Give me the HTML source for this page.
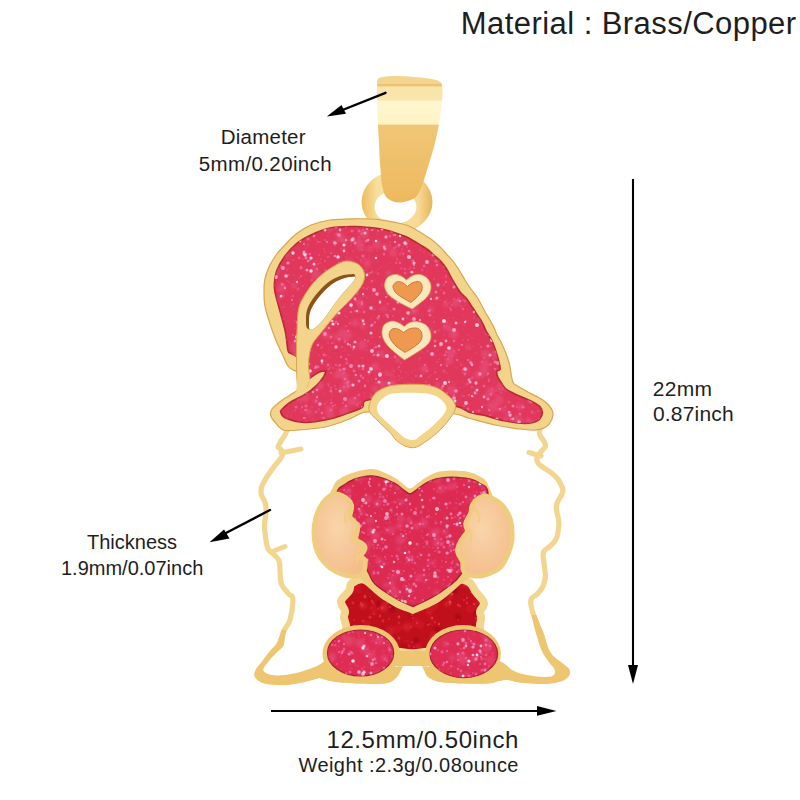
<!DOCTYPE html>
<html><head><meta charset="utf-8"><style>
html,body{margin:0;padding:0;background:#fff;}
body{width:800px;height:800px;position:relative;overflow:hidden;}
.t{position:absolute;font-family:"Liberation Sans",sans-serif;color:#1e1e1e;white-space:nowrap;line-height:1;}
.c{text-align:center;}
</style></head><body>
<svg width="800" height="800" viewBox="0 0 800 800" style="position:absolute;left:0;top:0">
<defs>
<linearGradient id="bailg" x1="0" y1="0" x2="0" y2="1">
 <stop offset="0" stop-color="#f4d48e"/><stop offset="0.06" stop-color="#f4d48e"/>
 <stop offset="0.07" stop-color="#e6bb6a"/><stop offset="0.09" stop-color="#f9e4a8"/>
 <stop offset="0.19" stop-color="#f9e6ad"/><stop offset="0.2" stop-color="#fff6cf"/>
 <stop offset="0.38" stop-color="#fff3c6"/><stop offset="0.39" stop-color="#f0c676"/>
 <stop offset="1" stop-color="#edb95e"/>
</linearGradient>
<linearGradient id="ringg" x1="0" y1="0" x2="1" y2="0">
 <stop offset="0" stop-color="#ecbc60"/><stop offset="0.22" stop-color="#f8df9c"/><stop offset="0.8" stop-color="#f6da96"/><stop offset="1" stop-color="#e8b458"/>
</linearGradient>
<radialGradient id="peachg" cx="0.45" cy="0.4" r="0.7">
 <stop offset="0" stop-color="#f9d5aa"/><stop offset="1" stop-color="#f4bc8a"/>
</radialGradient>
<filter id="blur05" x="-50%" y="-50%" width="200%" height="200%"><feGaussianBlur stdDeviation="0.45"/></filter>
<filter id="blur2" x="-50%" y="-50%" width="200%" height="200%"><feGaussianBlur stdDeviation="1.5"/></filter>
<clipPath id="silclip"><path d="M264.0,290.0 C264.0,286.4 264.1,284.5 264.4,282.0 C264.7,279.5 265.1,277.8 266.0,275.0 C266.9,272.2 268.3,268.3 270.0,265.0 C271.7,261.7 273.7,258.2 276.0,255.0 C278.3,251.8 280.7,249.5 284.0,246.0 C287.3,242.5 291.5,237.5 296.0,234.0 C300.5,230.5 305.3,227.3 311.0,225.0 C316.7,222.7 322.7,221.0 330.0,220.0 C337.3,219.0 347.1,218.9 355.0,218.8 C362.9,218.7 369.6,218.5 377.5,219.4 C385.4,220.3 396.8,222.7 402.5,224.0 C408.2,225.3 409.0,226.1 412.0,227.5 C415.0,228.9 418.0,230.9 420.6,232.5 C423.2,234.1 425.3,235.4 427.5,236.9 C429.7,238.4 431.7,239.6 433.8,241.3 C435.9,243.0 437.9,244.8 440.0,246.9 C442.1,249.0 444.2,251.5 446.3,253.8 C448.4,256.1 450.6,258.3 452.5,260.6 C454.4,262.9 455.4,264.3 457.5,267.5 C459.6,270.7 462.8,276.4 465.0,280.0 C467.2,283.6 469.0,286.2 471.0,289.0 C473.0,291.8 475.2,294.3 477.0,297.0 C478.8,299.7 480.1,302.4 481.5,305.0 C482.9,307.6 484.1,310.0 485.5,312.5 C486.9,315.0 488.6,317.5 490.0,320.0 C491.4,322.5 492.8,325.0 494.0,327.5 C495.2,330.0 495.8,332.6 497.0,335.0 C498.2,337.4 499.6,339.1 501.0,342.0 C502.4,344.9 504.2,348.9 505.6,352.5 C507.0,356.1 508.4,360.1 509.4,363.8 C510.3,367.6 510.7,371.9 511.3,375.0 C511.9,378.1 512.1,380.7 513.1,382.5 C514.1,384.3 515.0,384.4 517.5,386.0 C520.0,387.6 523.6,389.5 527.8,391.9 C532.0,394.2 539.0,397.4 542.9,400.1 C546.8,402.9 549.5,405.9 551.2,408.4 C552.9,410.9 553.2,412.6 553.0,415.0 C552.8,417.4 551.3,420.9 550.0,423.0 C548.7,425.1 546.4,426.1 545.0,427.5 C543.6,428.9 542.2,429.9 541.9,431.3 C541.6,432.7 542.4,434.2 543.1,435.6 C543.8,437.1 545.5,438.5 546.3,440.0 C547.1,441.5 547.9,443.0 548.1,444.4 C548.3,445.8 548.2,446.8 547.5,448.1 C546.8,449.5 544.9,451.1 543.8,452.5 C542.6,453.9 541.3,455.1 540.6,456.3 C539.9,457.6 539.1,458.8 539.4,460.0 C539.7,461.2 540.3,462.1 542.5,463.8 C544.7,465.6 549.6,468.2 552.5,470.5 C555.4,472.8 558.1,475.1 560.0,477.5 C561.9,479.9 563.1,482.9 564.0,485.0 C564.9,487.1 565.5,488.2 565.5,490.0 C565.5,491.8 564.8,494.2 564.0,496.0 C563.2,497.8 561.8,499.3 561.0,501.0 C560.2,502.7 559.2,504.2 559.0,506.0 C558.8,507.8 559.1,509.2 559.5,512.0 C559.9,514.8 561.6,518.5 561.5,523.0 C561.4,527.5 560.6,534.8 559.0,539.0 C557.4,543.2 554.2,545.7 552.0,548.0 C549.8,550.3 546.9,550.7 546.0,553.0 C545.1,555.3 546.2,558.2 546.5,562.0 C546.8,565.8 548.1,572.0 548.0,576.0 C547.9,580.0 546.7,583.7 546.0,586.0 C545.3,588.3 545.0,588.3 543.8,590.0 C542.6,591.7 540.5,594.6 538.8,596.3 C537.1,598.0 534.6,598.5 533.8,600.0 C533.0,601.5 533.4,603.1 533.8,605.6 C534.2,608.1 535.3,611.9 536.3,615.0 C537.3,618.1 538.8,621.3 540.0,624.4 C541.2,627.5 542.3,629.6 543.8,633.8 C545.3,638.0 546.9,645.4 548.8,649.4 C550.7,653.4 552.6,655.1 555.0,657.5 C557.4,659.9 560.8,661.9 563.1,663.8 C565.4,665.7 567.6,667.3 568.8,668.8 C569.9,670.3 570.2,671.5 570.0,673.0 C569.8,674.5 569.0,676.1 567.5,677.5 C566.0,678.9 564.4,680.2 561.3,681.3 C558.2,682.3 553.0,683.4 548.8,683.8 C544.6,684.2 541.1,684.0 536.3,683.8 C531.5,683.6 524.8,683.1 520.0,682.5 C515.2,681.9 511.0,680.2 507.5,680.0 C504.0,679.8 502.2,680.4 499.0,681.0 C495.8,681.6 494.0,683.1 488.0,683.5 C482.0,683.9 471.0,683.8 463.0,683.5 C455.0,683.2 445.8,683.1 440.0,682.0 C434.2,680.9 430.7,679.0 428.0,677.0 C425.3,675.0 425.3,671.9 424.0,670.0 C422.7,668.1 423.2,666.2 420.0,665.5 C416.8,664.8 408.2,664.8 405.0,665.5 C401.8,666.2 402.5,667.9 401.0,670.0 C399.5,672.1 398.7,675.8 396.0,678.0 C393.3,680.2 391.0,682.6 385.0,683.5 C379.0,684.4 368.2,683.8 360.0,683.5 C351.8,683.2 342.2,682.8 336.0,682.0 C329.8,681.2 325.6,679.6 322.5,679.0 C319.4,678.4 321.2,677.7 317.5,678.4 C313.8,679.1 304.5,682.0 300.0,683.0 C295.5,684.0 294.3,684.1 290.6,684.4 C286.9,684.7 282.2,685.1 278.0,685.0 C273.8,684.9 269.0,684.6 265.6,683.8 C262.2,683.0 259.4,681.5 257.5,680.0 C255.6,678.5 254.6,676.9 254.4,675.0 C254.2,673.1 255.0,671.1 256.3,668.8 C257.7,666.5 260.2,664.0 262.5,661.0 C264.8,658.0 267.6,654.0 270.0,651.0 C272.4,648.0 275.1,646.5 277.0,643.0 C278.9,639.5 279.8,634.0 281.5,630.0 C283.2,626.0 286.0,624.0 287.5,619.0 C289.0,614.0 290.2,603.7 290.3,600.0 C290.4,596.3 289.2,598.5 288.0,597.0 C286.8,595.5 284.3,593.0 282.8,591.0 C281.3,589.0 279.9,587.8 279.0,585.0 C278.1,582.2 277.9,577.8 277.5,574.0 C277.1,570.2 277.6,565.3 276.8,562.5 C276.1,559.7 274.8,559.2 273.0,557.3 C271.2,555.4 267.8,553.2 266.3,551.0 C264.8,548.8 264.6,546.2 264.0,544.0 C263.4,541.8 263.3,539.8 263.0,537.5 C262.7,535.2 262.2,532.6 262.0,530.0 C261.8,527.4 261.8,524.3 262.0,522.0 C262.2,519.7 262.8,518.0 263.0,516.0 C263.2,514.0 263.5,511.8 263.5,510.0 C263.5,508.2 263.3,506.5 263.0,505.0 C262.7,503.5 262.2,502.5 261.5,501.0 C260.8,499.5 259.5,497.8 259.0,496.0 C258.5,494.2 258.3,492.0 258.5,490.0 C258.7,488.0 258.9,486.5 260.0,484.0 C261.1,481.5 263.0,478.2 265.0,475.0 C267.0,471.8 269.5,468.5 272.0,465.0 C274.5,461.5 279.4,456.9 280.0,454.0 C280.6,451.1 275.9,449.7 275.6,447.5 C275.3,445.3 276.6,443.8 278.0,441.0 C279.4,438.2 283.6,433.3 283.8,431.0 C283.9,428.7 280.2,428.2 279.0,427.0 C277.8,425.8 277.8,425.8 276.5,424.0 C275.2,422.2 271.8,419.0 271.0,416.5 C270.2,414.0 270.1,411.8 272.0,409.0 C273.9,406.2 279.5,402.3 282.5,400.0 C285.5,397.7 287.5,396.8 290.0,395.0 C292.5,393.2 296.2,392.0 297.5,389.5 C298.8,387.0 298.1,382.9 298.0,380.0 C297.9,377.1 297.8,373.7 297.0,372.0 C296.2,370.3 294.5,371.0 293.0,370.0 C291.5,369.0 289.8,368.6 288.0,366.0 C286.2,363.4 284.6,359.0 282.5,354.6 C280.4,350.2 277.9,345.2 275.6,339.5 C273.3,333.8 270.6,326.2 268.8,320.2 C266.9,314.3 265.4,308.8 264.6,303.8 C263.8,298.7 264.0,293.6 264.0,290.0 Z"/></clipPath>
<clipPath id="pinkclip"><path d="M290.8,353.3 C289.3,352.2 288.9,354.2 288.0,350.5 C287.1,346.8 286.7,337.9 285.3,331.3 C283.9,324.7 281.5,317.2 279.8,310.6 C278.1,304.1 275.9,296.6 275.0,292.0 C274.1,287.4 274.2,286.7 274.5,283.0 C274.8,279.3 275.2,274.5 277.0,270.0 C278.8,265.5 281.8,260.3 285.0,256.0 C288.2,251.7 291.7,247.5 296.0,244.0 C300.3,240.5 305.3,237.7 311.0,235.0 C316.7,232.3 322.7,229.4 330.0,228.0 C337.3,226.6 346.7,226.4 355.0,226.5 C363.3,226.6 373.8,227.9 380.0,228.8 C386.2,229.7 388.3,230.7 392.5,231.9 C396.7,233.2 401.4,234.7 405.0,236.3 C408.6,237.9 411.7,239.8 414.4,241.3 C417.1,242.8 419.1,244.1 421.3,245.5 C423.5,246.9 425.4,247.9 427.5,249.5 C429.6,251.1 431.7,253.2 433.8,255.0 C435.9,256.9 438.0,258.4 440.0,260.6 C442.0,262.8 443.9,264.8 446.0,268.0 C448.1,271.2 450.2,276.0 452.5,280.0 C454.8,284.0 457.8,289.0 460.0,292.0 C462.2,295.0 463.9,295.4 466.0,298.0 C468.1,300.6 470.5,304.5 472.5,307.5 C474.5,310.5 476.3,313.4 478.0,316.0 C479.7,318.6 481.1,320.3 482.5,323.0 C483.9,325.7 484.9,329.0 486.5,332.0 C488.1,335.0 490.4,337.6 492.0,341.0 C493.6,344.4 495.1,348.7 496.3,352.5 C497.5,356.3 498.8,361.0 499.4,363.8 C500.0,366.6 500.4,368.1 500.0,369.4 C499.6,370.6 497.3,370.1 496.9,371.3 C496.5,372.5 496.7,374.2 497.5,376.3 C498.3,378.4 500.5,381.7 501.9,383.8 C503.3,385.9 504.3,387.6 506.0,389.0 C507.7,390.4 510.0,391.4 512.0,392.5 C514.0,393.6 514.8,394.0 518.1,395.5 C521.4,397.0 528.2,399.6 531.9,401.5 C535.6,403.4 538.5,404.9 540.2,407.0 C541.9,409.1 542.7,411.6 542.2,413.9 C541.7,416.2 540.3,419.2 537.4,420.8 C534.5,422.4 530.5,423.5 525.0,423.5 C519.5,423.5 511.3,422.2 504.4,420.8 C497.5,419.4 489.5,416.7 483.8,415.3 C478.1,413.9 474.8,414.1 470.0,412.5 C465.2,410.9 465.0,408.1 455.0,406.0 C445.0,403.9 424.5,401.0 410.0,400.0 C395.5,399.0 376.0,398.8 368.0,400.0 C360.0,401.2 365.5,405.2 362.0,407.5 C358.5,409.8 352.8,411.5 347.0,413.5 C341.2,415.5 334.5,418.0 327.5,419.5 C320.5,421.0 312.0,422.8 305.0,422.5 C298.0,422.2 289.6,419.9 285.5,418.0 C281.4,416.1 280.5,411.0 280.5,411.0 C280.5,411.0 285.9,405.2 290.0,402.5 C294.1,399.8 300.5,397.4 305.0,394.5 C309.5,391.6 313.9,387.9 317.0,385.0 C320.1,382.1 322.0,379.3 323.5,377.0 C325.0,374.7 326.0,371.0 326.0,371.0 C326.0,371.0 321.6,371.2 319.5,372.0 C317.4,372.8 315.2,374.4 313.5,375.5 C311.8,376.6 309.5,378.5 309.5,378.5 C309.5,378.5 308.1,377.1 307.0,375.0 C305.9,372.9 304.7,369.0 303.0,366.0 C301.3,363.0 299.0,359.1 297.0,357.0 C295.0,354.9 292.3,354.4 290.8,353.3 Z"/></clipPath>
<clipPath id="heartclip"><path d="M337.0,493.0 C337.7,487.2 341.2,487.2 344.0,485.0 C346.8,482.8 350.3,480.9 353.8,479.5 C357.3,478.1 361.2,477.0 365.0,476.5 C368.8,476.0 371.4,475.3 376.3,476.4 C381.2,477.5 389.9,481.0 394.3,483.2 C398.8,485.4 400.4,487.7 403.0,489.5 C405.6,491.3 407.7,494.0 410.0,494.0 C412.3,494.0 414.4,491.3 417.0,489.5 C419.6,487.7 422.7,484.9 425.9,483.2 C429.1,481.4 432.6,479.9 436.0,479.0 C439.4,478.1 442.3,477.8 446.0,477.5 C449.7,477.2 454.2,477.3 458.0,477.5 C461.8,477.7 465.1,477.7 468.6,478.6 C472.1,479.5 475.8,480.4 479.0,483.0 C482.2,485.6 487.8,484.5 488.0,494.0 C488.2,503.5 484.5,526.7 480.0,540.0 C475.5,553.3 466.2,566.3 461.0,574.0 C455.8,581.7 454.0,582.0 449.0,586.0 C444.0,590.0 437.0,594.6 431.0,598.0 C425.0,601.4 413.0,606.5 413.0,606.5 C413.0,606.5 401.3,601.8 395.0,598.0 C388.7,594.2 379.7,588.7 375.0,584.0 C370.3,579.3 372.8,580.7 367.0,570.0 C361.2,559.3 345.0,532.8 340.0,520.0 C335.0,507.2 336.3,498.8 337.0,493.0 Z"/></clipPath>
<clipPath id="redclip"><path d="M352.0,583.0 C349.3,584.8 350.8,588.0 349.0,591.0 C347.2,594.0 341.7,597.7 341.0,601.0 C340.3,604.3 344.5,608.3 345.0,611.0 C345.5,613.7 343.8,614.7 344.0,617.0 C344.2,619.3 344.7,620.8 346.0,625.0 C347.3,629.2 343.0,637.5 352.0,642.0 C361.0,646.5 387.8,650.3 400.0,652.0 C412.2,653.7 412.5,653.7 425.0,652.0 C437.5,650.3 465.8,646.5 475.0,642.0 C484.2,637.5 479.0,629.2 480.0,625.0 C481.0,620.8 481.0,619.3 481.0,617.0 C481.0,614.7 479.5,613.3 480.0,611.0 C480.5,608.7 484.7,606.2 484.0,603.0 C483.3,599.8 478.3,595.3 476.0,592.0 C473.7,588.7 472.7,585.0 470.0,583.0 C467.3,581.0 465.0,578.5 460.0,580.0 C455.0,581.5 447.8,587.3 440.0,592.0 C432.2,596.7 422.2,607.3 413.0,608.0 C403.8,608.7 393.0,600.7 385.0,596.0 C377.0,591.3 370.5,582.2 365.0,580.0 C359.5,577.8 354.7,581.2 352.0,583.0 Z"/></clipPath>
</defs>
<ellipse cx="397" cy="202" rx="35.5" ry="31" fill="url(#ringg)"/>
<ellipse cx="395.5" cy="207" rx="21" ry="16.5" fill="#fff"/>
<path d="M377.8,79.0 C379.3,77.1 382.7,77.0 386.0,76.5 C389.3,76.0 391.8,75.8 397.5,76.0 C403.2,76.2 413.1,76.7 420.0,77.5 C426.9,78.3 435.1,79.0 438.8,81.0 C442.6,83.0 442.1,85.4 442.5,89.4 C442.9,93.4 442.0,99.7 441.5,105.0 C441.0,110.3 440.7,114.3 439.5,121.0 C438.3,127.7 436.6,136.8 434.5,145.0 C432.4,153.2 429.2,162.8 427.0,170.0 C424.8,177.2 423.1,183.3 421.0,188.0 C418.9,192.7 418.2,195.6 414.5,198.0 C410.8,200.4 403.6,202.5 399.0,202.5 C394.4,202.5 389.8,200.6 387.0,198.0 C384.2,195.4 383.6,191.7 382.5,187.0 C381.4,182.3 381.1,177.8 380.5,170.0 C379.9,162.2 379.3,151.2 378.8,140.0 C378.2,128.8 377.3,111.2 377.0,102.5 C376.7,93.8 377.1,91.9 377.2,88.0 C377.3,84.1 376.3,80.9 377.8,79.0 Z" fill="url(#bailg)"/>
<g clip-path="url(#silclip)"><path d="M264.0,290.0 C264.0,286.4 264.1,284.5 264.4,282.0 C264.7,279.5 265.1,277.8 266.0,275.0 C266.9,272.2 268.3,268.3 270.0,265.0 C271.7,261.7 273.7,258.2 276.0,255.0 C278.3,251.8 280.7,249.5 284.0,246.0 C287.3,242.5 291.5,237.5 296.0,234.0 C300.5,230.5 305.3,227.3 311.0,225.0 C316.7,222.7 322.7,221.0 330.0,220.0 C337.3,219.0 347.1,218.9 355.0,218.8 C362.9,218.7 369.6,218.5 377.5,219.4 C385.4,220.3 396.8,222.7 402.5,224.0 C408.2,225.3 409.0,226.1 412.0,227.5 C415.0,228.9 418.0,230.9 420.6,232.5 C423.2,234.1 425.3,235.4 427.5,236.9 C429.7,238.4 431.7,239.6 433.8,241.3 C435.9,243.0 437.9,244.8 440.0,246.9 C442.1,249.0 444.2,251.5 446.3,253.8 C448.4,256.1 450.6,258.3 452.5,260.6 C454.4,262.9 455.4,264.3 457.5,267.5 C459.6,270.7 462.8,276.4 465.0,280.0 C467.2,283.6 469.0,286.2 471.0,289.0 C473.0,291.8 475.2,294.3 477.0,297.0 C478.8,299.7 480.1,302.4 481.5,305.0 C482.9,307.6 484.1,310.0 485.5,312.5 C486.9,315.0 488.6,317.5 490.0,320.0 C491.4,322.5 492.8,325.0 494.0,327.5 C495.2,330.0 495.8,332.6 497.0,335.0 C498.2,337.4 499.6,339.1 501.0,342.0 C502.4,344.9 504.2,348.9 505.6,352.5 C507.0,356.1 508.4,360.1 509.4,363.8 C510.3,367.6 510.7,371.9 511.3,375.0 C511.9,378.1 512.1,380.7 513.1,382.5 C514.1,384.3 515.0,384.4 517.5,386.0 C520.0,387.6 523.6,389.5 527.8,391.9 C532.0,394.2 539.0,397.4 542.9,400.1 C546.8,402.9 549.5,405.9 551.2,408.4 C552.9,410.9 553.2,412.6 553.0,415.0 C552.8,417.4 551.3,420.9 550.0,423.0 C548.7,425.1 546.4,426.1 545.0,427.5 C543.6,428.9 542.2,429.9 541.9,431.3 C541.6,432.7 542.4,434.2 543.1,435.6 C543.8,437.1 545.5,438.5 546.3,440.0 C547.1,441.5 547.9,443.0 548.1,444.4 C548.3,445.8 548.2,446.8 547.5,448.1 C546.8,449.5 544.9,451.1 543.8,452.5 C542.6,453.9 541.3,455.1 540.6,456.3 C539.9,457.6 539.1,458.8 539.4,460.0 C539.7,461.2 540.3,462.1 542.5,463.8 C544.7,465.6 549.6,468.2 552.5,470.5 C555.4,472.8 558.1,475.1 560.0,477.5 C561.9,479.9 563.1,482.9 564.0,485.0 C564.9,487.1 565.5,488.2 565.5,490.0 C565.5,491.8 564.8,494.2 564.0,496.0 C563.2,497.8 561.8,499.3 561.0,501.0 C560.2,502.7 559.2,504.2 559.0,506.0 C558.8,507.8 559.1,509.2 559.5,512.0 C559.9,514.8 561.6,518.5 561.5,523.0 C561.4,527.5 560.6,534.8 559.0,539.0 C557.4,543.2 554.2,545.7 552.0,548.0 C549.8,550.3 546.9,550.7 546.0,553.0 C545.1,555.3 546.2,558.2 546.5,562.0 C546.8,565.8 548.1,572.0 548.0,576.0 C547.9,580.0 546.7,583.7 546.0,586.0 C545.3,588.3 545.0,588.3 543.8,590.0 C542.6,591.7 540.5,594.6 538.8,596.3 C537.1,598.0 534.6,598.5 533.8,600.0 C533.0,601.5 533.4,603.1 533.8,605.6 C534.2,608.1 535.3,611.9 536.3,615.0 C537.3,618.1 538.8,621.3 540.0,624.4 C541.2,627.5 542.3,629.6 543.8,633.8 C545.3,638.0 546.9,645.4 548.8,649.4 C550.7,653.4 552.6,655.1 555.0,657.5 C557.4,659.9 560.8,661.9 563.1,663.8 C565.4,665.7 567.6,667.3 568.8,668.8 C569.9,670.3 570.2,671.5 570.0,673.0 C569.8,674.5 569.0,676.1 567.5,677.5 C566.0,678.9 564.4,680.2 561.3,681.3 C558.2,682.3 553.0,683.4 548.8,683.8 C544.6,684.2 541.1,684.0 536.3,683.8 C531.5,683.6 524.8,683.1 520.0,682.5 C515.2,681.9 511.0,680.2 507.5,680.0 C504.0,679.8 502.2,680.4 499.0,681.0 C495.8,681.6 494.0,683.1 488.0,683.5 C482.0,683.9 471.0,683.8 463.0,683.5 C455.0,683.2 445.8,683.1 440.0,682.0 C434.2,680.9 430.7,679.0 428.0,677.0 C425.3,675.0 425.3,671.9 424.0,670.0 C422.7,668.1 423.2,666.2 420.0,665.5 C416.8,664.8 408.2,664.8 405.0,665.5 C401.8,666.2 402.5,667.9 401.0,670.0 C399.5,672.1 398.7,675.8 396.0,678.0 C393.3,680.2 391.0,682.6 385.0,683.5 C379.0,684.4 368.2,683.8 360.0,683.5 C351.8,683.2 342.2,682.8 336.0,682.0 C329.8,681.2 325.6,679.6 322.5,679.0 C319.4,678.4 321.2,677.7 317.5,678.4 C313.8,679.1 304.5,682.0 300.0,683.0 C295.5,684.0 294.3,684.1 290.6,684.4 C286.9,684.7 282.2,685.1 278.0,685.0 C273.8,684.9 269.0,684.6 265.6,683.8 C262.2,683.0 259.4,681.5 257.5,680.0 C255.6,678.5 254.6,676.9 254.4,675.0 C254.2,673.1 255.0,671.1 256.3,668.8 C257.7,666.5 260.2,664.0 262.5,661.0 C264.8,658.0 267.6,654.0 270.0,651.0 C272.4,648.0 275.1,646.5 277.0,643.0 C278.9,639.5 279.8,634.0 281.5,630.0 C283.2,626.0 286.0,624.0 287.5,619.0 C289.0,614.0 290.2,603.7 290.3,600.0 C290.4,596.3 289.2,598.5 288.0,597.0 C286.8,595.5 284.3,593.0 282.8,591.0 C281.3,589.0 279.9,587.8 279.0,585.0 C278.1,582.2 277.9,577.8 277.5,574.0 C277.1,570.2 277.6,565.3 276.8,562.5 C276.1,559.7 274.8,559.2 273.0,557.3 C271.2,555.4 267.8,553.2 266.3,551.0 C264.8,548.8 264.6,546.2 264.0,544.0 C263.4,541.8 263.3,539.8 263.0,537.5 C262.7,535.2 262.2,532.6 262.0,530.0 C261.8,527.4 261.8,524.3 262.0,522.0 C262.2,519.7 262.8,518.0 263.0,516.0 C263.2,514.0 263.5,511.8 263.5,510.0 C263.5,508.2 263.3,506.5 263.0,505.0 C262.7,503.5 262.2,502.5 261.5,501.0 C260.8,499.5 259.5,497.8 259.0,496.0 C258.5,494.2 258.3,492.0 258.5,490.0 C258.7,488.0 258.9,486.5 260.0,484.0 C261.1,481.5 263.0,478.2 265.0,475.0 C267.0,471.8 269.5,468.5 272.0,465.0 C274.5,461.5 279.4,456.9 280.0,454.0 C280.6,451.1 275.9,449.7 275.6,447.5 C275.3,445.3 276.6,443.8 278.0,441.0 C279.4,438.2 283.6,433.3 283.8,431.0 C283.9,428.7 280.2,428.2 279.0,427.0 C277.8,425.8 277.8,425.8 276.5,424.0 C275.2,422.2 271.8,419.0 271.0,416.5 C270.2,414.0 270.1,411.8 272.0,409.0 C273.9,406.2 279.5,402.3 282.5,400.0 C285.5,397.7 287.5,396.8 290.0,395.0 C292.5,393.2 296.2,392.0 297.5,389.5 C298.8,387.0 298.1,382.9 298.0,380.0 C297.9,377.1 297.8,373.7 297.0,372.0 C296.2,370.3 294.5,371.0 293.0,370.0 C291.5,369.0 289.8,368.6 288.0,366.0 C286.2,363.4 284.6,359.0 282.5,354.6 C280.4,350.2 277.9,345.2 275.6,339.5 C273.3,333.8 270.6,326.2 268.8,320.2 C266.9,314.3 265.4,308.8 264.6,303.8 C263.8,298.7 264.0,293.6 264.0,290.0 Z" fill="#ffffff" stroke="#f2d690" stroke-width="10.5"/><rect x="316" y="667" width="186" height="26" fill="#eec671"/></g>
<line x1="281" y1="453" x2="301" y2="449" stroke="#f2d690" stroke-width="5" stroke-linecap="round"/>
<line x1="273.5" y1="551" x2="285" y2="546.5" stroke="#f2d690" stroke-width="5" stroke-linecap="round"/>
<line x1="541" y1="456" x2="529" y2="452.5" stroke="#f2d690" stroke-width="5" stroke-linecap="round"/>
<path d="M264.0,290.0 C264.0,286.4 264.1,284.5 264.4,282.0 C264.7,279.5 265.1,277.8 266.0,275.0 C266.9,272.2 268.3,268.3 270.0,265.0 C271.7,261.7 273.7,258.2 276.0,255.0 C278.3,251.8 280.7,249.5 284.0,246.0 C287.3,242.5 291.5,237.5 296.0,234.0 C300.5,230.5 305.3,227.3 311.0,225.0 C316.7,222.7 322.7,221.0 330.0,220.0 C337.3,219.0 347.1,218.9 355.0,218.8 C362.9,218.7 369.6,218.5 377.5,219.4 C385.4,220.3 396.8,222.7 402.5,224.0 C408.2,225.3 409.0,226.1 412.0,227.5 C415.0,228.9 418.0,230.9 420.6,232.5 C423.2,234.1 425.3,235.4 427.5,236.9 C429.7,238.4 431.7,239.6 433.8,241.3 C435.9,243.0 437.9,244.8 440.0,246.9 C442.1,249.0 444.2,251.5 446.3,253.8 C448.4,256.1 450.6,258.3 452.5,260.6 C454.4,262.9 455.4,264.3 457.5,267.5 C459.6,270.7 462.8,276.4 465.0,280.0 C467.2,283.6 469.0,286.2 471.0,289.0 C473.0,291.8 475.2,294.3 477.0,297.0 C478.8,299.7 480.1,302.4 481.5,305.0 C482.9,307.6 484.1,310.0 485.5,312.5 C486.9,315.0 488.6,317.5 490.0,320.0 C491.4,322.5 492.8,325.0 494.0,327.5 C495.2,330.0 495.8,332.6 497.0,335.0 C498.2,337.4 499.6,339.1 501.0,342.0 C502.4,344.9 504.2,348.9 505.6,352.5 C507.0,356.1 508.4,360.1 509.4,363.8 C510.3,367.6 510.7,371.9 511.3,375.0 C511.9,378.1 512.1,380.7 513.1,382.5 C514.1,384.3 515.0,384.4 517.5,386.0 C520.0,387.6 523.6,389.5 527.8,391.9 C532.0,394.2 539.0,397.4 542.9,400.1 C546.8,402.9 549.5,405.9 551.2,408.4 C552.9,410.9 553.2,412.6 553.0,415.0 C552.8,417.4 551.3,420.9 550.0,423.0 C548.7,425.1 547.3,426.3 545.0,427.5 C542.7,428.7 539.3,429.7 536.0,430.0 C532.7,430.3 531.4,430.2 525.0,429.5 C518.6,428.8 506.7,427.3 497.5,425.5 C488.3,423.7 477.1,420.4 470.0,418.5 C462.9,416.6 463.3,415.1 455.0,414.0 C446.7,412.9 434.2,412.3 420.0,412.0 C405.8,411.7 379.7,411.8 370.0,412.0 C360.3,412.2 365.8,411.7 362.0,413.0 C358.2,414.3 352.8,417.8 347.0,420.0 C341.2,422.2 334.5,424.9 327.5,426.5 C320.5,428.1 312.0,428.8 305.0,429.5 C298.0,430.2 289.8,430.9 285.5,430.5 C281.2,430.1 280.5,428.1 279.0,427.0 C277.5,425.9 277.8,425.8 276.5,424.0 C275.2,422.2 271.8,419.0 271.0,416.5 C270.2,414.0 270.1,411.8 272.0,409.0 C273.9,406.2 279.5,402.3 282.5,400.0 C285.5,397.7 287.5,396.8 290.0,395.0 C292.5,393.2 296.2,392.0 297.5,389.5 C298.8,387.0 298.1,382.9 298.0,380.0 C297.9,377.1 297.8,373.7 297.0,372.0 C296.2,370.3 294.5,371.0 293.0,370.0 C291.5,369.0 289.8,368.6 288.0,366.0 C286.2,363.4 284.6,359.0 282.5,354.6 C280.4,350.2 277.9,345.2 275.6,339.5 C273.3,333.8 270.6,326.2 268.8,320.2 C266.9,314.3 265.4,308.8 264.6,303.8 C263.8,298.7 264.0,293.6 264.0,290.0 Z" fill="#f2d48b" stroke="#d9a552" stroke-width="1.2"/>
<path d="M290.8,353.3 C289.3,352.2 288.9,354.2 288.0,350.5 C287.1,346.8 286.7,337.9 285.3,331.3 C283.9,324.7 281.5,317.2 279.8,310.6 C278.1,304.1 275.9,296.6 275.0,292.0 C274.1,287.4 274.2,286.7 274.5,283.0 C274.8,279.3 275.2,274.5 277.0,270.0 C278.8,265.5 281.8,260.3 285.0,256.0 C288.2,251.7 291.7,247.5 296.0,244.0 C300.3,240.5 305.3,237.7 311.0,235.0 C316.7,232.3 322.7,229.4 330.0,228.0 C337.3,226.6 346.7,226.4 355.0,226.5 C363.3,226.6 373.8,227.9 380.0,228.8 C386.2,229.7 388.3,230.7 392.5,231.9 C396.7,233.2 401.4,234.7 405.0,236.3 C408.6,237.9 411.7,239.8 414.4,241.3 C417.1,242.8 419.1,244.1 421.3,245.5 C423.5,246.9 425.4,247.9 427.5,249.5 C429.6,251.1 431.7,253.2 433.8,255.0 C435.9,256.9 438.0,258.4 440.0,260.6 C442.0,262.8 443.9,264.8 446.0,268.0 C448.1,271.2 450.2,276.0 452.5,280.0 C454.8,284.0 457.8,289.0 460.0,292.0 C462.2,295.0 463.9,295.4 466.0,298.0 C468.1,300.6 470.5,304.5 472.5,307.5 C474.5,310.5 476.3,313.4 478.0,316.0 C479.7,318.6 481.1,320.3 482.5,323.0 C483.9,325.7 484.9,329.0 486.5,332.0 C488.1,335.0 490.4,337.6 492.0,341.0 C493.6,344.4 495.1,348.7 496.3,352.5 C497.5,356.3 498.8,361.0 499.4,363.8 C500.0,366.6 500.4,368.1 500.0,369.4 C499.6,370.6 497.3,370.1 496.9,371.3 C496.5,372.5 496.7,374.2 497.5,376.3 C498.3,378.4 500.5,381.7 501.9,383.8 C503.3,385.9 504.3,387.6 506.0,389.0 C507.7,390.4 510.0,391.4 512.0,392.5 C514.0,393.6 514.8,394.0 518.1,395.5 C521.4,397.0 528.2,399.6 531.9,401.5 C535.6,403.4 538.5,404.9 540.2,407.0 C541.9,409.1 542.7,411.6 542.2,413.9 C541.7,416.2 540.3,419.2 537.4,420.8 C534.5,422.4 530.5,423.5 525.0,423.5 C519.5,423.5 511.3,422.2 504.4,420.8 C497.5,419.4 489.5,416.7 483.8,415.3 C478.1,413.9 474.8,414.1 470.0,412.5 C465.2,410.9 465.0,408.1 455.0,406.0 C445.0,403.9 424.5,401.0 410.0,400.0 C395.5,399.0 376.0,398.8 368.0,400.0 C360.0,401.2 365.5,405.2 362.0,407.5 C358.5,409.8 352.8,411.5 347.0,413.5 C341.2,415.5 334.5,418.0 327.5,419.5 C320.5,421.0 312.0,422.8 305.0,422.5 C298.0,422.2 289.6,419.9 285.5,418.0 C281.4,416.1 280.5,411.0 280.5,411.0 C280.5,411.0 285.9,405.2 290.0,402.5 C294.1,399.8 300.5,397.4 305.0,394.5 C309.5,391.6 313.9,387.9 317.0,385.0 C320.1,382.1 322.0,379.3 323.5,377.0 C325.0,374.7 326.0,371.0 326.0,371.0 C326.0,371.0 321.6,371.2 319.5,372.0 C317.4,372.8 315.2,374.4 313.5,375.5 C311.8,376.6 309.5,378.5 309.5,378.5 C309.5,378.5 308.1,377.1 307.0,375.0 C305.9,372.9 304.7,369.0 303.0,366.0 C301.3,363.0 299.0,359.1 297.0,357.0 C295.0,354.9 292.3,354.4 290.8,353.3 Z" fill="#e1375a" stroke="#b82a30" stroke-width="1.6"/>
<g clip-path="url(#pinkclip)"><g filter="url(#blur2)"><g fill="#f07ab0" opacity="0.25"><circle cx="305" cy="398" r="4.4"/><circle cx="489" cy="319" r="3.4"/><circle cx="273" cy="396" r="3.6"/><circle cx="344" cy="388" r="4.0"/><circle cx="274" cy="225" r="3.9"/><circle cx="551" cy="372" r="3.8"/><circle cx="428" cy="293" r="4.2"/><circle cx="538" cy="307" r="4.8"/><circle cx="558" cy="401" r="2.8"/><circle cx="552" cy="325" r="4.9"/><circle cx="438" cy="405" r="4.6"/><circle cx="275" cy="271" r="4.5"/><circle cx="373" cy="405" r="4.4"/><circle cx="461" cy="243" r="2.9"/><circle cx="481" cy="319" r="3.3"/><circle cx="315" cy="268" r="2.5"/><circle cx="519" cy="269" r="3.8"/><circle cx="344" cy="335" r="4.9"/><circle cx="518" cy="420" r="4.8"/><circle cx="431" cy="309" r="2.6"/><circle cx="324" cy="326" r="3.7"/><circle cx="265" cy="333" r="4.5"/><circle cx="273" cy="268" r="2.9"/><circle cx="501" cy="387" r="4.5"/><circle cx="543" cy="235" r="4.7"/><circle cx="488" cy="272" r="2.8"/><circle cx="286" cy="254" r="3.8"/><circle cx="456" cy="282" r="4.3"/><circle cx="272" cy="301" r="3.6"/><circle cx="340" cy="373" r="4.9"/><circle cx="271" cy="224" r="2.9"/><circle cx="414" cy="310" r="4.6"/><circle cx="456" cy="303" r="3.9"/><circle cx="391" cy="375" r="2.8"/><circle cx="355" cy="400" r="3.3"/><circle cx="388" cy="273" r="2.5"/><circle cx="329" cy="409" r="3.7"/><circle cx="367" cy="263" r="4.2"/><circle cx="410" cy="417" r="3.5"/><circle cx="446" cy="304" r="3.2"/><circle cx="362" cy="427" r="4.5"/><circle cx="344" cy="240" r="3.4"/><circle cx="512" cy="332" r="4.4"/><circle cx="277" cy="248" r="2.9"/><circle cx="363" cy="326" r="3.1"/><circle cx="351" cy="402" r="4.0"/><circle cx="428" cy="242" r="2.6"/><circle cx="557" cy="251" r="2.8"/><circle cx="496" cy="299" r="3.9"/><circle cx="546" cy="297" r="3.2"/><circle cx="347" cy="385" r="4.6"/><circle cx="269" cy="307" r="4.6"/><circle cx="497" cy="343" r="2.9"/><circle cx="336" cy="376" r="2.8"/><circle cx="425" cy="392" r="3.9"/><circle cx="326" cy="287" r="2.6"/><circle cx="359" cy="302" r="3.5"/><circle cx="551" cy="424" r="2.8"/><circle cx="494" cy="407" r="4.7"/><circle cx="341" cy="334" r="3.3"/><circle cx="507" cy="239" r="4.4"/><circle cx="455" cy="418" r="3.5"/><circle cx="320" cy="386" r="3.9"/><circle cx="295" cy="348" r="4.5"/><circle cx="271" cy="271" r="2.7"/><circle cx="271" cy="222" r="4.4"/><circle cx="519" cy="252" r="3.8"/><circle cx="545" cy="256" r="4.4"/><circle cx="359" cy="242" r="3.8"/><circle cx="326" cy="335" r="4.3"/><circle cx="449" cy="361" r="3.9"/><circle cx="393" cy="253" r="4.3"/><circle cx="284" cy="422" r="4.5"/><circle cx="516" cy="315" r="3.5"/><circle cx="408" cy="387" r="4.8"/><circle cx="370" cy="249" r="2.8"/><circle cx="347" cy="338" r="2.9"/><circle cx="267" cy="331" r="3.8"/><circle cx="454" cy="267" r="3.3"/><circle cx="475" cy="291" r="4.0"/><circle cx="330" cy="414" r="4.4"/><circle cx="491" cy="405" r="3.3"/><circle cx="375" cy="367" r="4.3"/><circle cx="529" cy="422" r="3.9"/><circle cx="391" cy="418" r="4.3"/><circle cx="381" cy="354" r="3.5"/><circle cx="558" cy="330" r="2.7"/><circle cx="344" cy="412" r="4.9"/><circle cx="447" cy="423" r="4.2"/><circle cx="538" cy="424" r="3.5"/><circle cx="533" cy="312" r="4.1"/><circle cx="300" cy="346" r="3.5"/><circle cx="347" cy="300" r="3.9"/><circle cx="436" cy="226" r="4.9"/><circle cx="326" cy="280" r="3.9"/><circle cx="488" cy="395" r="3.6"/><circle cx="410" cy="400" r="4.4"/><circle cx="504" cy="410" r="2.6"/><circle cx="550" cy="380" r="4.9"/><circle cx="375" cy="389" r="3.6"/><circle cx="360" cy="246" r="4.3"/><circle cx="383" cy="384" r="4.2"/><circle cx="536" cy="300" r="3.9"/><circle cx="478" cy="375" r="4.3"/><circle cx="401" cy="395" r="3.5"/><circle cx="398" cy="360" r="3.0"/><circle cx="436" cy="424" r="3.3"/><circle cx="485" cy="354" r="4.1"/><circle cx="451" cy="353" r="4.8"/><circle cx="491" cy="391" r="4.0"/><circle cx="500" cy="306" r="4.2"/><circle cx="511" cy="322" r="3.7"/><circle cx="294" cy="344" r="2.7"/><circle cx="271" cy="327" r="4.9"/><circle cx="468" cy="347" r="3.0"/><circle cx="364" cy="234" r="4.2"/><circle cx="430" cy="230" r="3.2"/><circle cx="483" cy="302" r="3.5"/><circle cx="521" cy="289" r="3.1"/><circle cx="274" cy="409" r="4.1"/><circle cx="540" cy="272" r="3.2"/><circle cx="314" cy="424" r="3.6"/><circle cx="342" cy="331" r="2.8"/><circle cx="395" cy="285" r="3.5"/><circle cx="477" cy="284" r="2.8"/><circle cx="539" cy="421" r="2.6"/><circle cx="329" cy="227" r="4.3"/><circle cx="512" cy="245" r="4.2"/><circle cx="334" cy="314" r="4.4"/><circle cx="349" cy="335" r="3.5"/><circle cx="362" cy="345" r="4.8"/><circle cx="500" cy="400" r="3.3"/><circle cx="350" cy="261" r="2.9"/><circle cx="274" cy="301" r="4.7"/><circle cx="340" cy="237" r="4.1"/><circle cx="275" cy="233" r="4.6"/><circle cx="495" cy="311" r="3.0"/><circle cx="485" cy="364" r="4.6"/><circle cx="451" cy="424" r="4.1"/><circle cx="438" cy="385" r="2.9"/><circle cx="430" cy="330" r="2.7"/><circle cx="424" cy="369" r="3.8"/><circle cx="484" cy="371" r="4.4"/><circle cx="293" cy="232" r="3.0"/><circle cx="281" cy="239" r="4.5"/><circle cx="294" cy="286" r="2.8"/><circle cx="303" cy="303" r="4.3"/><circle cx="420" cy="239" r="4.5"/><circle cx="519" cy="232" r="3.2"/><circle cx="377" cy="245" r="4.2"/><circle cx="337" cy="337" r="3.3"/><circle cx="380" cy="408" r="3.7"/><circle cx="397" cy="427" r="4.3"/><circle cx="510" cy="281" r="2.9"/><circle cx="361" cy="306" r="2.8"/><circle cx="505" cy="357" r="3.3"/><circle cx="345" cy="377" r="3.8"/><circle cx="309" cy="412" r="3.3"/><circle cx="398" cy="279" r="3.6"/><circle cx="551" cy="391" r="4.8"/><circle cx="419" cy="341" r="5.0"/><circle cx="485" cy="296" r="4.9"/><circle cx="402" cy="426" r="3.8"/><circle cx="339" cy="266" r="2.8"/><circle cx="386" cy="373" r="2.6"/><circle cx="466" cy="370" r="3.0"/><circle cx="420" cy="236" r="2.7"/><circle cx="316" cy="401" r="2.6"/><circle cx="409" cy="390" r="3.0"/><circle cx="520" cy="407" r="3.6"/><circle cx="544" cy="388" r="4.3"/><circle cx="267" cy="332" r="3.5"/><circle cx="447" cy="327" r="3.9"/><circle cx="516" cy="316" r="3.0"/><circle cx="454" cy="334" r="4.6"/><circle cx="425" cy="340" r="3.9"/><circle cx="506" cy="420" r="3.5"/><circle cx="304" cy="313" r="2.9"/><circle cx="268" cy="309" r="4.2"/><circle cx="384" cy="417" r="4.7"/><circle cx="538" cy="398" r="3.5"/><circle cx="496" cy="354" r="4.6"/><circle cx="502" cy="322" r="2.9"/><circle cx="316" cy="275" r="4.6"/><circle cx="387" cy="417" r="3.2"/><circle cx="393" cy="383" r="3.7"/><circle cx="384" cy="309" r="2.7"/><circle cx="333" cy="225" r="3.1"/><circle cx="294" cy="356" r="3.0"/><circle cx="446" cy="429" r="3.9"/><circle cx="544" cy="424" r="2.8"/><circle cx="484" cy="429" r="4.2"/><circle cx="499" cy="400" r="4.5"/><circle cx="302" cy="314" r="4.2"/><circle cx="299" cy="399" r="2.8"/><circle cx="472" cy="255" r="3.1"/><circle cx="452" cy="390" r="4.8"/><circle cx="295" cy="379" r="4.3"/><circle cx="551" cy="276" r="3.9"/><circle cx="532" cy="241" r="3.8"/><circle cx="386" cy="247" r="3.0"/><circle cx="445" cy="251" r="3.5"/><circle cx="355" cy="323" r="3.7"/><circle cx="317" cy="379" r="4.3"/><circle cx="282" cy="288" r="4.2"/><circle cx="411" cy="289" r="2.8"/></g></g><g filter="url(#blur05)"><g fill="#f28cc8" opacity="0.50"><circle cx="436" cy="261" r="1.6"/><circle cx="461" cy="265" r="1.0"/><circle cx="496" cy="289" r="1.2"/><circle cx="525" cy="303" r="1.1"/><circle cx="507" cy="427" r="1.1"/><circle cx="551" cy="237" r="0.9"/><circle cx="285" cy="335" r="1.4"/><circle cx="339" cy="263" r="0.9"/><circle cx="518" cy="316" r="1.3"/><circle cx="346" cy="359" r="1.2"/><circle cx="541" cy="281" r="1.3"/><circle cx="426" cy="287" r="1.3"/><circle cx="553" cy="243" r="0.8"/><circle cx="535" cy="259" r="1.4"/><circle cx="484" cy="302" r="1.3"/><circle cx="340" cy="370" r="1.2"/><circle cx="551" cy="259" r="0.9"/><circle cx="333" cy="406" r="0.9"/><circle cx="519" cy="287" r="1.4"/><circle cx="526" cy="366" r="1.1"/><circle cx="268" cy="257" r="0.9"/><circle cx="434" cy="423" r="0.8"/><circle cx="363" cy="256" r="1.6"/><circle cx="275" cy="221" r="1.3"/><circle cx="366" cy="241" r="1.5"/><circle cx="440" cy="260" r="1.1"/><circle cx="324" cy="355" r="1.4"/><circle cx="325" cy="261" r="0.9"/><circle cx="519" cy="381" r="1.2"/><circle cx="445" cy="355" r="1.2"/><circle cx="370" cy="273" r="1.0"/><circle cx="295" cy="379" r="1.2"/><circle cx="402" cy="352" r="0.9"/><circle cx="549" cy="274" r="1.5"/><circle cx="422" cy="299" r="1.6"/><circle cx="314" cy="328" r="1.1"/><circle cx="559" cy="379" r="1.4"/><circle cx="510" cy="426" r="1.5"/><circle cx="315" cy="368" r="1.2"/><circle cx="541" cy="279" r="1.0"/><circle cx="413" cy="261" r="1.4"/><circle cx="555" cy="226" r="1.0"/><circle cx="507" cy="319" r="1.5"/><circle cx="518" cy="427" r="0.8"/><circle cx="444" cy="293" r="1.5"/><circle cx="380" cy="303" r="1.2"/><circle cx="325" cy="240" r="0.8"/><circle cx="306" cy="410" r="1.2"/><circle cx="403" cy="254" r="1.1"/><circle cx="518" cy="325" r="1.4"/><circle cx="371" cy="326" r="1.2"/><circle cx="417" cy="412" r="1.1"/><circle cx="548" cy="252" r="1.5"/><circle cx="537" cy="291" r="1.2"/><circle cx="297" cy="387" r="0.8"/><circle cx="336" cy="322" r="1.5"/><circle cx="378" cy="318" r="1.5"/><circle cx="361" cy="269" r="1.0"/><circle cx="308" cy="239" r="1.4"/><circle cx="505" cy="310" r="0.9"/><circle cx="469" cy="395" r="1.1"/><circle cx="467" cy="291" r="0.9"/><circle cx="378" cy="231" r="1.1"/><circle cx="394" cy="277" r="1.2"/><circle cx="479" cy="307" r="1.3"/><circle cx="454" cy="273" r="1.5"/><circle cx="462" cy="271" r="1.0"/><circle cx="374" cy="355" r="1.4"/><circle cx="325" cy="223" r="1.6"/><circle cx="546" cy="250" r="1.4"/><circle cx="525" cy="299" r="1.1"/><circle cx="396" cy="394" r="1.0"/><circle cx="521" cy="224" r="1.2"/><circle cx="270" cy="391" r="1.2"/><circle cx="458" cy="428" r="1.2"/><circle cx="491" cy="253" r="1.3"/><circle cx="447" cy="393" r="1.1"/><circle cx="317" cy="269" r="1.2"/><circle cx="383" cy="220" r="1.5"/><circle cx="541" cy="402" r="1.1"/><circle cx="559" cy="356" r="1.2"/><circle cx="365" cy="340" r="0.9"/><circle cx="550" cy="336" r="1.5"/><circle cx="376" cy="411" r="1.4"/><circle cx="361" cy="376" r="1.4"/><circle cx="530" cy="305" r="1.1"/><circle cx="359" cy="231" r="1.4"/><circle cx="306" cy="406" r="1.6"/><circle cx="379" cy="401" r="1.1"/><circle cx="543" cy="403" r="1.2"/><circle cx="473" cy="228" r="1.5"/><circle cx="467" cy="268" r="1.1"/><circle cx="331" cy="337" r="1.6"/><circle cx="534" cy="268" r="1.4"/><circle cx="331" cy="391" r="1.6"/><circle cx="443" cy="419" r="1.2"/><circle cx="278" cy="371" r="0.8"/><circle cx="459" cy="350" r="1.1"/><circle cx="544" cy="301" r="1.4"/><circle cx="348" cy="278" r="1.0"/><circle cx="518" cy="292" r="1.6"/><circle cx="274" cy="429" r="1.0"/><circle cx="271" cy="229" r="1.3"/><circle cx="550" cy="377" r="1.0"/><circle cx="318" cy="367" r="1.4"/><circle cx="328" cy="365" r="1.4"/><circle cx="433" cy="221" r="1.1"/><circle cx="502" cy="331" r="1.1"/><circle cx="520" cy="414" r="1.4"/><circle cx="430" cy="315" r="1.5"/><circle cx="429" cy="311" r="1.5"/><circle cx="289" cy="358" r="1.1"/><circle cx="530" cy="280" r="1.0"/><circle cx="351" cy="312" r="1.3"/><circle cx="341" cy="357" r="1.2"/><circle cx="355" cy="290" r="1.1"/><circle cx="514" cy="359" r="1.5"/><circle cx="435" cy="341" r="1.5"/><circle cx="534" cy="247" r="1.4"/><circle cx="294" cy="243" r="1.0"/><circle cx="356" cy="301" r="0.8"/><circle cx="523" cy="407" r="1.5"/><circle cx="443" cy="403" r="0.9"/><circle cx="382" cy="285" r="0.8"/><circle cx="396" cy="263" r="1.0"/><circle cx="539" cy="306" r="1.5"/><circle cx="284" cy="397" r="1.5"/><circle cx="543" cy="325" r="1.0"/><circle cx="452" cy="252" r="1.3"/><circle cx="508" cy="256" r="1.5"/><circle cx="518" cy="253" r="1.0"/><circle cx="301" cy="267" r="1.2"/><circle cx="548" cy="247" r="1.1"/><circle cx="469" cy="284" r="0.8"/><circle cx="388" cy="228" r="1.4"/><circle cx="364" cy="312" r="1.4"/><circle cx="495" cy="369" r="1.2"/><circle cx="439" cy="253" r="1.0"/><circle cx="488" cy="374" r="1.0"/><circle cx="452" cy="305" r="0.8"/><circle cx="331" cy="373" r="1.0"/><circle cx="361" cy="234" r="0.8"/><circle cx="322" cy="413" r="1.4"/><circle cx="466" cy="321" r="0.9"/><circle cx="484" cy="386" r="1.3"/><circle cx="301" cy="276" r="1.0"/><circle cx="397" cy="394" r="1.5"/><circle cx="331" cy="403" r="0.9"/><circle cx="476" cy="263" r="1.0"/><circle cx="345" cy="379" r="1.5"/><circle cx="267" cy="337" r="1.2"/><circle cx="292" cy="389" r="0.9"/><circle cx="354" cy="371" r="1.4"/><circle cx="311" cy="316" r="1.4"/><circle cx="339" cy="366" r="0.9"/><circle cx="301" cy="350" r="0.8"/><circle cx="540" cy="294" r="1.2"/><circle cx="363" cy="369" r="1.4"/><circle cx="510" cy="416" r="1.1"/><circle cx="307" cy="226" r="1.3"/><circle cx="368" cy="341" r="1.1"/><circle cx="525" cy="291" r="1.2"/><circle cx="302" cy="314" r="0.8"/><circle cx="391" cy="222" r="1.4"/><circle cx="527" cy="261" r="1.2"/><circle cx="441" cy="418" r="1.3"/><circle cx="396" cy="275" r="1.0"/><circle cx="548" cy="344" r="1.3"/><circle cx="542" cy="361" r="1.0"/><circle cx="282" cy="284" r="1.5"/><circle cx="489" cy="381" r="0.9"/><circle cx="340" cy="365" r="1.2"/><circle cx="530" cy="392" r="0.9"/><circle cx="489" cy="410" r="1.3"/><circle cx="306" cy="306" r="1.1"/><circle cx="299" cy="382" r="1.3"/><circle cx="390" cy="236" r="1.2"/><circle cx="447" cy="366" r="1.0"/><circle cx="364" cy="408" r="1.3"/><circle cx="355" cy="398" r="1.3"/><circle cx="267" cy="250" r="1.1"/><circle cx="456" cy="413" r="0.9"/><circle cx="422" cy="333" r="1.5"/><circle cx="419" cy="405" r="1.4"/><circle cx="387" cy="315" r="1.6"/><circle cx="271" cy="274" r="0.8"/><circle cx="346" cy="406" r="1.5"/><circle cx="542" cy="357" r="1.1"/><circle cx="298" cy="427" r="1.4"/><circle cx="480" cy="224" r="1.2"/><circle cx="531" cy="402" r="1.6"/><circle cx="311" cy="309" r="1.1"/></g><g fill="#f28cc8" opacity="0.75"><circle cx="291" cy="382" r="1.1"/><circle cx="355" cy="243" r="1.5"/><circle cx="309" cy="364" r="1.4"/><circle cx="433" cy="255" r="1.5"/><circle cx="435" cy="332" r="1.4"/><circle cx="300" cy="368" r="1.4"/><circle cx="306" cy="258" r="1.4"/><circle cx="322" cy="363" r="1.1"/><circle cx="436" cy="292" r="1.5"/><circle cx="344" cy="369" r="1.6"/><circle cx="447" cy="396" r="0.8"/><circle cx="384" cy="248" r="0.8"/><circle cx="380" cy="337" r="0.9"/><circle cx="508" cy="372" r="1.6"/><circle cx="531" cy="316" r="1.5"/><circle cx="333" cy="300" r="1.2"/><circle cx="551" cy="373" r="1.3"/><circle cx="306" cy="254" r="1.3"/><circle cx="268" cy="366" r="1.0"/><circle cx="425" cy="406" r="1.2"/><circle cx="314" cy="236" r="1.4"/><circle cx="308" cy="425" r="1.1"/><circle cx="495" cy="258" r="1.0"/><circle cx="327" cy="242" r="1.1"/><circle cx="395" cy="235" r="1.3"/><circle cx="462" cy="345" r="1.1"/><circle cx="317" cy="397" r="1.2"/><circle cx="287" cy="250" r="1.3"/><circle cx="303" cy="337" r="1.2"/><circle cx="298" cy="323" r="1.4"/><circle cx="362" cy="407" r="1.0"/><circle cx="481" cy="249" r="1.4"/><circle cx="411" cy="272" r="0.8"/><circle cx="555" cy="354" r="1.3"/><circle cx="393" cy="287" r="1.5"/><circle cx="446" cy="419" r="1.2"/><circle cx="451" cy="423" r="1.0"/><circle cx="557" cy="396" r="1.4"/><circle cx="507" cy="378" r="1.2"/><circle cx="500" cy="409" r="1.2"/><circle cx="372" cy="230" r="1.1"/><circle cx="548" cy="400" r="1.6"/><circle cx="316" cy="367" r="1.4"/><circle cx="320" cy="288" r="1.2"/><circle cx="555" cy="376" r="1.4"/><circle cx="291" cy="377" r="0.8"/><circle cx="297" cy="361" r="1.0"/><circle cx="441" cy="365" r="1.2"/><circle cx="522" cy="395" r="1.5"/><circle cx="286" cy="419" r="0.9"/><circle cx="394" cy="235" r="1.0"/><circle cx="440" cy="426" r="1.5"/><circle cx="489" cy="335" r="1.3"/><circle cx="516" cy="315" r="1.5"/><circle cx="367" cy="229" r="1.2"/><circle cx="292" cy="300" r="1.1"/><circle cx="317" cy="296" r="1.0"/><circle cx="488" cy="399" r="1.5"/><circle cx="388" cy="317" r="1.0"/><circle cx="409" cy="251" r="1.3"/><circle cx="481" cy="243" r="1.3"/><circle cx="390" cy="281" r="0.8"/><circle cx="304" cy="244" r="1.1"/><circle cx="304" cy="418" r="1.1"/><circle cx="394" cy="309" r="1.6"/><circle cx="372" cy="325" r="1.5"/><circle cx="285" cy="343" r="1.0"/><circle cx="376" cy="347" r="1.1"/><circle cx="319" cy="318" r="1.4"/><circle cx="359" cy="381" r="1.5"/><circle cx="520" cy="387" r="1.1"/><circle cx="327" cy="427" r="1.0"/><circle cx="460" cy="301" r="1.3"/><circle cx="533" cy="292" r="0.9"/><circle cx="466" cy="427" r="1.3"/><circle cx="386" cy="297" r="1.1"/><circle cx="477" cy="251" r="1.1"/><circle cx="517" cy="334" r="1.0"/><circle cx="526" cy="383" r="1.5"/><circle cx="437" cy="265" r="1.2"/><circle cx="336" cy="227" r="1.4"/><circle cx="266" cy="371" r="1.0"/><circle cx="363" cy="378" r="1.0"/><circle cx="339" cy="339" r="0.9"/><circle cx="412" cy="229" r="0.9"/><circle cx="429" cy="385" r="1.3"/><circle cx="269" cy="323" r="1.1"/><circle cx="306" cy="229" r="1.5"/><circle cx="481" cy="347" r="0.8"/><circle cx="365" cy="386" r="1.2"/><circle cx="450" cy="257" r="0.8"/><circle cx="398" cy="291" r="1.6"/><circle cx="410" cy="330" r="1.0"/><circle cx="417" cy="222" r="0.9"/><circle cx="323" cy="376" r="0.9"/><circle cx="421" cy="388" r="1.5"/><circle cx="543" cy="364" r="0.9"/><circle cx="515" cy="331" r="1.1"/><circle cx="279" cy="316" r="0.9"/><circle cx="318" cy="345" r="1.3"/><circle cx="392" cy="231" r="1.6"/><circle cx="413" cy="308" r="1.0"/><circle cx="534" cy="360" r="1.0"/><circle cx="397" cy="275" r="1.5"/><circle cx="555" cy="396" r="1.1"/><circle cx="437" cy="229" r="1.6"/><circle cx="397" cy="293" r="1.1"/><circle cx="520" cy="296" r="1.1"/><circle cx="486" cy="327" r="0.9"/><circle cx="483" cy="227" r="1.1"/><circle cx="376" cy="379" r="1.1"/><circle cx="525" cy="358" r="0.9"/><circle cx="444" cy="411" r="1.6"/><circle cx="468" cy="360" r="0.9"/><circle cx="495" cy="419" r="1.1"/><circle cx="491" cy="364" r="0.8"/><circle cx="484" cy="425" r="1.2"/><circle cx="362" cy="302" r="0.9"/><circle cx="520" cy="262" r="1.2"/><circle cx="550" cy="307" r="1.5"/><circle cx="525" cy="427" r="1.2"/><circle cx="379" cy="316" r="1.1"/><circle cx="389" cy="290" r="1.3"/><circle cx="406" cy="244" r="1.6"/><circle cx="350" cy="345" r="1.1"/><circle cx="551" cy="391" r="0.8"/><circle cx="323" cy="277" r="1.4"/><circle cx="316" cy="229" r="1.2"/><circle cx="391" cy="409" r="1.3"/><circle cx="311" cy="334" r="1.0"/><circle cx="333" cy="315" r="0.9"/><circle cx="495" cy="362" r="1.5"/><circle cx="399" cy="245" r="1.5"/><circle cx="529" cy="318" r="1.2"/><circle cx="513" cy="406" r="1.5"/><circle cx="322" cy="329" r="1.4"/><circle cx="488" cy="373" r="0.8"/><circle cx="555" cy="380" r="1.5"/><circle cx="503" cy="352" r="1.1"/><circle cx="443" cy="386" r="1.3"/><circle cx="414" cy="265" r="1.1"/><circle cx="308" cy="261" r="1.2"/><circle cx="437" cy="379" r="1.1"/><circle cx="480" cy="230" r="1.2"/><circle cx="282" cy="231" r="1.4"/></g><g fill="#ee6aa8" opacity="0.50"><circle cx="335" cy="386" r="1.1"/><circle cx="485" cy="308" r="1.5"/><circle cx="367" cy="225" r="1.4"/><circle cx="318" cy="331" r="1.5"/><circle cx="468" cy="297" r="1.3"/><circle cx="393" cy="316" r="1.0"/><circle cx="492" cy="420" r="1.2"/><circle cx="500" cy="291" r="1.4"/><circle cx="316" cy="412" r="1.4"/><circle cx="276" cy="260" r="1.2"/><circle cx="407" cy="247" r="0.9"/><circle cx="336" cy="302" r="1.0"/><circle cx="489" cy="379" r="1.0"/><circle cx="420" cy="227" r="1.5"/><circle cx="281" cy="361" r="0.9"/><circle cx="517" cy="229" r="1.6"/><circle cx="490" cy="411" r="0.8"/><circle cx="437" cy="362" r="1.0"/><circle cx="280" cy="259" r="1.2"/><circle cx="318" cy="221" r="1.6"/><circle cx="474" cy="294" r="0.9"/><circle cx="529" cy="401" r="1.5"/><circle cx="454" cy="395" r="1.2"/><circle cx="372" cy="223" r="1.2"/><circle cx="276" cy="354" r="1.2"/><circle cx="388" cy="327" r="1.4"/><circle cx="283" cy="285" r="1.6"/><circle cx="424" cy="252" r="0.8"/><circle cx="545" cy="373" r="0.9"/><circle cx="426" cy="382" r="0.9"/><circle cx="312" cy="280" r="1.5"/><circle cx="541" cy="368" r="1.1"/><circle cx="340" cy="339" r="1.2"/><circle cx="463" cy="258" r="1.0"/><circle cx="535" cy="372" r="1.3"/><circle cx="509" cy="402" r="1.5"/><circle cx="435" cy="372" r="1.0"/><circle cx="396" cy="419" r="1.0"/><circle cx="506" cy="261" r="1.4"/><circle cx="467" cy="416" r="1.6"/><circle cx="276" cy="419" r="1.4"/><circle cx="475" cy="273" r="1.5"/><circle cx="467" cy="384" r="1.6"/><circle cx="504" cy="370" r="1.3"/><circle cx="497" cy="425" r="1.2"/><circle cx="556" cy="306" r="1.2"/><circle cx="556" cy="402" r="1.2"/><circle cx="496" cy="248" r="1.5"/><circle cx="405" cy="273" r="1.5"/><circle cx="475" cy="423" r="1.5"/><circle cx="472" cy="221" r="1.5"/><circle cx="361" cy="262" r="0.8"/><circle cx="394" cy="413" r="0.8"/><circle cx="317" cy="306" r="1.3"/><circle cx="552" cy="414" r="1.4"/><circle cx="487" cy="259" r="1.3"/><circle cx="293" cy="296" r="1.3"/><circle cx="399" cy="367" r="1.2"/><circle cx="501" cy="393" r="0.9"/><circle cx="510" cy="293" r="1.0"/><circle cx="427" cy="371" r="1.4"/><circle cx="491" cy="228" r="1.4"/><circle cx="319" cy="310" r="0.8"/><circle cx="445" cy="302" r="1.1"/><circle cx="486" cy="233" r="1.4"/><circle cx="298" cy="289" r="1.5"/><circle cx="497" cy="352" r="1.2"/><circle cx="270" cy="284" r="1.0"/><circle cx="266" cy="321" r="1.5"/><circle cx="372" cy="272" r="1.4"/><circle cx="477" cy="244" r="1.3"/><circle cx="364" cy="420" r="1.4"/><circle cx="461" cy="365" r="1.1"/><circle cx="339" cy="257" r="1.2"/><circle cx="444" cy="371" r="1.5"/><circle cx="528" cy="258" r="0.9"/><circle cx="397" cy="259" r="1.2"/><circle cx="510" cy="412" r="1.1"/><circle cx="521" cy="245" r="1.1"/><circle cx="448" cy="418" r="1.0"/><circle cx="559" cy="244" r="1.1"/><circle cx="276" cy="426" r="1.0"/><circle cx="387" cy="336" r="1.2"/><circle cx="464" cy="426" r="1.5"/><circle cx="477" cy="417" r="1.2"/><circle cx="299" cy="318" r="1.1"/><circle cx="385" cy="426" r="1.3"/><circle cx="317" cy="309" r="1.1"/><circle cx="419" cy="338" r="1.0"/><circle cx="546" cy="282" r="0.9"/><circle cx="328" cy="257" r="1.3"/><circle cx="427" cy="248" r="1.2"/><circle cx="399" cy="376" r="1.0"/><circle cx="436" cy="299" r="1.4"/><circle cx="544" cy="358" r="1.5"/><circle cx="392" cy="338" r="0.9"/><circle cx="538" cy="246" r="0.8"/><circle cx="295" cy="355" r="1.4"/><circle cx="337" cy="234" r="1.2"/><circle cx="396" cy="247" r="1.3"/><circle cx="510" cy="273" r="1.0"/><circle cx="465" cy="301" r="1.6"/><circle cx="283" cy="296" r="1.4"/><circle cx="345" cy="341" r="1.4"/><circle cx="532" cy="412" r="1.4"/><circle cx="355" cy="375" r="0.9"/><circle cx="363" cy="320" r="1.0"/><circle cx="359" cy="237" r="0.9"/><circle cx="430" cy="310" r="1.3"/><circle cx="354" cy="349" r="1.0"/><circle cx="336" cy="365" r="1.5"/><circle cx="464" cy="261" r="1.2"/><circle cx="275" cy="387" r="1.1"/><circle cx="499" cy="306" r="1.3"/><circle cx="542" cy="301" r="1.4"/><circle cx="342" cy="347" r="1.0"/><circle cx="388" cy="296" r="0.8"/><circle cx="455" cy="402" r="1.4"/><circle cx="347" cy="427" r="1.2"/><circle cx="458" cy="300" r="1.4"/><circle cx="537" cy="291" r="1.4"/><circle cx="281" cy="364" r="1.3"/><circle cx="444" cy="238" r="1.1"/><circle cx="266" cy="325" r="1.6"/><circle cx="351" cy="425" r="0.9"/><circle cx="344" cy="373" r="1.1"/><circle cx="506" cy="406" r="0.8"/><circle cx="293" cy="304" r="0.9"/><circle cx="419" cy="421" r="1.2"/><circle cx="368" cy="403" r="1.2"/><circle cx="271" cy="383" r="1.3"/><circle cx="357" cy="405" r="1.4"/><circle cx="345" cy="342" r="1.2"/><circle cx="484" cy="247" r="1.1"/><circle cx="541" cy="285" r="0.9"/><circle cx="525" cy="251" r="1.4"/><circle cx="367" cy="289" r="1.1"/><circle cx="311" cy="307" r="1.2"/><circle cx="355" cy="311" r="1.3"/><circle cx="286" cy="363" r="1.1"/><circle cx="290" cy="246" r="1.1"/><circle cx="534" cy="381" r="1.4"/><circle cx="455" cy="259" r="1.4"/><circle cx="374" cy="348" r="1.3"/><circle cx="401" cy="363" r="0.9"/><circle cx="416" cy="376" r="1.2"/><circle cx="306" cy="425" r="1.1"/><circle cx="325" cy="404" r="1.0"/><circle cx="505" cy="407" r="0.9"/><circle cx="450" cy="308" r="1.2"/><circle cx="479" cy="411" r="1.5"/><circle cx="428" cy="388" r="0.9"/><circle cx="315" cy="230" r="1.4"/><circle cx="353" cy="349" r="1.1"/><circle cx="472" cy="387" r="1.3"/><circle cx="290" cy="237" r="1.5"/><circle cx="384" cy="337" r="1.5"/><circle cx="414" cy="311" r="1.3"/><circle cx="347" cy="363" r="1.4"/><circle cx="290" cy="226" r="1.3"/><circle cx="472" cy="378" r="1.4"/><circle cx="453" cy="240" r="0.9"/><circle cx="460" cy="266" r="1.1"/><circle cx="484" cy="358" r="1.1"/><circle cx="512" cy="342" r="1.4"/><circle cx="546" cy="287" r="1.5"/><circle cx="490" cy="252" r="1.2"/><circle cx="371" cy="397" r="1.4"/><circle cx="359" cy="395" r="1.5"/><circle cx="446" cy="276" r="1.2"/><circle cx="291" cy="361" r="1.3"/><circle cx="347" cy="383" r="1.6"/><circle cx="541" cy="425" r="1.3"/><circle cx="388" cy="226" r="1.0"/><circle cx="408" cy="355" r="1.4"/><circle cx="328" cy="228" r="1.1"/><circle cx="354" cy="342" r="1.1"/><circle cx="454" cy="299" r="1.0"/><circle cx="316" cy="401" r="1.5"/><circle cx="450" cy="400" r="1.2"/><circle cx="358" cy="292" r="1.1"/><circle cx="357" cy="294" r="1.2"/><circle cx="394" cy="248" r="1.1"/><circle cx="375" cy="322" r="1.3"/><circle cx="505" cy="317" r="1.5"/><circle cx="534" cy="285" r="1.1"/><circle cx="298" cy="334" r="1.5"/><circle cx="380" cy="398" r="1.1"/><circle cx="350" cy="323" r="1.1"/><circle cx="343" cy="403" r="1.3"/><circle cx="427" cy="351" r="0.8"/><circle cx="477" cy="223" r="1.3"/><circle cx="276" cy="251" r="1.4"/><circle cx="351" cy="347" r="1.1"/><circle cx="358" cy="275" r="1.3"/><circle cx="285" cy="356" r="1.1"/><circle cx="269" cy="413" r="1.0"/><circle cx="462" cy="370" r="0.9"/><circle cx="312" cy="338" r="0.9"/><circle cx="511" cy="419" r="1.5"/><circle cx="406" cy="353" r="1.4"/><circle cx="431" cy="389" r="1.3"/><circle cx="464" cy="396" r="1.1"/><circle cx="472" cy="280" r="1.1"/><circle cx="371" cy="394" r="0.9"/><circle cx="346" cy="220" r="0.9"/><circle cx="509" cy="222" r="1.6"/><circle cx="528" cy="330" r="1.3"/><circle cx="464" cy="406" r="1.1"/></g><g fill="#ee6aa8" opacity="0.75"><circle cx="348" cy="425" r="0.9"/><circle cx="281" cy="266" r="0.9"/><circle cx="308" cy="245" r="0.8"/><circle cx="522" cy="347" r="0.9"/><circle cx="500" cy="240" r="1.0"/><circle cx="421" cy="223" r="1.5"/><circle cx="433" cy="403" r="1.3"/><circle cx="283" cy="240" r="1.0"/><circle cx="310" cy="254" r="1.2"/><circle cx="389" cy="400" r="0.8"/><circle cx="305" cy="418" r="1.0"/><circle cx="499" cy="256" r="1.4"/><circle cx="349" cy="417" r="1.6"/><circle cx="281" cy="297" r="1.4"/><circle cx="331" cy="388" r="0.9"/><circle cx="305" cy="328" r="1.0"/><circle cx="308" cy="365" r="0.8"/><circle cx="331" cy="253" r="0.9"/><circle cx="463" cy="309" r="1.2"/><circle cx="457" cy="360" r="1.3"/><circle cx="325" cy="270" r="0.9"/><circle cx="352" cy="231" r="1.4"/><circle cx="442" cy="388" r="1.5"/><circle cx="510" cy="353" r="1.3"/><circle cx="456" cy="427" r="1.1"/><circle cx="405" cy="269" r="1.1"/><circle cx="490" cy="248" r="1.2"/><circle cx="524" cy="287" r="1.4"/><circle cx="281" cy="352" r="1.2"/><circle cx="478" cy="307" r="0.8"/><circle cx="421" cy="339" r="1.1"/><circle cx="490" cy="415" r="0.9"/><circle cx="369" cy="412" r="1.4"/><circle cx="339" cy="306" r="1.4"/><circle cx="549" cy="415" r="1.2"/><circle cx="481" cy="295" r="1.0"/><circle cx="492" cy="341" r="1.3"/><circle cx="310" cy="260" r="1.0"/><circle cx="482" cy="362" r="0.9"/><circle cx="495" cy="315" r="1.3"/><circle cx="363" cy="277" r="1.2"/><circle cx="372" cy="281" r="1.2"/><circle cx="271" cy="271" r="1.6"/><circle cx="461" cy="221" r="1.4"/><circle cx="332" cy="343" r="0.9"/><circle cx="469" cy="272" r="0.9"/><circle cx="422" cy="270" r="1.1"/><circle cx="335" cy="297" r="1.2"/><circle cx="346" cy="227" r="0.9"/><circle cx="305" cy="410" r="1.0"/><circle cx="370" cy="368" r="1.3"/><circle cx="410" cy="294" r="1.5"/><circle cx="465" cy="374" r="1.4"/><circle cx="458" cy="225" r="1.6"/><circle cx="376" cy="400" r="0.9"/><circle cx="329" cy="296" r="1.2"/><circle cx="302" cy="407" r="1.1"/><circle cx="424" cy="266" r="1.5"/><circle cx="529" cy="263" r="1.5"/><circle cx="335" cy="287" r="0.9"/><circle cx="550" cy="252" r="1.4"/><circle cx="267" cy="280" r="1.0"/><circle cx="499" cy="312" r="0.8"/><circle cx="514" cy="425" r="0.8"/><circle cx="373" cy="225" r="1.0"/><circle cx="445" cy="234" r="0.8"/><circle cx="404" cy="340" r="1.2"/><circle cx="362" cy="304" r="1.4"/><circle cx="348" cy="382" r="1.4"/><circle cx="336" cy="389" r="0.9"/><circle cx="454" cy="341" r="1.4"/><circle cx="546" cy="315" r="1.1"/><circle cx="299" cy="258" r="1.4"/><circle cx="324" cy="324" r="1.2"/><circle cx="301" cy="428" r="1.4"/><circle cx="484" cy="417" r="1.5"/><circle cx="457" cy="224" r="1.5"/><circle cx="296" cy="407" r="1.5"/><circle cx="326" cy="307" r="1.2"/><circle cx="451" cy="310" r="1.1"/><circle cx="348" cy="331" r="1.3"/><circle cx="323" cy="293" r="1.5"/><circle cx="423" cy="285" r="1.3"/><circle cx="438" cy="220" r="1.1"/><circle cx="302" cy="349" r="1.6"/><circle cx="384" cy="254" r="1.5"/><circle cx="446" cy="352" r="0.9"/><circle cx="342" cy="306" r="1.3"/><circle cx="544" cy="395" r="1.3"/><circle cx="414" cy="268" r="1.1"/><circle cx="486" cy="334" r="0.8"/><circle cx="330" cy="315" r="1.4"/><circle cx="330" cy="281" r="1.2"/><circle cx="398" cy="301" r="1.0"/><circle cx="499" cy="241" r="1.0"/><circle cx="285" cy="370" r="1.2"/><circle cx="433" cy="424" r="1.6"/><circle cx="337" cy="312" r="1.5"/><circle cx="377" cy="393" r="1.5"/><circle cx="310" cy="377" r="0.9"/><circle cx="500" cy="284" r="1.0"/><circle cx="322" cy="418" r="0.8"/><circle cx="520" cy="277" r="0.9"/><circle cx="281" cy="326" r="1.2"/><circle cx="541" cy="397" r="1.2"/><circle cx="301" cy="268" r="1.6"/><circle cx="496" cy="352" r="1.2"/><circle cx="318" cy="242" r="1.0"/><circle cx="378" cy="402" r="1.1"/><circle cx="365" cy="385" r="0.9"/><circle cx="308" cy="324" r="0.8"/><circle cx="559" cy="336" r="0.9"/><circle cx="448" cy="422" r="1.3"/><circle cx="535" cy="224" r="1.3"/><circle cx="442" cy="259" r="1.1"/><circle cx="324" cy="418" r="1.2"/><circle cx="388" cy="294" r="1.3"/><circle cx="333" cy="321" r="1.0"/><circle cx="507" cy="260" r="1.1"/><circle cx="425" cy="365" r="1.2"/><circle cx="490" cy="264" r="1.0"/><circle cx="491" cy="394" r="1.3"/><circle cx="400" cy="263" r="1.2"/><circle cx="396" cy="406" r="1.3"/><circle cx="275" cy="391" r="1.4"/><circle cx="344" cy="387" r="1.1"/><circle cx="420" cy="425" r="1.3"/><circle cx="349" cy="298" r="1.4"/><circle cx="446" cy="282" r="1.3"/><circle cx="380" cy="392" r="1.3"/><circle cx="556" cy="364" r="0.8"/><circle cx="532" cy="269" r="1.1"/><circle cx="395" cy="357" r="1.4"/><circle cx="468" cy="409" r="1.4"/><circle cx="347" cy="264" r="1.5"/><circle cx="543" cy="308" r="1.3"/><circle cx="498" cy="308" r="0.9"/><circle cx="360" cy="415" r="0.9"/><circle cx="552" cy="334" r="1.1"/><circle cx="331" cy="410" r="1.5"/><circle cx="348" cy="386" r="1.5"/><circle cx="358" cy="421" r="1.2"/></g></g><g fill="#f07ec0" opacity="0.50"><circle cx="383" cy="388" r="0.6"/><circle cx="286" cy="314" r="0.5"/><circle cx="286" cy="255" r="0.5"/><circle cx="434" cy="279" r="0.8"/><circle cx="274" cy="389" r="0.6"/><circle cx="509" cy="288" r="0.5"/><circle cx="533" cy="327" r="0.8"/><circle cx="320" cy="263" r="0.8"/><circle cx="472" cy="225" r="0.8"/><circle cx="429" cy="344" r="0.5"/><circle cx="412" cy="264" r="0.8"/><circle cx="427" cy="362" r="0.5"/><circle cx="359" cy="403" r="0.5"/><circle cx="412" cy="394" r="0.6"/><circle cx="523" cy="227" r="0.7"/><circle cx="518" cy="225" r="0.7"/><circle cx="344" cy="325" r="0.6"/><circle cx="509" cy="390" r="0.6"/><circle cx="452" cy="362" r="0.6"/><circle cx="328" cy="343" r="0.8"/><circle cx="337" cy="313" r="0.6"/><circle cx="500" cy="250" r="0.8"/><circle cx="474" cy="318" r="0.8"/><circle cx="416" cy="348" r="0.5"/><circle cx="453" cy="382" r="0.7"/><circle cx="419" cy="360" r="0.7"/><circle cx="537" cy="326" r="0.8"/><circle cx="364" cy="296" r="0.7"/><circle cx="497" cy="260" r="0.5"/><circle cx="413" cy="429" r="0.6"/><circle cx="362" cy="245" r="0.8"/><circle cx="519" cy="372" r="0.7"/><circle cx="463" cy="373" r="0.8"/><circle cx="333" cy="368" r="0.7"/><circle cx="331" cy="276" r="0.6"/><circle cx="410" cy="266" r="0.6"/><circle cx="476" cy="247" r="0.6"/><circle cx="503" cy="257" r="0.7"/><circle cx="347" cy="292" r="0.6"/><circle cx="283" cy="241" r="0.5"/><circle cx="454" cy="274" r="0.7"/><circle cx="408" cy="241" r="0.7"/><circle cx="522" cy="383" r="0.7"/><circle cx="410" cy="391" r="0.7"/><circle cx="370" cy="298" r="0.5"/><circle cx="439" cy="330" r="0.7"/><circle cx="342" cy="375" r="0.5"/><circle cx="413" cy="277" r="0.6"/><circle cx="427" cy="271" r="0.5"/><circle cx="305" cy="270" r="0.6"/><circle cx="289" cy="390" r="0.8"/><circle cx="407" cy="318" r="0.7"/><circle cx="437" cy="253" r="0.7"/><circle cx="391" cy="358" r="0.6"/><circle cx="283" cy="360" r="0.5"/><circle cx="532" cy="276" r="0.7"/><circle cx="277" cy="404" r="0.5"/><circle cx="371" cy="337" r="0.5"/><circle cx="429" cy="255" r="0.5"/><circle cx="417" cy="399" r="0.8"/><circle cx="491" cy="288" r="0.5"/><circle cx="329" cy="386" r="0.8"/><circle cx="528" cy="237" r="0.5"/><circle cx="509" cy="429" r="0.6"/><circle cx="541" cy="298" r="0.7"/><circle cx="432" cy="365" r="0.5"/><circle cx="272" cy="262" r="0.7"/><circle cx="266" cy="299" r="0.7"/><circle cx="417" cy="300" r="0.5"/><circle cx="342" cy="394" r="0.6"/><circle cx="278" cy="337" r="0.5"/><circle cx="308" cy="338" r="0.7"/><circle cx="272" cy="337" r="0.5"/><circle cx="481" cy="303" r="0.6"/><circle cx="357" cy="420" r="0.8"/><circle cx="440" cy="346" r="0.8"/><circle cx="363" cy="404" r="0.7"/><circle cx="411" cy="253" r="0.8"/><circle cx="444" cy="403" r="0.6"/><circle cx="546" cy="312" r="0.8"/><circle cx="362" cy="358" r="0.7"/><circle cx="435" cy="373" r="0.7"/><circle cx="504" cy="368" r="0.7"/><circle cx="394" cy="309" r="0.6"/><circle cx="284" cy="365" r="0.5"/><circle cx="266" cy="382" r="0.5"/><circle cx="445" cy="271" r="0.6"/><circle cx="364" cy="393" r="0.6"/><circle cx="444" cy="312" r="0.5"/><circle cx="496" cy="391" r="0.7"/><circle cx="389" cy="272" r="0.5"/><circle cx="419" cy="239" r="0.7"/><circle cx="543" cy="360" r="0.6"/><circle cx="406" cy="407" r="0.5"/><circle cx="268" cy="297" r="0.7"/><circle cx="462" cy="294" r="0.6"/><circle cx="459" cy="298" r="0.8"/><circle cx="287" cy="229" r="0.7"/><circle cx="530" cy="423" r="0.5"/><circle cx="470" cy="362" r="0.8"/><circle cx="338" cy="295" r="0.5"/><circle cx="332" cy="229" r="0.5"/><circle cx="308" cy="300" r="0.8"/><circle cx="277" cy="417" r="0.5"/><circle cx="335" cy="246" r="0.7"/><circle cx="403" cy="302" r="0.6"/><circle cx="279" cy="250" r="0.5"/><circle cx="539" cy="418" r="0.7"/><circle cx="310" cy="293" r="0.5"/><circle cx="554" cy="411" r="0.7"/><circle cx="374" cy="414" r="0.7"/><circle cx="554" cy="415" r="0.7"/><circle cx="444" cy="326" r="0.8"/><circle cx="283" cy="324" r="0.6"/><circle cx="408" cy="374" r="0.5"/><circle cx="314" cy="286" r="0.7"/><circle cx="284" cy="307" r="0.7"/><circle cx="358" cy="403" r="0.7"/><circle cx="511" cy="422" r="0.5"/><circle cx="331" cy="400" r="0.8"/><circle cx="399" cy="403" r="0.6"/><circle cx="413" cy="323" r="0.6"/><circle cx="546" cy="234" r="0.8"/><circle cx="555" cy="421" r="0.8"/><circle cx="418" cy="364" r="0.6"/><circle cx="527" cy="331" r="0.6"/><circle cx="301" cy="224" r="0.7"/><circle cx="332" cy="393" r="0.6"/><circle cx="316" cy="401" r="0.7"/><circle cx="409" cy="312" r="0.7"/><circle cx="291" cy="223" r="0.8"/><circle cx="395" cy="301" r="0.6"/><circle cx="298" cy="385" r="0.5"/><circle cx="276" cy="409" r="0.8"/><circle cx="327" cy="223" r="0.6"/><circle cx="471" cy="226" r="0.5"/><circle cx="314" cy="232" r="0.7"/><circle cx="493" cy="359" r="0.7"/><circle cx="318" cy="380" r="0.6"/><circle cx="487" cy="277" r="0.6"/><circle cx="528" cy="295" r="0.6"/><circle cx="468" cy="255" r="0.8"/><circle cx="393" cy="232" r="0.5"/><circle cx="347" cy="317" r="0.7"/><circle cx="418" cy="331" r="0.8"/><circle cx="393" cy="235" r="0.7"/><circle cx="402" cy="269" r="0.8"/><circle cx="317" cy="366" r="0.6"/><circle cx="540" cy="323" r="0.6"/><circle cx="371" cy="318" r="0.5"/><circle cx="463" cy="382" r="0.5"/><circle cx="471" cy="231" r="0.7"/><circle cx="451" cy="236" r="0.5"/><circle cx="298" cy="332" r="0.5"/><circle cx="385" cy="314" r="0.6"/><circle cx="559" cy="423" r="0.6"/><circle cx="475" cy="223" r="0.5"/><circle cx="314" cy="282" r="0.5"/><circle cx="418" cy="426" r="0.7"/><circle cx="374" cy="229" r="0.8"/><circle cx="557" cy="405" r="0.8"/><circle cx="555" cy="381" r="0.7"/><circle cx="267" cy="397" r="0.5"/><circle cx="401" cy="370" r="0.5"/><circle cx="525" cy="335" r="0.8"/><circle cx="413" cy="227" r="0.5"/><circle cx="397" cy="406" r="0.7"/><circle cx="461" cy="290" r="0.6"/><circle cx="451" cy="247" r="0.7"/><circle cx="399" cy="332" r="0.8"/><circle cx="288" cy="412" r="0.6"/><circle cx="498" cy="297" r="0.7"/><circle cx="433" cy="312" r="0.5"/><circle cx="343" cy="426" r="0.6"/><circle cx="267" cy="387" r="0.7"/><circle cx="324" cy="393" r="0.6"/><circle cx="313" cy="418" r="0.5"/><circle cx="450" cy="409" r="0.8"/><circle cx="528" cy="420" r="0.5"/><circle cx="369" cy="227" r="0.6"/><circle cx="502" cy="304" r="0.6"/><circle cx="427" cy="430" r="0.6"/><circle cx="441" cy="290" r="0.7"/><circle cx="268" cy="224" r="0.6"/><circle cx="492" cy="390" r="0.7"/><circle cx="275" cy="316" r="0.5"/><circle cx="280" cy="330" r="0.8"/><circle cx="329" cy="350" r="0.5"/><circle cx="450" cy="330" r="0.7"/><circle cx="511" cy="335" r="0.8"/><circle cx="287" cy="281" r="0.7"/><circle cx="386" cy="266" r="0.6"/><circle cx="304" cy="226" r="0.6"/><circle cx="439" cy="257" r="0.5"/><circle cx="377" cy="251" r="0.5"/><circle cx="409" cy="315" r="0.6"/><circle cx="506" cy="414" r="0.7"/><circle cx="327" cy="356" r="0.5"/><circle cx="271" cy="251" r="0.6"/><circle cx="437" cy="372" r="0.5"/><circle cx="368" cy="231" r="0.7"/><circle cx="266" cy="413" r="0.7"/><circle cx="346" cy="326" r="0.8"/><circle cx="531" cy="344" r="0.5"/><circle cx="527" cy="358" r="0.7"/><circle cx="303" cy="427" r="0.7"/><circle cx="334" cy="313" r="0.5"/><circle cx="391" cy="348" r="0.6"/><circle cx="267" cy="289" r="0.7"/><circle cx="546" cy="230" r="0.8"/><circle cx="497" cy="335" r="0.5"/><circle cx="441" cy="285" r="0.5"/><circle cx="387" cy="393" r="0.8"/><circle cx="409" cy="269" r="0.8"/><circle cx="361" cy="231" r="0.5"/><circle cx="331" cy="225" r="0.5"/><circle cx="525" cy="390" r="0.8"/><circle cx="287" cy="270" r="0.7"/><circle cx="473" cy="346" r="0.5"/><circle cx="500" cy="417" r="0.6"/><circle cx="309" cy="387" r="0.7"/><circle cx="412" cy="342" r="0.5"/><circle cx="366" cy="222" r="0.7"/><circle cx="414" cy="389" r="0.8"/><circle cx="360" cy="312" r="0.8"/><circle cx="405" cy="387" r="0.7"/><circle cx="461" cy="307" r="0.6"/><circle cx="449" cy="268" r="0.7"/><circle cx="402" cy="378" r="0.8"/><circle cx="357" cy="421" r="0.8"/><circle cx="535" cy="277" r="0.6"/><circle cx="511" cy="319" r="0.7"/><circle cx="510" cy="319" r="0.8"/><circle cx="319" cy="384" r="0.5"/><circle cx="540" cy="241" r="0.5"/><circle cx="412" cy="372" r="0.7"/><circle cx="281" cy="268" r="0.8"/><circle cx="362" cy="250" r="0.7"/><circle cx="556" cy="413" r="0.7"/><circle cx="276" cy="390" r="0.6"/><circle cx="347" cy="421" r="0.6"/><circle cx="294" cy="275" r="0.7"/><circle cx="320" cy="331" r="0.8"/><circle cx="546" cy="232" r="0.7"/><circle cx="536" cy="250" r="0.7"/><circle cx="496" cy="316" r="0.5"/><circle cx="490" cy="365" r="0.8"/><circle cx="275" cy="306" r="0.8"/><circle cx="538" cy="259" r="0.6"/><circle cx="543" cy="422" r="0.8"/><circle cx="535" cy="384" r="0.6"/><circle cx="387" cy="384" r="0.5"/><circle cx="502" cy="408" r="0.8"/><circle cx="433" cy="254" r="0.8"/><circle cx="354" cy="403" r="0.7"/><circle cx="271" cy="242" r="0.7"/><circle cx="303" cy="286" r="0.7"/><circle cx="301" cy="409" r="0.7"/><circle cx="500" cy="283" r="0.7"/><circle cx="468" cy="237" r="0.7"/><circle cx="392" cy="299" r="0.6"/><circle cx="441" cy="259" r="0.5"/><circle cx="514" cy="389" r="0.8"/><circle cx="440" cy="331" r="0.5"/><circle cx="300" cy="366" r="0.6"/><circle cx="363" cy="296" r="0.7"/><circle cx="480" cy="367" r="0.6"/><circle cx="289" cy="282" r="0.8"/><circle cx="442" cy="392" r="0.7"/><circle cx="500" cy="282" r="0.6"/><circle cx="375" cy="280" r="0.5"/><circle cx="462" cy="396" r="0.8"/><circle cx="413" cy="233" r="0.7"/><circle cx="470" cy="378" r="0.7"/><circle cx="551" cy="235" r="0.6"/><circle cx="489" cy="381" r="0.5"/><circle cx="433" cy="424" r="0.5"/><circle cx="515" cy="382" r="0.5"/><circle cx="493" cy="235" r="0.5"/><circle cx="426" cy="368" r="0.7"/><circle cx="442" cy="323" r="0.6"/><circle cx="520" cy="335" r="0.7"/><circle cx="497" cy="279" r="0.6"/><circle cx="368" cy="381" r="0.7"/><circle cx="281" cy="317" r="0.7"/><circle cx="326" cy="229" r="0.5"/><circle cx="312" cy="333" r="0.8"/><circle cx="429" cy="287" r="0.7"/><circle cx="340" cy="237" r="0.6"/><circle cx="309" cy="351" r="0.7"/><circle cx="327" cy="402" r="0.6"/><circle cx="304" cy="267" r="0.6"/><circle cx="387" cy="375" r="0.6"/><circle cx="403" cy="246" r="0.6"/><circle cx="398" cy="290" r="0.8"/><circle cx="295" cy="328" r="0.6"/><circle cx="325" cy="295" r="0.5"/><circle cx="357" cy="257" r="0.6"/><circle cx="454" cy="427" r="0.7"/><circle cx="519" cy="422" r="0.5"/><circle cx="360" cy="402" r="0.7"/><circle cx="529" cy="291" r="0.8"/><circle cx="525" cy="369" r="0.7"/><circle cx="355" cy="264" r="0.5"/><circle cx="271" cy="377" r="0.7"/><circle cx="429" cy="377" r="0.7"/><circle cx="305" cy="342" r="0.5"/><circle cx="420" cy="358" r="0.8"/><circle cx="537" cy="375" r="0.7"/><circle cx="306" cy="421" r="0.7"/><circle cx="306" cy="295" r="0.7"/><circle cx="449" cy="421" r="0.6"/><circle cx="542" cy="410" r="0.7"/><circle cx="538" cy="238" r="0.7"/><circle cx="421" cy="324" r="0.8"/><circle cx="370" cy="283" r="0.6"/><circle cx="305" cy="246" r="0.5"/><circle cx="267" cy="319" r="0.5"/><circle cx="360" cy="303" r="0.5"/><circle cx="349" cy="324" r="0.7"/><circle cx="316" cy="244" r="0.5"/><circle cx="551" cy="373" r="0.6"/><circle cx="266" cy="369" r="0.8"/><circle cx="333" cy="406" r="0.5"/><circle cx="489" cy="309" r="0.5"/><circle cx="542" cy="392" r="0.8"/><circle cx="299" cy="421" r="0.6"/><circle cx="328" cy="368" r="0.5"/><circle cx="347" cy="360" r="0.7"/><circle cx="331" cy="364" r="0.6"/><circle cx="446" cy="312" r="0.6"/><circle cx="461" cy="306" r="0.8"/><circle cx="275" cy="355" r="0.6"/><circle cx="381" cy="221" r="0.7"/><circle cx="357" cy="289" r="0.5"/><circle cx="429" cy="293" r="0.8"/><circle cx="368" cy="420" r="0.7"/><circle cx="532" cy="222" r="0.5"/><circle cx="510" cy="242" r="0.5"/><circle cx="546" cy="381" r="0.6"/><circle cx="391" cy="298" r="0.6"/><circle cx="321" cy="259" r="0.8"/><circle cx="295" cy="321" r="0.8"/><circle cx="529" cy="253" r="0.7"/></g><g fill="#ee6aa8" opacity="0.50"><circle cx="545" cy="350" r="0.5"/><circle cx="506" cy="391" r="0.8"/><circle cx="473" cy="243" r="0.8"/><circle cx="405" cy="312" r="0.7"/><circle cx="503" cy="226" r="0.6"/><circle cx="292" cy="384" r="0.6"/><circle cx="524" cy="304" r="0.7"/><circle cx="415" cy="285" r="0.5"/><circle cx="280" cy="370" r="0.7"/><circle cx="536" cy="308" r="0.7"/><circle cx="469" cy="312" r="0.6"/><circle cx="456" cy="291" r="0.5"/><circle cx="411" cy="407" r="0.5"/><circle cx="544" cy="336" r="0.7"/><circle cx="293" cy="402" r="0.6"/><circle cx="373" cy="337" r="0.7"/><circle cx="368" cy="372" r="0.8"/><circle cx="559" cy="353" r="0.6"/><circle cx="392" cy="349" r="0.5"/><circle cx="272" cy="409" r="0.8"/><circle cx="399" cy="379" r="0.6"/><circle cx="506" cy="300" r="0.5"/><circle cx="405" cy="377" r="0.6"/><circle cx="451" cy="324" r="0.6"/><circle cx="470" cy="282" r="0.5"/><circle cx="449" cy="343" r="0.5"/><circle cx="499" cy="308" r="0.8"/><circle cx="479" cy="308" r="0.6"/><circle cx="323" cy="295" r="0.8"/><circle cx="314" cy="394" r="0.5"/><circle cx="521" cy="225" r="0.8"/><circle cx="493" cy="390" r="0.5"/><circle cx="342" cy="241" r="0.8"/><circle cx="399" cy="294" r="0.8"/><circle cx="494" cy="291" r="0.5"/><circle cx="522" cy="341" r="0.5"/><circle cx="344" cy="301" r="0.8"/><circle cx="508" cy="346" r="0.8"/><circle cx="491" cy="395" r="0.8"/><circle cx="471" cy="357" r="0.5"/><circle cx="311" cy="220" r="0.7"/><circle cx="301" cy="403" r="0.6"/><circle cx="337" cy="316" r="0.7"/><circle cx="285" cy="251" r="0.5"/><circle cx="530" cy="358" r="0.6"/><circle cx="344" cy="351" r="0.6"/><circle cx="429" cy="229" r="0.6"/><circle cx="481" cy="260" r="0.8"/><circle cx="488" cy="359" r="0.5"/><circle cx="314" cy="333" r="0.5"/><circle cx="389" cy="332" r="0.7"/><circle cx="404" cy="252" r="0.7"/><circle cx="550" cy="298" r="0.6"/><circle cx="465" cy="297" r="0.7"/><circle cx="367" cy="298" r="0.8"/><circle cx="385" cy="356" r="0.8"/><circle cx="512" cy="269" r="0.6"/><circle cx="475" cy="283" r="0.5"/><circle cx="508" cy="382" r="0.5"/><circle cx="468" cy="277" r="0.5"/><circle cx="440" cy="254" r="0.6"/><circle cx="401" cy="322" r="0.8"/><circle cx="324" cy="426" r="0.6"/><circle cx="448" cy="352" r="0.6"/><circle cx="338" cy="241" r="0.7"/><circle cx="549" cy="301" r="0.7"/><circle cx="449" cy="388" r="0.8"/><circle cx="455" cy="300" r="0.6"/><circle cx="418" cy="384" r="0.5"/><circle cx="419" cy="334" r="0.8"/><circle cx="357" cy="228" r="0.7"/><circle cx="433" cy="344" r="0.6"/><circle cx="547" cy="293" r="0.6"/><circle cx="476" cy="413" r="0.5"/><circle cx="535" cy="325" r="0.5"/><circle cx="372" cy="379" r="0.5"/><circle cx="345" cy="316" r="0.8"/><circle cx="351" cy="245" r="0.8"/><circle cx="338" cy="339" r="0.7"/><circle cx="316" cy="240" r="0.7"/><circle cx="514" cy="278" r="0.8"/><circle cx="371" cy="328" r="0.5"/><circle cx="541" cy="353" r="0.5"/><circle cx="326" cy="289" r="0.5"/><circle cx="283" cy="409" r="0.6"/><circle cx="316" cy="261" r="0.8"/><circle cx="383" cy="286" r="0.6"/><circle cx="271" cy="330" r="0.5"/><circle cx="419" cy="424" r="0.8"/><circle cx="477" cy="314" r="0.7"/><circle cx="443" cy="293" r="0.6"/><circle cx="456" cy="320" r="0.5"/><circle cx="324" cy="371" r="0.7"/><circle cx="323" cy="319" r="0.6"/><circle cx="495" cy="263" r="0.8"/><circle cx="540" cy="279" r="0.5"/><circle cx="288" cy="400" r="0.7"/><circle cx="490" cy="357" r="0.5"/><circle cx="387" cy="304" r="0.8"/><circle cx="348" cy="370" r="0.5"/><circle cx="378" cy="352" r="0.8"/><circle cx="555" cy="416" r="0.6"/><circle cx="334" cy="343" r="0.8"/><circle cx="332" cy="336" r="0.6"/><circle cx="559" cy="377" r="0.6"/><circle cx="432" cy="242" r="0.5"/><circle cx="546" cy="325" r="0.5"/><circle cx="448" cy="244" r="0.6"/><circle cx="312" cy="351" r="0.7"/><circle cx="469" cy="264" r="0.8"/><circle cx="384" cy="315" r="0.5"/><circle cx="299" cy="426" r="0.6"/><circle cx="517" cy="262" r="0.5"/><circle cx="469" cy="274" r="0.7"/><circle cx="298" cy="375" r="0.8"/><circle cx="465" cy="288" r="0.6"/><circle cx="444" cy="267" r="0.6"/><circle cx="390" cy="245" r="0.7"/><circle cx="282" cy="308" r="0.5"/><circle cx="349" cy="232" r="0.6"/><circle cx="350" cy="220" r="0.7"/><circle cx="554" cy="422" r="0.7"/><circle cx="468" cy="225" r="0.8"/><circle cx="442" cy="355" r="0.6"/><circle cx="334" cy="262" r="0.5"/><circle cx="367" cy="350" r="0.8"/><circle cx="514" cy="229" r="0.5"/><circle cx="298" cy="393" r="0.5"/><circle cx="544" cy="403" r="0.7"/><circle cx="552" cy="256" r="0.5"/><circle cx="481" cy="285" r="0.7"/><circle cx="300" cy="375" r="0.7"/><circle cx="426" cy="340" r="0.6"/><circle cx="389" cy="310" r="0.6"/><circle cx="381" cy="418" r="0.5"/><circle cx="540" cy="426" r="0.6"/><circle cx="498" cy="409" r="0.8"/><circle cx="538" cy="396" r="0.7"/><circle cx="351" cy="400" r="0.5"/><circle cx="416" cy="342" r="0.5"/><circle cx="471" cy="397" r="0.5"/><circle cx="345" cy="309" r="0.6"/><circle cx="547" cy="251" r="0.8"/><circle cx="464" cy="364" r="0.5"/><circle cx="451" cy="264" r="0.8"/><circle cx="300" cy="327" r="0.8"/><circle cx="441" cy="247" r="0.8"/><circle cx="269" cy="337" r="0.5"/><circle cx="402" cy="426" r="0.6"/><circle cx="471" cy="390" r="0.5"/><circle cx="547" cy="285" r="0.7"/><circle cx="375" cy="309" r="0.5"/><circle cx="491" cy="244" r="0.5"/><circle cx="292" cy="248" r="0.7"/><circle cx="552" cy="255" r="0.8"/><circle cx="322" cy="303" r="0.8"/><circle cx="468" cy="335" r="0.8"/><circle cx="374" cy="317" r="0.6"/><circle cx="282" cy="423" r="0.6"/><circle cx="359" cy="323" r="0.5"/><circle cx="546" cy="240" r="0.7"/><circle cx="513" cy="362" r="0.7"/><circle cx="436" cy="403" r="0.7"/><circle cx="333" cy="243" r="0.7"/><circle cx="501" cy="377" r="0.5"/><circle cx="558" cy="370" r="0.8"/><circle cx="439" cy="359" r="0.7"/><circle cx="546" cy="315" r="0.5"/><circle cx="441" cy="245" r="0.5"/><circle cx="447" cy="364" r="0.6"/><circle cx="343" cy="374" r="0.8"/><circle cx="481" cy="292" r="0.7"/><circle cx="336" cy="408" r="0.7"/><circle cx="525" cy="270" r="0.8"/><circle cx="311" cy="265" r="0.6"/><circle cx="536" cy="258" r="0.6"/><circle cx="380" cy="224" r="0.7"/><circle cx="268" cy="359" r="0.7"/><circle cx="511" cy="228" r="0.6"/><circle cx="337" cy="299" r="0.6"/><circle cx="389" cy="228" r="0.5"/><circle cx="495" cy="322" r="0.5"/><circle cx="288" cy="321" r="0.8"/><circle cx="388" cy="416" r="0.8"/><circle cx="549" cy="344" r="0.6"/><circle cx="375" cy="344" r="0.7"/><circle cx="304" cy="271" r="0.6"/><circle cx="294" cy="309" r="0.7"/><circle cx="408" cy="397" r="0.8"/><circle cx="500" cy="268" r="0.8"/><circle cx="331" cy="291" r="0.7"/><circle cx="418" cy="306" r="0.6"/><circle cx="518" cy="361" r="0.7"/><circle cx="490" cy="419" r="0.8"/><circle cx="490" cy="329" r="0.8"/><circle cx="446" cy="278" r="0.8"/><circle cx="355" cy="361" r="0.6"/><circle cx="347" cy="326" r="0.7"/><circle cx="273" cy="351" r="0.8"/><circle cx="303" cy="254" r="0.8"/><circle cx="459" cy="244" r="0.7"/><circle cx="319" cy="406" r="0.7"/><circle cx="392" cy="227" r="0.8"/><circle cx="399" cy="370" r="0.7"/><circle cx="481" cy="263" r="0.7"/><circle cx="378" cy="273" r="0.8"/><circle cx="401" cy="345" r="0.8"/><circle cx="394" cy="287" r="0.5"/><circle cx="319" cy="355" r="0.8"/><circle cx="345" cy="372" r="0.6"/><circle cx="288" cy="428" r="0.5"/><circle cx="378" cy="396" r="0.6"/><circle cx="313" cy="342" r="0.7"/><circle cx="322" cy="279" r="0.8"/><circle cx="464" cy="225" r="0.5"/><circle cx="436" cy="341" r="0.8"/><circle cx="455" cy="384" r="0.8"/><circle cx="430" cy="253" r="0.7"/><circle cx="503" cy="308" r="0.8"/><circle cx="311" cy="289" r="0.8"/><circle cx="396" cy="342" r="0.8"/><circle cx="383" cy="357" r="0.8"/><circle cx="526" cy="327" r="0.8"/><circle cx="529" cy="252" r="0.8"/><circle cx="455" cy="398" r="0.8"/><circle cx="307" cy="254" r="0.8"/><circle cx="305" cy="280" r="0.6"/><circle cx="390" cy="324" r="0.5"/><circle cx="552" cy="300" r="0.6"/><circle cx="361" cy="319" r="0.8"/><circle cx="390" cy="408" r="0.7"/><circle cx="469" cy="423" r="0.5"/><circle cx="287" cy="296" r="0.5"/><circle cx="312" cy="367" r="0.5"/><circle cx="456" cy="415" r="0.6"/><circle cx="436" cy="251" r="0.7"/><circle cx="483" cy="296" r="0.6"/><circle cx="428" cy="377" r="0.6"/><circle cx="400" cy="293" r="0.5"/><circle cx="439" cy="376" r="0.6"/><circle cx="528" cy="354" r="0.8"/><circle cx="550" cy="238" r="0.7"/><circle cx="460" cy="388" r="0.8"/><circle cx="307" cy="326" r="0.8"/><circle cx="426" cy="386" r="0.7"/><circle cx="333" cy="425" r="0.6"/><circle cx="465" cy="305" r="0.6"/><circle cx="361" cy="234" r="0.6"/><circle cx="429" cy="356" r="0.5"/><circle cx="551" cy="412" r="0.8"/><circle cx="435" cy="224" r="0.7"/><circle cx="394" cy="249" r="0.7"/><circle cx="433" cy="317" r="0.6"/><circle cx="404" cy="285" r="0.7"/><circle cx="366" cy="332" r="0.6"/><circle cx="369" cy="256" r="0.8"/><circle cx="278" cy="290" r="0.8"/><circle cx="332" cy="331" r="0.5"/><circle cx="352" cy="308" r="0.7"/><circle cx="471" cy="228" r="0.7"/><circle cx="523" cy="386" r="0.5"/><circle cx="522" cy="234" r="0.7"/><circle cx="306" cy="238" r="0.6"/><circle cx="503" cy="243" r="0.7"/><circle cx="337" cy="313" r="0.7"/><circle cx="353" cy="369" r="0.6"/><circle cx="539" cy="265" r="0.8"/><circle cx="387" cy="413" r="0.7"/><circle cx="415" cy="370" r="0.7"/><circle cx="494" cy="305" r="0.5"/><circle cx="493" cy="401" r="0.7"/><circle cx="293" cy="313" r="0.5"/><circle cx="268" cy="329" r="0.6"/><circle cx="317" cy="402" r="0.5"/><circle cx="550" cy="232" r="0.5"/><circle cx="444" cy="335" r="0.8"/><circle cx="303" cy="274" r="0.5"/><circle cx="542" cy="339" r="0.8"/><circle cx="333" cy="368" r="0.8"/><circle cx="346" cy="263" r="0.6"/><circle cx="504" cy="378" r="0.8"/><circle cx="529" cy="374" r="0.7"/><circle cx="380" cy="370" r="0.7"/><circle cx="528" cy="308" r="0.6"/><circle cx="517" cy="429" r="0.8"/><circle cx="532" cy="389" r="0.8"/><circle cx="423" cy="242" r="0.7"/><circle cx="478" cy="410" r="0.7"/><circle cx="538" cy="234" r="0.7"/><circle cx="484" cy="284" r="0.5"/><circle cx="509" cy="296" r="0.6"/><circle cx="413" cy="395" r="0.7"/><circle cx="540" cy="269" r="0.6"/><circle cx="291" cy="396" r="0.5"/><circle cx="494" cy="383" r="0.7"/><circle cx="448" cy="318" r="0.7"/><circle cx="272" cy="371" r="0.7"/><circle cx="297" cy="424" r="0.8"/><circle cx="477" cy="328" r="0.5"/><circle cx="519" cy="399" r="0.6"/><circle cx="493" cy="372" r="0.5"/><circle cx="487" cy="296" r="0.5"/><circle cx="275" cy="236" r="0.8"/><circle cx="452" cy="223" r="0.7"/><circle cx="533" cy="422" r="0.8"/><circle cx="431" cy="395" r="0.6"/><circle cx="407" cy="364" r="0.5"/><circle cx="367" cy="346" r="0.6"/><circle cx="520" cy="364" r="0.6"/><circle cx="480" cy="398" r="0.5"/><circle cx="344" cy="311" r="0.6"/><circle cx="370" cy="344" r="0.7"/><circle cx="306" cy="327" r="0.8"/><circle cx="386" cy="342" r="0.7"/><circle cx="516" cy="272" r="0.7"/><circle cx="478" cy="372" r="0.7"/><circle cx="455" cy="353" r="0.5"/><circle cx="348" cy="281" r="0.7"/><circle cx="505" cy="352" r="0.6"/><circle cx="287" cy="379" r="0.7"/><circle cx="538" cy="286" r="0.5"/><circle cx="373" cy="310" r="0.7"/><circle cx="399" cy="380" r="0.8"/><circle cx="326" cy="317" r="0.5"/><circle cx="518" cy="294" r="0.6"/><circle cx="424" cy="396" r="0.8"/><circle cx="504" cy="227" r="0.6"/><circle cx="459" cy="220" r="0.6"/><circle cx="435" cy="368" r="0.6"/><circle cx="283" cy="319" r="0.7"/><circle cx="558" cy="372" r="0.8"/><circle cx="391" cy="238" r="0.6"/><circle cx="392" cy="370" r="0.7"/><circle cx="376" cy="272" r="0.7"/><circle cx="378" cy="306" r="0.6"/><circle cx="525" cy="389" r="0.8"/><circle cx="313" cy="321" r="0.7"/><circle cx="508" cy="274" r="0.8"/><circle cx="344" cy="365" r="0.7"/><circle cx="459" cy="235" r="0.7"/><circle cx="535" cy="337" r="0.6"/><circle cx="458" cy="357" r="0.5"/><circle cx="517" cy="403" r="0.6"/><circle cx="362" cy="249" r="0.6"/><circle cx="435" cy="266" r="0.6"/><circle cx="271" cy="398" r="0.8"/><circle cx="324" cy="364" r="0.6"/><circle cx="288" cy="378" r="0.6"/><circle cx="308" cy="412" r="0.6"/><circle cx="317" cy="396" r="0.7"/><circle cx="347" cy="421" r="0.7"/><circle cx="428" cy="351" r="0.8"/><circle cx="406" cy="349" r="0.6"/><circle cx="426" cy="391" r="0.5"/><circle cx="476" cy="237" r="0.7"/><circle cx="503" cy="389" r="0.7"/><circle cx="497" cy="420" r="0.8"/><circle cx="463" cy="329" r="0.6"/><circle cx="495" cy="236" r="0.5"/><circle cx="415" cy="340" r="0.7"/><circle cx="390" cy="246" r="0.7"/><circle cx="325" cy="240" r="0.5"/><circle cx="323" cy="226" r="0.5"/><circle cx="435" cy="288" r="0.5"/><circle cx="475" cy="410" r="0.5"/><circle cx="400" cy="267" r="0.6"/><circle cx="333" cy="270" r="0.6"/><circle cx="468" cy="290" r="0.8"/><circle cx="381" cy="388" r="0.7"/><circle cx="415" cy="426" r="0.7"/><circle cx="549" cy="362" r="0.6"/><circle cx="556" cy="240" r="0.7"/><circle cx="485" cy="322" r="0.6"/><circle cx="495" cy="222" r="0.7"/><circle cx="444" cy="267" r="0.8"/><circle cx="411" cy="346" r="0.6"/><circle cx="488" cy="423" r="0.7"/><circle cx="381" cy="267" r="0.7"/><circle cx="322" cy="416" r="0.5"/><circle cx="406" cy="372" r="0.6"/></g><g fill="#ea5a96" opacity="0.75"><circle cx="304" cy="391" r="0.8"/><circle cx="420" cy="250" r="0.8"/><circle cx="276" cy="269" r="0.6"/><circle cx="459" cy="224" r="0.6"/><circle cx="341" cy="239" r="0.8"/><circle cx="549" cy="284" r="0.5"/><circle cx="347" cy="253" r="0.7"/><circle cx="303" cy="259" r="0.8"/><circle cx="446" cy="364" r="0.5"/><circle cx="528" cy="297" r="0.5"/><circle cx="291" cy="306" r="0.8"/><circle cx="444" cy="253" r="0.5"/><circle cx="391" cy="424" r="0.8"/><circle cx="371" cy="319" r="0.6"/><circle cx="444" cy="339" r="0.5"/><circle cx="308" cy="240" r="0.6"/><circle cx="492" cy="313" r="0.7"/><circle cx="462" cy="274" r="0.7"/><circle cx="369" cy="374" r="0.7"/><circle cx="295" cy="410" r="0.8"/><circle cx="492" cy="393" r="0.8"/><circle cx="356" cy="242" r="0.5"/><circle cx="493" cy="328" r="0.5"/><circle cx="472" cy="338" r="0.8"/><circle cx="496" cy="262" r="0.7"/><circle cx="290" cy="262" r="0.6"/><circle cx="391" cy="311" r="0.7"/><circle cx="449" cy="379" r="0.6"/><circle cx="470" cy="372" r="0.6"/><circle cx="293" cy="385" r="0.6"/><circle cx="536" cy="416" r="0.5"/><circle cx="353" cy="231" r="0.7"/><circle cx="431" cy="375" r="0.7"/><circle cx="490" cy="255" r="0.6"/><circle cx="426" cy="385" r="0.5"/><circle cx="404" cy="391" r="0.8"/><circle cx="356" cy="300" r="0.6"/><circle cx="341" cy="397" r="0.5"/><circle cx="397" cy="283" r="0.6"/><circle cx="540" cy="287" r="0.7"/><circle cx="540" cy="227" r="0.8"/><circle cx="396" cy="286" r="0.6"/><circle cx="414" cy="410" r="0.7"/><circle cx="408" cy="325" r="0.5"/><circle cx="453" cy="318" r="0.7"/><circle cx="401" cy="336" r="0.8"/><circle cx="475" cy="418" r="0.7"/><circle cx="486" cy="293" r="0.5"/><circle cx="330" cy="391" r="0.7"/><circle cx="554" cy="388" r="0.5"/><circle cx="302" cy="412" r="0.8"/><circle cx="287" cy="416" r="0.8"/><circle cx="403" cy="366" r="0.5"/><circle cx="519" cy="238" r="0.6"/><circle cx="481" cy="368" r="0.5"/><circle cx="397" cy="369" r="0.6"/><circle cx="288" cy="268" r="0.7"/><circle cx="364" cy="258" r="0.8"/><circle cx="486" cy="244" r="0.8"/><circle cx="396" cy="393" r="0.6"/><circle cx="292" cy="284" r="0.8"/><circle cx="470" cy="349" r="0.8"/><circle cx="550" cy="224" r="0.7"/><circle cx="419" cy="377" r="0.7"/><circle cx="346" cy="233" r="0.6"/><circle cx="467" cy="417" r="0.5"/><circle cx="449" cy="336" r="0.6"/><circle cx="416" cy="220" r="0.7"/><circle cx="328" cy="297" r="0.6"/><circle cx="535" cy="413" r="0.8"/><circle cx="297" cy="379" r="0.7"/><circle cx="528" cy="329" r="0.7"/><circle cx="464" cy="325" r="0.8"/><circle cx="376" cy="383" r="0.8"/><circle cx="300" cy="428" r="0.8"/><circle cx="425" cy="305" r="0.5"/><circle cx="390" cy="242" r="0.8"/><circle cx="521" cy="337" r="0.7"/><circle cx="320" cy="382" r="0.8"/><circle cx="274" cy="291" r="0.8"/><circle cx="461" cy="273" r="0.5"/><circle cx="421" cy="352" r="0.8"/><circle cx="521" cy="372" r="0.7"/><circle cx="375" cy="309" r="0.7"/><circle cx="295" cy="411" r="0.7"/><circle cx="368" cy="359" r="0.5"/><circle cx="360" cy="365" r="0.6"/><circle cx="372" cy="294" r="0.6"/><circle cx="309" cy="293" r="0.5"/><circle cx="384" cy="357" r="0.8"/><circle cx="334" cy="324" r="0.8"/><circle cx="348" cy="355" r="0.8"/><circle cx="333" cy="241" r="0.7"/><circle cx="521" cy="280" r="0.5"/><circle cx="548" cy="294" r="0.7"/><circle cx="530" cy="297" r="0.7"/><circle cx="412" cy="220" r="0.6"/><circle cx="544" cy="374" r="0.5"/><circle cx="515" cy="288" r="0.6"/><circle cx="435" cy="354" r="0.6"/><circle cx="534" cy="323" r="0.8"/><circle cx="395" cy="325" r="0.6"/><circle cx="339" cy="286" r="0.7"/><circle cx="395" cy="377" r="0.7"/><circle cx="362" cy="279" r="0.8"/><circle cx="288" cy="404" r="0.7"/><circle cx="404" cy="256" r="0.5"/><circle cx="342" cy="306" r="0.5"/><circle cx="365" cy="396" r="0.6"/><circle cx="543" cy="400" r="0.6"/><circle cx="407" cy="427" r="0.5"/><circle cx="404" cy="221" r="0.6"/><circle cx="354" cy="262" r="0.7"/><circle cx="463" cy="340" r="0.8"/><circle cx="273" cy="316" r="0.7"/></g><g fill="#ea5a96" opacity="0.50"><circle cx="514" cy="285" r="0.7"/><circle cx="542" cy="345" r="0.5"/><circle cx="285" cy="384" r="0.5"/><circle cx="353" cy="385" r="0.8"/><circle cx="546" cy="321" r="0.6"/><circle cx="458" cy="326" r="0.5"/><circle cx="301" cy="391" r="0.8"/><circle cx="428" cy="327" r="0.7"/><circle cx="407" cy="318" r="0.6"/><circle cx="310" cy="281" r="0.7"/><circle cx="334" cy="237" r="0.6"/><circle cx="306" cy="273" r="0.8"/><circle cx="310" cy="263" r="0.5"/><circle cx="269" cy="406" r="0.8"/><circle cx="480" cy="430" r="0.7"/><circle cx="312" cy="355" r="0.8"/><circle cx="336" cy="316" r="0.5"/><circle cx="295" cy="354" r="0.6"/><circle cx="332" cy="269" r="0.8"/><circle cx="359" cy="259" r="0.8"/><circle cx="334" cy="422" r="0.8"/><circle cx="430" cy="354" r="0.7"/><circle cx="303" cy="427" r="0.8"/><circle cx="372" cy="288" r="0.8"/><circle cx="500" cy="281" r="0.7"/><circle cx="294" cy="242" r="0.5"/><circle cx="504" cy="278" r="0.5"/><circle cx="551" cy="347" r="0.6"/><circle cx="345" cy="327" r="0.5"/><circle cx="268" cy="309" r="0.8"/><circle cx="511" cy="267" r="0.8"/><circle cx="399" cy="312" r="0.7"/><circle cx="535" cy="365" r="0.8"/><circle cx="271" cy="339" r="0.7"/><circle cx="320" cy="428" r="0.7"/><circle cx="470" cy="413" r="0.6"/><circle cx="530" cy="226" r="0.7"/><circle cx="382" cy="416" r="0.5"/><circle cx="489" cy="283" r="0.6"/><circle cx="475" cy="421" r="0.6"/><circle cx="265" cy="352" r="0.8"/><circle cx="282" cy="410" r="0.7"/><circle cx="355" cy="378" r="0.7"/><circle cx="350" cy="355" r="0.8"/><circle cx="339" cy="299" r="0.6"/><circle cx="526" cy="297" r="0.5"/><circle cx="298" cy="248" r="0.7"/><circle cx="272" cy="292" r="0.8"/><circle cx="535" cy="371" r="0.7"/><circle cx="548" cy="289" r="0.6"/><circle cx="347" cy="297" r="0.6"/><circle cx="447" cy="247" r="0.8"/><circle cx="505" cy="402" r="0.7"/><circle cx="306" cy="426" r="0.7"/><circle cx="394" cy="427" r="0.7"/><circle cx="358" cy="378" r="0.5"/><circle cx="527" cy="304" r="0.8"/><circle cx="457" cy="368" r="0.7"/><circle cx="432" cy="303" r="0.7"/><circle cx="296" cy="422" r="0.6"/><circle cx="480" cy="287" r="0.5"/><circle cx="508" cy="403" r="0.5"/><circle cx="484" cy="332" r="0.8"/><circle cx="347" cy="404" r="0.5"/><circle cx="510" cy="381" r="0.8"/><circle cx="295" cy="319" r="0.5"/><circle cx="514" cy="319" r="0.8"/><circle cx="421" cy="305" r="0.8"/><circle cx="323" cy="322" r="0.7"/><circle cx="559" cy="371" r="0.7"/><circle cx="350" cy="380" r="0.6"/><circle cx="418" cy="274" r="0.8"/><circle cx="340" cy="388" r="0.8"/><circle cx="485" cy="332" r="0.6"/><circle cx="318" cy="283" r="0.7"/><circle cx="293" cy="406" r="0.6"/><circle cx="544" cy="295" r="0.7"/><circle cx="501" cy="392" r="0.5"/><circle cx="288" cy="403" r="0.6"/><circle cx="473" cy="365" r="0.8"/><circle cx="457" cy="293" r="0.6"/><circle cx="431" cy="265" r="0.5"/><circle cx="433" cy="382" r="0.5"/><circle cx="486" cy="334" r="0.7"/><circle cx="468" cy="267" r="0.8"/><circle cx="306" cy="312" r="0.6"/><circle cx="303" cy="371" r="0.6"/><circle cx="280" cy="332" r="0.7"/><circle cx="532" cy="220" r="0.7"/><circle cx="419" cy="338" r="0.5"/><circle cx="531" cy="312" r="0.8"/><circle cx="559" cy="418" r="0.7"/><circle cx="506" cy="368" r="0.7"/><circle cx="412" cy="260" r="0.7"/><circle cx="416" cy="406" r="0.7"/><circle cx="350" cy="322" r="0.6"/><circle cx="378" cy="321" r="0.7"/><circle cx="335" cy="419" r="0.6"/><circle cx="505" cy="227" r="0.6"/><circle cx="359" cy="417" r="0.6"/><circle cx="303" cy="407" r="0.5"/><circle cx="522" cy="382" r="0.7"/><circle cx="520" cy="266" r="0.7"/><circle cx="344" cy="331" r="0.6"/><circle cx="313" cy="243" r="0.6"/><circle cx="432" cy="355" r="0.6"/><circle cx="318" cy="222" r="0.7"/><circle cx="382" cy="284" r="0.6"/><circle cx="497" cy="422" r="0.7"/><circle cx="434" cy="233" r="0.7"/><circle cx="402" cy="324" r="0.7"/><circle cx="368" cy="247" r="0.8"/><circle cx="346" cy="311" r="0.6"/><circle cx="514" cy="388" r="0.7"/><circle cx="354" cy="284" r="0.5"/><circle cx="298" cy="408" r="0.6"/><circle cx="409" cy="234" r="0.8"/><circle cx="276" cy="249" r="0.6"/><circle cx="326" cy="311" r="0.8"/><circle cx="473" cy="285" r="0.5"/><circle cx="398" cy="390" r="0.6"/><circle cx="373" cy="231" r="0.7"/><circle cx="428" cy="401" r="0.6"/><circle cx="355" cy="241" r="0.7"/><circle cx="360" cy="370" r="0.6"/><circle cx="377" cy="234" r="0.7"/><circle cx="495" cy="270" r="0.8"/><circle cx="520" cy="365" r="0.6"/><circle cx="316" cy="312" r="0.6"/><circle cx="328" cy="233" r="0.6"/><circle cx="411" cy="237" r="0.7"/><circle cx="540" cy="312" r="0.6"/><circle cx="378" cy="292" r="0.5"/><circle cx="527" cy="368" r="0.8"/><circle cx="438" cy="262" r="0.8"/><circle cx="438" cy="384" r="0.6"/><circle cx="377" cy="310" r="0.6"/><circle cx="560" cy="423" r="0.7"/><circle cx="467" cy="279" r="0.5"/><circle cx="332" cy="226" r="0.7"/><circle cx="539" cy="258" r="0.8"/><circle cx="410" cy="364" r="0.6"/><circle cx="357" cy="313" r="0.8"/><circle cx="392" cy="285" r="0.8"/><circle cx="424" cy="354" r="0.6"/><circle cx="348" cy="308" r="0.5"/><circle cx="437" cy="350" r="0.7"/><circle cx="467" cy="369" r="0.7"/><circle cx="354" cy="274" r="0.5"/><circle cx="500" cy="237" r="0.5"/><circle cx="274" cy="280" r="0.8"/><circle cx="492" cy="388" r="0.8"/><circle cx="349" cy="350" r="0.6"/><circle cx="502" cy="284" r="0.8"/><circle cx="365" cy="423" r="0.6"/><circle cx="371" cy="371" r="0.5"/><circle cx="295" cy="280" r="0.7"/><circle cx="330" cy="247" r="0.5"/><circle cx="531" cy="234" r="0.5"/><circle cx="474" cy="389" r="0.6"/><circle cx="550" cy="252" r="0.6"/><circle cx="316" cy="286" r="0.5"/><circle cx="371" cy="369" r="0.5"/><circle cx="386" cy="393" r="0.8"/><circle cx="301" cy="311" r="0.6"/><circle cx="320" cy="223" r="0.6"/><circle cx="486" cy="276" r="0.8"/><circle cx="540" cy="424" r="0.8"/><circle cx="512" cy="368" r="0.5"/><circle cx="274" cy="296" r="0.7"/><circle cx="392" cy="407" r="0.8"/><circle cx="552" cy="282" r="0.7"/><circle cx="524" cy="307" r="0.7"/><circle cx="420" cy="288" r="0.8"/><circle cx="507" cy="285" r="0.5"/><circle cx="426" cy="325" r="0.5"/><circle cx="455" cy="367" r="0.7"/><circle cx="281" cy="321" r="0.5"/><circle cx="278" cy="291" r="0.8"/><circle cx="408" cy="294" r="0.7"/><circle cx="543" cy="301" r="0.5"/><circle cx="422" cy="403" r="0.5"/><circle cx="503" cy="291" r="0.7"/><circle cx="525" cy="275" r="0.5"/><circle cx="528" cy="369" r="0.6"/><circle cx="310" cy="240" r="0.7"/><circle cx="454" cy="406" r="0.7"/><circle cx="553" cy="234" r="0.5"/><circle cx="556" cy="299" r="0.5"/><circle cx="534" cy="284" r="0.6"/><circle cx="389" cy="330" r="0.6"/><circle cx="437" cy="334" r="0.5"/><circle cx="355" cy="336" r="0.7"/><circle cx="553" cy="276" r="0.6"/><circle cx="451" cy="223" r="0.5"/><circle cx="428" cy="422" r="0.8"/><circle cx="286" cy="355" r="0.5"/><circle cx="494" cy="335" r="0.6"/><circle cx="268" cy="226" r="0.6"/><circle cx="499" cy="241" r="0.8"/><circle cx="524" cy="293" r="0.6"/><circle cx="555" cy="300" r="0.6"/><circle cx="328" cy="236" r="0.7"/><circle cx="503" cy="430" r="0.8"/><circle cx="384" cy="223" r="0.7"/><circle cx="472" cy="247" r="0.5"/><circle cx="298" cy="400" r="0.8"/><circle cx="372" cy="281" r="0.5"/><circle cx="302" cy="222" r="0.6"/><circle cx="399" cy="418" r="0.7"/><circle cx="276" cy="272" r="0.8"/><circle cx="506" cy="293" r="0.5"/><circle cx="552" cy="374" r="0.6"/><circle cx="422" cy="290" r="0.7"/><circle cx="399" cy="411" r="0.5"/><circle cx="292" cy="412" r="0.8"/><circle cx="423" cy="271" r="0.8"/><circle cx="313" cy="284" r="0.7"/><circle cx="547" cy="280" r="0.7"/><circle cx="310" cy="239" r="0.5"/><circle cx="327" cy="313" r="0.5"/><circle cx="310" cy="374" r="0.5"/><circle cx="346" cy="257" r="0.7"/><circle cx="412" cy="379" r="0.7"/><circle cx="535" cy="421" r="0.5"/><circle cx="341" cy="264" r="0.8"/><circle cx="508" cy="259" r="0.5"/><circle cx="479" cy="344" r="0.8"/><circle cx="393" cy="368" r="0.5"/><circle cx="459" cy="237" r="0.7"/><circle cx="361" cy="388" r="0.8"/><circle cx="368" cy="365" r="0.7"/><circle cx="513" cy="257" r="0.7"/><circle cx="322" cy="234" r="0.5"/><circle cx="476" cy="349" r="0.5"/><circle cx="541" cy="296" r="0.8"/><circle cx="266" cy="230" r="0.8"/><circle cx="380" cy="239" r="0.7"/><circle cx="349" cy="367" r="0.5"/><circle cx="541" cy="298" r="0.7"/><circle cx="441" cy="300" r="0.8"/><circle cx="373" cy="289" r="0.7"/><circle cx="396" cy="415" r="0.8"/><circle cx="266" cy="371" r="0.5"/><circle cx="345" cy="418" r="0.5"/><circle cx="332" cy="395" r="0.8"/><circle cx="518" cy="396" r="0.5"/><circle cx="268" cy="221" r="0.6"/><circle cx="287" cy="400" r="0.7"/><circle cx="270" cy="235" r="0.8"/><circle cx="558" cy="256" r="0.5"/><circle cx="511" cy="224" r="0.6"/><circle cx="282" cy="307" r="0.7"/><circle cx="486" cy="315" r="0.6"/><circle cx="534" cy="268" r="0.5"/><circle cx="501" cy="343" r="0.5"/><circle cx="455" cy="390" r="0.8"/><circle cx="459" cy="268" r="0.8"/><circle cx="545" cy="304" r="0.8"/><circle cx="446" cy="411" r="0.6"/><circle cx="335" cy="422" r="0.6"/><circle cx="275" cy="357" r="0.7"/><circle cx="435" cy="261" r="0.5"/><circle cx="422" cy="274" r="0.7"/><circle cx="411" cy="407" r="0.5"/><circle cx="315" cy="338" r="0.8"/><circle cx="390" cy="263" r="0.7"/><circle cx="447" cy="348" r="0.5"/><circle cx="526" cy="394" r="0.5"/><circle cx="427" cy="314" r="0.5"/><circle cx="270" cy="345" r="0.7"/><circle cx="423" cy="291" r="0.6"/><circle cx="524" cy="377" r="0.8"/><circle cx="556" cy="222" r="0.6"/><circle cx="305" cy="233" r="0.8"/><circle cx="475" cy="249" r="0.8"/><circle cx="545" cy="247" r="0.5"/><circle cx="550" cy="308" r="0.7"/><circle cx="532" cy="355" r="0.7"/><circle cx="325" cy="295" r="0.6"/><circle cx="469" cy="246" r="0.5"/><circle cx="470" cy="244" r="0.6"/><circle cx="468" cy="284" r="0.5"/><circle cx="412" cy="418" r="0.5"/><circle cx="452" cy="355" r="0.6"/><circle cx="489" cy="274" r="0.7"/><circle cx="345" cy="383" r="0.8"/><circle cx="528" cy="293" r="0.7"/><circle cx="402" cy="350" r="0.6"/><circle cx="541" cy="361" r="0.8"/><circle cx="430" cy="316" r="0.8"/><circle cx="536" cy="313" r="0.7"/><circle cx="494" cy="315" r="0.6"/><circle cx="339" cy="421" r="0.8"/><circle cx="553" cy="298" r="0.7"/><circle cx="423" cy="378" r="0.6"/><circle cx="359" cy="369" r="0.7"/><circle cx="469" cy="280" r="0.5"/><circle cx="280" cy="310" r="0.5"/><circle cx="510" cy="245" r="0.7"/><circle cx="557" cy="408" r="0.8"/><circle cx="332" cy="402" r="0.6"/><circle cx="523" cy="423" r="0.8"/><circle cx="391" cy="389" r="0.6"/><circle cx="454" cy="299" r="0.7"/><circle cx="401" cy="239" r="0.6"/><circle cx="415" cy="405" r="0.7"/><circle cx="467" cy="253" r="0.8"/><circle cx="351" cy="241" r="0.8"/><circle cx="432" cy="369" r="0.5"/><circle cx="542" cy="345" r="0.6"/><circle cx="458" cy="349" r="0.7"/><circle cx="407" cy="229" r="0.6"/><circle cx="327" cy="366" r="0.6"/><circle cx="422" cy="401" r="0.6"/><circle cx="328" cy="226" r="0.8"/><circle cx="459" cy="412" r="0.7"/><circle cx="404" cy="429" r="0.7"/><circle cx="427" cy="225" r="0.5"/><circle cx="531" cy="240" r="0.8"/><circle cx="507" cy="222" r="0.8"/><circle cx="463" cy="315" r="0.7"/><circle cx="329" cy="264" r="0.6"/><circle cx="320" cy="276" r="0.6"/><circle cx="413" cy="380" r="0.6"/><circle cx="481" cy="422" r="0.7"/><circle cx="543" cy="257" r="0.7"/><circle cx="410" cy="314" r="0.8"/><circle cx="536" cy="260" r="0.8"/><circle cx="331" cy="303" r="0.7"/><circle cx="460" cy="344" r="0.8"/><circle cx="278" cy="289" r="0.7"/><circle cx="539" cy="295" r="0.8"/><circle cx="555" cy="364" r="0.5"/><circle cx="496" cy="395" r="0.7"/><circle cx="338" cy="308" r="0.5"/><circle cx="522" cy="277" r="0.8"/><circle cx="541" cy="233" r="0.5"/><circle cx="345" cy="350" r="0.7"/><circle cx="540" cy="384" r="0.7"/><circle cx="359" cy="338" r="0.7"/><circle cx="282" cy="249" r="0.6"/><circle cx="334" cy="408" r="0.7"/><circle cx="476" cy="277" r="0.8"/><circle cx="527" cy="417" r="0.7"/><circle cx="300" cy="329" r="0.5"/><circle cx="427" cy="275" r="0.7"/><circle cx="365" cy="250" r="0.8"/><circle cx="308" cy="356" r="0.8"/><circle cx="500" cy="302" r="0.8"/><circle cx="500" cy="377" r="0.6"/><circle cx="318" cy="411" r="0.7"/><circle cx="432" cy="239" r="0.8"/><circle cx="337" cy="264" r="0.8"/><circle cx="321" cy="424" r="0.7"/><circle cx="291" cy="416" r="0.8"/><circle cx="377" cy="256" r="0.8"/><circle cx="382" cy="425" r="0.5"/><circle cx="333" cy="283" r="0.6"/><circle cx="376" cy="376" r="0.7"/><circle cx="412" cy="232" r="0.6"/><circle cx="521" cy="356" r="0.8"/><circle cx="403" cy="357" r="0.5"/><circle cx="356" cy="333" r="0.6"/><circle cx="449" cy="357" r="0.8"/><circle cx="376" cy="399" r="0.8"/></g><g fill="#ee6aa8" opacity="0.75"><circle cx="492" cy="414" r="0.5"/><circle cx="487" cy="375" r="0.8"/><circle cx="456" cy="268" r="0.6"/><circle cx="482" cy="313" r="0.5"/><circle cx="528" cy="265" r="0.7"/><circle cx="454" cy="351" r="0.8"/><circle cx="323" cy="332" r="0.6"/><circle cx="401" cy="268" r="0.7"/><circle cx="470" cy="360" r="0.7"/><circle cx="378" cy="222" r="0.7"/><circle cx="268" cy="328" r="0.5"/><circle cx="443" cy="278" r="0.5"/><circle cx="288" cy="387" r="0.8"/><circle cx="370" cy="225" r="0.6"/><circle cx="390" cy="384" r="0.5"/><circle cx="442" cy="318" r="0.5"/><circle cx="378" cy="269" r="0.5"/><circle cx="364" cy="288" r="0.8"/><circle cx="447" cy="366" r="0.6"/><circle cx="384" cy="367" r="0.5"/><circle cx="442" cy="411" r="0.8"/><circle cx="300" cy="322" r="0.7"/><circle cx="428" cy="276" r="0.5"/><circle cx="279" cy="319" r="0.7"/><circle cx="393" cy="284" r="0.8"/><circle cx="335" cy="234" r="0.6"/><circle cx="516" cy="416" r="0.6"/><circle cx="484" cy="427" r="0.7"/><circle cx="341" cy="249" r="0.8"/><circle cx="320" cy="242" r="0.8"/><circle cx="503" cy="225" r="0.7"/><circle cx="329" cy="357" r="0.6"/><circle cx="479" cy="288" r="0.5"/><circle cx="329" cy="385" r="0.6"/><circle cx="351" cy="307" r="0.8"/><circle cx="406" cy="338" r="0.5"/><circle cx="325" cy="252" r="0.7"/><circle cx="276" cy="220" r="0.6"/><circle cx="448" cy="271" r="0.8"/><circle cx="271" cy="222" r="0.6"/><circle cx="521" cy="404" r="0.5"/><circle cx="352" cy="284" r="0.6"/><circle cx="405" cy="226" r="0.7"/><circle cx="444" cy="285" r="0.7"/><circle cx="497" cy="369" r="0.6"/><circle cx="549" cy="374" r="0.5"/><circle cx="490" cy="272" r="0.8"/><circle cx="457" cy="272" r="0.7"/><circle cx="301" cy="277" r="0.5"/><circle cx="298" cy="390" r="0.8"/><circle cx="476" cy="282" r="0.6"/><circle cx="385" cy="277" r="0.5"/><circle cx="334" cy="242" r="0.8"/><circle cx="435" cy="356" r="0.5"/><circle cx="437" cy="280" r="0.5"/><circle cx="394" cy="285" r="0.5"/><circle cx="330" cy="367" r="0.8"/><circle cx="319" cy="409" r="0.8"/><circle cx="531" cy="273" r="0.8"/><circle cx="512" cy="343" r="0.6"/><circle cx="447" cy="385" r="0.5"/><circle cx="499" cy="389" r="0.7"/><circle cx="353" cy="365" r="0.5"/><circle cx="477" cy="394" r="0.8"/><circle cx="402" cy="249" r="0.8"/><circle cx="432" cy="398" r="0.7"/><circle cx="548" cy="257" r="0.8"/><circle cx="523" cy="248" r="0.8"/><circle cx="531" cy="287" r="0.5"/><circle cx="379" cy="242" r="0.6"/><circle cx="537" cy="267" r="0.6"/><circle cx="358" cy="281" r="0.5"/><circle cx="298" cy="344" r="0.7"/><circle cx="305" cy="325" r="0.7"/><circle cx="307" cy="248" r="0.6"/><circle cx="487" cy="330" r="0.5"/><circle cx="483" cy="377" r="0.7"/><circle cx="519" cy="260" r="0.8"/><circle cx="312" cy="407" r="0.7"/><circle cx="353" cy="224" r="0.7"/><circle cx="402" cy="319" r="0.7"/><circle cx="391" cy="341" r="0.5"/><circle cx="532" cy="414" r="0.5"/><circle cx="530" cy="287" r="0.7"/><circle cx="339" cy="341" r="0.8"/><circle cx="528" cy="300" r="0.7"/><circle cx="499" cy="280" r="0.8"/><circle cx="491" cy="429" r="0.5"/><circle cx="528" cy="303" r="0.5"/><circle cx="468" cy="237" r="0.8"/><circle cx="536" cy="428" r="0.8"/><circle cx="344" cy="249" r="0.7"/><circle cx="471" cy="284" r="0.8"/><circle cx="474" cy="286" r="0.8"/><circle cx="533" cy="343" r="0.8"/><circle cx="472" cy="284" r="0.6"/><circle cx="318" cy="264" r="0.8"/><circle cx="322" cy="289" r="0.7"/><circle cx="544" cy="424" r="0.6"/><circle cx="375" cy="355" r="0.5"/><circle cx="505" cy="246" r="0.8"/><circle cx="464" cy="386" r="0.5"/><circle cx="401" cy="372" r="0.7"/><circle cx="447" cy="322" r="0.7"/><circle cx="517" cy="292" r="0.8"/><circle cx="540" cy="371" r="0.5"/><circle cx="540" cy="342" r="0.5"/><circle cx="463" cy="300" r="0.8"/><circle cx="399" cy="221" r="0.8"/><circle cx="474" cy="317" r="0.5"/><circle cx="501" cy="252" r="0.7"/><circle cx="319" cy="255" r="0.8"/><circle cx="554" cy="229" r="0.7"/><circle cx="392" cy="383" r="0.8"/></g><g fill="#ea5a96" opacity="0.25"><circle cx="487" cy="424" r="0.8"/><circle cx="508" cy="331" r="0.5"/><circle cx="352" cy="351" r="0.7"/><circle cx="501" cy="323" r="0.7"/><circle cx="359" cy="392" r="0.5"/><circle cx="516" cy="298" r="0.8"/><circle cx="389" cy="313" r="0.5"/><circle cx="378" cy="236" r="0.8"/><circle cx="487" cy="367" r="0.6"/><circle cx="523" cy="314" r="0.7"/><circle cx="426" cy="243" r="0.8"/><circle cx="388" cy="302" r="0.5"/><circle cx="492" cy="282" r="0.6"/><circle cx="373" cy="325" r="0.6"/><circle cx="440" cy="301" r="0.6"/><circle cx="283" cy="375" r="0.5"/><circle cx="496" cy="371" r="0.8"/><circle cx="338" cy="291" r="0.8"/><circle cx="284" cy="389" r="0.7"/><circle cx="362" cy="317" r="0.5"/><circle cx="546" cy="315" r="0.5"/><circle cx="386" cy="225" r="0.6"/><circle cx="302" cy="256" r="0.8"/><circle cx="550" cy="263" r="0.6"/><circle cx="499" cy="358" r="0.6"/><circle cx="317" cy="320" r="0.8"/><circle cx="520" cy="355" r="0.6"/><circle cx="544" cy="331" r="0.5"/><circle cx="473" cy="230" r="0.5"/><circle cx="315" cy="253" r="0.8"/><circle cx="468" cy="362" r="0.6"/><circle cx="484" cy="411" r="0.6"/><circle cx="540" cy="224" r="0.5"/><circle cx="413" cy="413" r="0.8"/><circle cx="279" cy="369" r="0.8"/><circle cx="482" cy="232" r="0.8"/><circle cx="429" cy="264" r="0.5"/><circle cx="543" cy="332" r="0.8"/><circle cx="377" cy="262" r="0.7"/><circle cx="320" cy="349" r="0.5"/><circle cx="346" cy="329" r="0.6"/><circle cx="276" cy="357" r="0.7"/><circle cx="293" cy="322" r="0.8"/><circle cx="487" cy="364" r="0.6"/><circle cx="425" cy="398" r="0.5"/><circle cx="341" cy="366" r="0.5"/></g><g fill="#f07ec0" opacity="0.75"><circle cx="529" cy="253" r="0.6"/><circle cx="332" cy="403" r="0.7"/><circle cx="316" cy="427" r="0.6"/><circle cx="309" cy="385" r="0.7"/><circle cx="394" cy="371" r="0.7"/><circle cx="552" cy="220" r="0.5"/><circle cx="370" cy="407" r="0.8"/><circle cx="460" cy="221" r="0.7"/><circle cx="422" cy="235" r="0.6"/><circle cx="452" cy="356" r="0.6"/><circle cx="293" cy="335" r="0.8"/><circle cx="431" cy="233" r="0.7"/><circle cx="538" cy="411" r="0.7"/><circle cx="313" cy="308" r="0.5"/><circle cx="396" cy="415" r="0.5"/><circle cx="465" cy="285" r="0.5"/><circle cx="465" cy="281" r="0.7"/><circle cx="282" cy="375" r="0.5"/><circle cx="295" cy="365" r="0.8"/><circle cx="517" cy="407" r="0.7"/><circle cx="363" cy="227" r="0.6"/><circle cx="366" cy="416" r="0.7"/><circle cx="307" cy="310" r="0.5"/><circle cx="436" cy="246" r="0.5"/><circle cx="349" cy="270" r="0.5"/><circle cx="278" cy="422" r="0.8"/><circle cx="329" cy="369" r="0.8"/><circle cx="328" cy="384" r="0.8"/><circle cx="438" cy="331" r="0.5"/><circle cx="529" cy="223" r="0.8"/><circle cx="473" cy="426" r="0.8"/><circle cx="365" cy="270" r="0.6"/><circle cx="411" cy="268" r="0.5"/><circle cx="508" cy="413" r="0.7"/><circle cx="319" cy="231" r="0.6"/><circle cx="416" cy="406" r="0.6"/><circle cx="368" cy="287" r="0.5"/><circle cx="321" cy="348" r="0.6"/><circle cx="468" cy="340" r="0.7"/><circle cx="462" cy="411" r="0.6"/><circle cx="380" cy="309" r="0.6"/><circle cx="363" cy="288" r="0.6"/><circle cx="513" cy="384" r="0.8"/><circle cx="484" cy="405" r="0.5"/><circle cx="424" cy="291" r="0.6"/><circle cx="289" cy="275" r="0.7"/><circle cx="293" cy="260" r="0.7"/><circle cx="353" cy="251" r="0.6"/><circle cx="335" cy="293" r="0.7"/><circle cx="378" cy="274" r="0.7"/><circle cx="322" cy="360" r="0.6"/><circle cx="503" cy="352" r="0.6"/><circle cx="448" cy="359" r="0.8"/><circle cx="288" cy="366" r="0.8"/><circle cx="272" cy="352" r="0.6"/><circle cx="401" cy="252" r="0.6"/><circle cx="335" cy="405" r="0.8"/><circle cx="417" cy="230" r="0.5"/><circle cx="318" cy="319" r="0.6"/><circle cx="404" cy="384" r="0.5"/><circle cx="447" cy="373" r="0.6"/><circle cx="361" cy="260" r="0.7"/><circle cx="393" cy="224" r="0.7"/><circle cx="306" cy="256" r="0.6"/><circle cx="545" cy="249" r="0.6"/><circle cx="272" cy="234" r="0.7"/><circle cx="279" cy="381" r="0.7"/><circle cx="527" cy="318" r="0.5"/><circle cx="306" cy="321" r="0.5"/><circle cx="440" cy="428" r="0.5"/><circle cx="536" cy="257" r="0.7"/><circle cx="400" cy="254" r="0.7"/><circle cx="396" cy="427" r="0.6"/><circle cx="482" cy="317" r="0.7"/><circle cx="466" cy="370" r="0.7"/><circle cx="321" cy="426" r="0.6"/><circle cx="513" cy="250" r="0.5"/><circle cx="326" cy="355" r="0.7"/><circle cx="375" cy="323" r="0.8"/><circle cx="438" cy="427" r="0.5"/><circle cx="272" cy="319" r="0.5"/><circle cx="434" cy="322" r="0.7"/><circle cx="385" cy="388" r="0.7"/><circle cx="274" cy="285" r="0.8"/><circle cx="547" cy="361" r="0.5"/><circle cx="299" cy="278" r="0.6"/><circle cx="464" cy="274" r="0.6"/><circle cx="535" cy="394" r="0.7"/><circle cx="399" cy="247" r="0.6"/><circle cx="324" cy="249" r="0.6"/><circle cx="476" cy="390" r="0.5"/><circle cx="384" cy="397" r="0.8"/><circle cx="391" cy="232" r="0.5"/><circle cx="333" cy="334" r="0.6"/><circle cx="266" cy="246" r="0.7"/><circle cx="473" cy="397" r="0.8"/><circle cx="551" cy="313" r="0.6"/><circle cx="324" cy="376" r="0.5"/><circle cx="346" cy="368" r="0.5"/><circle cx="327" cy="293" r="0.8"/><circle cx="347" cy="364" r="0.6"/><circle cx="271" cy="348" r="0.7"/><circle cx="456" cy="280" r="0.5"/><circle cx="494" cy="254" r="0.6"/><circle cx="306" cy="388" r="0.7"/><circle cx="476" cy="353" r="0.5"/><circle cx="499" cy="411" r="0.5"/><circle cx="280" cy="255" r="0.5"/><circle cx="336" cy="267" r="0.5"/><circle cx="444" cy="284" r="0.6"/><circle cx="539" cy="426" r="0.6"/><circle cx="363" cy="230" r="0.8"/><circle cx="426" cy="338" r="0.5"/><circle cx="508" cy="311" r="0.8"/><circle cx="362" cy="233" r="0.8"/><circle cx="511" cy="315" r="0.5"/><circle cx="306" cy="336" r="0.8"/><circle cx="490" cy="418" r="0.5"/><circle cx="530" cy="429" r="0.7"/><circle cx="322" cy="347" r="0.7"/><circle cx="280" cy="398" r="0.6"/><circle cx="388" cy="304" r="0.8"/><circle cx="319" cy="375" r="0.7"/><circle cx="284" cy="336" r="0.8"/><circle cx="559" cy="236" r="0.7"/><circle cx="300" cy="383" r="0.8"/><circle cx="440" cy="424" r="0.7"/></g><g fill="#f07ec0" opacity="0.25"><circle cx="381" cy="418" r="0.7"/><circle cx="435" cy="379" r="0.7"/><circle cx="350" cy="273" r="0.7"/><circle cx="504" cy="344" r="0.7"/><circle cx="539" cy="374" r="0.5"/><circle cx="310" cy="343" r="0.8"/><circle cx="286" cy="334" r="0.5"/><circle cx="301" cy="378" r="0.7"/><circle cx="402" cy="356" r="0.6"/><circle cx="499" cy="274" r="0.5"/><circle cx="488" cy="308" r="0.5"/><circle cx="515" cy="335" r="0.7"/><circle cx="425" cy="402" r="0.5"/><circle cx="373" cy="364" r="0.5"/><circle cx="547" cy="392" r="0.8"/><circle cx="438" cy="409" r="0.8"/><circle cx="336" cy="307" r="0.5"/><circle cx="398" cy="262" r="0.7"/><circle cx="543" cy="255" r="0.8"/><circle cx="452" cy="279" r="0.8"/><circle cx="312" cy="415" r="0.6"/><circle cx="405" cy="301" r="0.7"/><circle cx="413" cy="299" r="0.5"/><circle cx="316" cy="315" r="0.5"/><circle cx="314" cy="238" r="0.8"/><circle cx="485" cy="295" r="0.8"/><circle cx="290" cy="259" r="0.7"/><circle cx="470" cy="286" r="0.8"/><circle cx="506" cy="268" r="0.7"/><circle cx="442" cy="372" r="0.6"/></g><g fill="#ee6aa8" opacity="0.25"><circle cx="339" cy="269" r="0.6"/><circle cx="497" cy="395" r="0.7"/><circle cx="497" cy="276" r="0.5"/><circle cx="439" cy="362" r="0.8"/><circle cx="479" cy="253" r="0.8"/><circle cx="459" cy="323" r="0.8"/><circle cx="398" cy="322" r="0.5"/><circle cx="519" cy="299" r="0.8"/><circle cx="491" cy="369" r="0.8"/><circle cx="529" cy="307" r="0.6"/><circle cx="345" cy="301" r="0.5"/><circle cx="400" cy="284" r="0.5"/><circle cx="273" cy="423" r="0.6"/><circle cx="503" cy="265" r="0.8"/><circle cx="447" cy="428" r="0.7"/><circle cx="527" cy="338" r="0.5"/><circle cx="452" cy="278" r="0.6"/><circle cx="319" cy="319" r="0.6"/><circle cx="450" cy="413" r="0.7"/><circle cx="509" cy="336" r="0.6"/><circle cx="458" cy="382" r="0.7"/><circle cx="500" cy="249" r="0.6"/><circle cx="491" cy="346" r="0.5"/><circle cx="408" cy="419" r="0.5"/><circle cx="373" cy="258" r="0.6"/><circle cx="556" cy="425" r="0.7"/></g><g filter="url(#blur05)"><g fill="#f6a0d0" opacity="0.75"><circle cx="285" cy="288" r="1.2"/><circle cx="471" cy="363" r="1.7"/><circle cx="389" cy="423" r="1.2"/><circle cx="288" cy="263" r="1.6"/><circle cx="313" cy="392" r="1.3"/><circle cx="317" cy="390" r="1.4"/><circle cx="399" cy="342" r="1.3"/><circle cx="456" cy="391" r="1.8"/><circle cx="345" cy="399" r="2.0"/><circle cx="472" cy="298" r="1.3"/><circle cx="486" cy="309" r="1.4"/><circle cx="408" cy="292" r="1.4"/><circle cx="488" cy="346" r="1.6"/><circle cx="498" cy="363" r="2.0"/><circle cx="368" cy="240" r="1.6"/><circle cx="494" cy="243" r="1.9"/><circle cx="351" cy="366" r="2.0"/><circle cx="478" cy="287" r="1.5"/><circle cx="553" cy="284" r="1.6"/><circle cx="266" cy="356" r="1.7"/><circle cx="480" cy="374" r="1.8"/><circle cx="395" cy="242" r="1.3"/><circle cx="292" cy="245" r="1.6"/><circle cx="454" cy="287" r="1.5"/><circle cx="298" cy="240" r="1.5"/><circle cx="426" cy="293" r="1.7"/><circle cx="385" cy="249" r="1.4"/><circle cx="335" cy="256" r="1.3"/><circle cx="325" cy="334" r="1.9"/><circle cx="285" cy="242" r="1.9"/><circle cx="541" cy="236" r="1.6"/><circle cx="339" cy="235" r="1.7"/><circle cx="387" cy="335" r="1.8"/><circle cx="346" cy="240" r="1.3"/><circle cx="539" cy="321" r="1.3"/><circle cx="329" cy="429" r="1.3"/><circle cx="386" cy="415" r="1.8"/><circle cx="484" cy="232" r="1.9"/><circle cx="389" cy="223" r="1.6"/><circle cx="353" cy="239" r="1.9"/><circle cx="356" cy="375" r="1.2"/><circle cx="558" cy="224" r="1.9"/><circle cx="420" cy="404" r="1.2"/><circle cx="511" cy="256" r="1.7"/><circle cx="329" cy="328" r="1.3"/></g><g fill="#fbd2ea" opacity="1.00"><circle cx="520" cy="348" r="1.3"/><circle cx="297" cy="337" r="2.0"/><circle cx="477" cy="325" r="1.9"/><circle cx="475" cy="272" r="1.2"/><circle cx="371" cy="369" r="1.8"/><circle cx="549" cy="292" r="1.4"/><circle cx="335" cy="428" r="1.7"/><circle cx="338" cy="257" r="1.7"/><circle cx="376" cy="241" r="1.3"/><circle cx="553" cy="272" r="1.3"/><circle cx="483" cy="286" r="1.4"/><circle cx="299" cy="345" r="1.8"/><circle cx="305" cy="255" r="1.5"/><circle cx="311" cy="271" r="1.7"/><circle cx="492" cy="340" r="1.9"/><circle cx="558" cy="392" r="1.5"/><circle cx="449" cy="348" r="1.8"/><circle cx="333" cy="324" r="1.6"/><circle cx="281" cy="296" r="1.3"/><circle cx="405" cy="243" r="1.7"/><circle cx="311" cy="258" r="1.6"/><circle cx="293" cy="253" r="1.7"/><circle cx="318" cy="425" r="1.3"/><circle cx="557" cy="376" r="1.8"/><circle cx="441" cy="231" r="2.0"/><circle cx="400" cy="236" r="1.3"/><circle cx="491" cy="315" r="1.9"/><circle cx="508" cy="312" r="2.0"/><circle cx="367" cy="275" r="1.4"/><circle cx="476" cy="280" r="1.2"/><circle cx="310" cy="371" r="1.8"/><circle cx="389" cy="383" r="1.6"/><circle cx="546" cy="232" r="1.9"/><circle cx="455" cy="401" r="1.4"/><circle cx="525" cy="341" r="2.0"/><circle cx="351" cy="305" r="1.8"/><circle cx="526" cy="233" r="1.4"/><circle cx="338" cy="421" r="1.3"/><circle cx="344" cy="245" r="1.6"/><circle cx="444" cy="321" r="2.0"/><circle cx="265" cy="430" r="1.5"/><circle cx="387" cy="356" r="1.9"/><circle cx="339" cy="313" r="1.6"/><circle cx="549" cy="339" r="1.5"/><circle cx="445" cy="383" r="1.9"/><circle cx="380" cy="375" r="1.8"/><circle cx="322" cy="361" r="1.4"/><circle cx="545" cy="430" r="1.6"/><circle cx="314" cy="305" r="1.3"/><circle cx="314" cy="325" r="1.2"/></g><g fill="#f8b8dc" opacity="0.75"><circle cx="283" cy="268" r="1.9"/><circle cx="359" cy="366" r="1.5"/><circle cx="446" cy="341" r="1.4"/><circle cx="280" cy="425" r="1.7"/><circle cx="472" cy="396" r="1.3"/><circle cx="472" cy="365" r="1.3"/><circle cx="454" cy="398" r="1.8"/><circle cx="449" cy="382" r="1.2"/><circle cx="338" cy="324" r="1.2"/><circle cx="427" cy="222" r="1.9"/><circle cx="307" cy="270" r="1.5"/><circle cx="304" cy="252" r="1.6"/><circle cx="404" cy="331" r="1.3"/><circle cx="274" cy="424" r="1.2"/><circle cx="427" cy="396" r="1.3"/><circle cx="513" cy="419" r="1.4"/><circle cx="386" cy="237" r="1.7"/><circle cx="421" cy="376" r="1.4"/><circle cx="269" cy="285" r="1.8"/><circle cx="550" cy="221" r="1.6"/><circle cx="355" cy="299" r="1.4"/><circle cx="421" cy="426" r="1.4"/><circle cx="435" cy="346" r="1.3"/><circle cx="374" cy="290" r="1.9"/><circle cx="493" cy="337" r="1.8"/><circle cx="295" cy="341" r="1.5"/><circle cx="320" cy="376" r="1.6"/><circle cx="437" cy="298" r="1.6"/><circle cx="401" cy="302" r="1.7"/><circle cx="509" cy="412" r="1.3"/><circle cx="440" cy="247" r="2.0"/><circle cx="439" cy="414" r="2.0"/><circle cx="299" cy="378" r="2.0"/><circle cx="277" cy="358" r="1.7"/><circle cx="273" cy="394" r="1.3"/><circle cx="474" cy="312" r="1.3"/><circle cx="502" cy="302" r="1.6"/><circle cx="475" cy="393" r="1.4"/><circle cx="278" cy="402" r="1.6"/><circle cx="384" cy="247" r="1.4"/><circle cx="364" cy="324" r="1.3"/><circle cx="266" cy="306" r="1.4"/><circle cx="516" cy="295" r="1.5"/><circle cx="348" cy="344" r="1.3"/><circle cx="306" cy="308" r="1.5"/><circle cx="469" cy="380" r="1.4"/><circle cx="379" cy="346" r="1.5"/><circle cx="407" cy="390" r="1.8"/><circle cx="414" cy="319" r="1.9"/><circle cx="402" cy="294" r="1.8"/><circle cx="441" cy="254" r="1.5"/><circle cx="511" cy="326" r="1.6"/><circle cx="328" cy="284" r="1.4"/><circle cx="525" cy="353" r="1.4"/><circle cx="274" cy="302" r="1.7"/></g><g fill="#f8b8dc" opacity="1.00"><circle cx="461" cy="226" r="1.7"/><circle cx="417" cy="293" r="1.8"/><circle cx="353" cy="385" r="1.6"/><circle cx="315" cy="310" r="1.8"/><circle cx="297" cy="282" r="1.2"/><circle cx="418" cy="400" r="1.3"/><circle cx="523" cy="272" r="1.2"/><circle cx="345" cy="427" r="1.5"/><circle cx="466" cy="403" r="1.9"/><circle cx="369" cy="372" r="1.4"/><circle cx="532" cy="231" r="1.8"/><circle cx="322" cy="291" r="1.5"/><circle cx="325" cy="230" r="1.4"/><circle cx="477" cy="390" r="1.5"/><circle cx="281" cy="366" r="1.2"/><circle cx="465" cy="322" r="1.2"/><circle cx="413" cy="328" r="1.5"/><circle cx="272" cy="300" r="1.8"/><circle cx="409" cy="257" r="2.0"/><circle cx="403" cy="331" r="1.6"/><circle cx="314" cy="264" r="1.6"/><circle cx="354" cy="347" r="1.4"/><circle cx="286" cy="276" r="1.8"/><circle cx="530" cy="236" r="1.8"/><circle cx="363" cy="366" r="1.6"/><circle cx="363" cy="321" r="1.4"/><circle cx="371" cy="333" r="1.6"/><circle cx="372" cy="351" r="1.9"/><circle cx="414" cy="263" r="1.5"/><circle cx="298" cy="322" r="1.6"/><circle cx="471" cy="245" r="2.0"/><circle cx="403" cy="397" r="1.2"/><circle cx="380" cy="374" r="1.8"/><circle cx="555" cy="326" r="1.5"/><circle cx="520" cy="359" r="1.3"/><circle cx="300" cy="241" r="1.3"/><circle cx="462" cy="410" r="1.8"/><circle cx="306" cy="392" r="1.9"/><circle cx="371" cy="308" r="1.7"/><circle cx="535" cy="396" r="1.8"/><circle cx="376" cy="258" r="1.3"/><circle cx="403" cy="319" r="1.4"/><circle cx="271" cy="320" r="1.8"/><circle cx="470" cy="241" r="1.6"/></g><g fill="#fbd2ea" opacity="0.75"><circle cx="352" cy="240" r="1.7"/><circle cx="420" cy="221" r="1.5"/><circle cx="304" cy="331" r="1.6"/><circle cx="478" cy="259" r="1.3"/><circle cx="365" cy="233" r="1.6"/><circle cx="408" cy="313" r="1.7"/><circle cx="441" cy="344" r="1.9"/><circle cx="519" cy="422" r="1.8"/><circle cx="344" cy="251" r="1.4"/><circle cx="504" cy="325" r="1.8"/><circle cx="305" cy="305" r="1.4"/><circle cx="398" cy="302" r="1.5"/><circle cx="529" cy="322" r="1.3"/><circle cx="476" cy="383" r="1.7"/><circle cx="380" cy="302" r="1.4"/><circle cx="379" cy="382" r="1.6"/><circle cx="291" cy="229" r="1.6"/><circle cx="463" cy="285" r="2.0"/><circle cx="556" cy="324" r="1.9"/><circle cx="534" cy="353" r="1.3"/><circle cx="557" cy="330" r="1.5"/><circle cx="332" cy="321" r="1.2"/><circle cx="304" cy="254" r="1.3"/><circle cx="332" cy="314" r="1.9"/><circle cx="539" cy="235" r="1.5"/><circle cx="540" cy="278" r="1.9"/><circle cx="456" cy="323" r="1.5"/><circle cx="340" cy="391" r="1.5"/><circle cx="537" cy="371" r="1.8"/><circle cx="408" cy="332" r="1.4"/><circle cx="357" cy="311" r="1.3"/><circle cx="490" cy="355" r="1.6"/><circle cx="472" cy="421" r="1.2"/><circle cx="412" cy="272" r="1.6"/><circle cx="514" cy="426" r="1.3"/><circle cx="363" cy="294" r="1.2"/><circle cx="427" cy="262" r="1.9"/><circle cx="524" cy="264" r="1.2"/><circle cx="465" cy="369" r="1.8"/><circle cx="559" cy="338" r="1.3"/><circle cx="378" cy="355" r="1.6"/></g><g fill="#f6a0d0" opacity="1.00"><circle cx="431" cy="299" r="1.2"/><circle cx="275" cy="258" r="1.5"/><circle cx="266" cy="266" r="1.6"/><circle cx="390" cy="418" r="1.9"/><circle cx="422" cy="346" r="1.6"/><circle cx="469" cy="226" r="1.3"/><circle cx="531" cy="390" r="1.7"/><circle cx="540" cy="227" r="1.6"/><circle cx="426" cy="339" r="1.8"/><circle cx="532" cy="344" r="1.9"/><circle cx="464" cy="422" r="1.2"/><circle cx="404" cy="227" r="1.7"/><circle cx="382" cy="229" r="1.5"/><circle cx="420" cy="320" r="1.2"/><circle cx="471" cy="279" r="1.8"/><circle cx="501" cy="288" r="1.5"/><circle cx="340" cy="230" r="1.4"/><circle cx="510" cy="415" r="1.7"/><circle cx="560" cy="403" r="1.6"/><circle cx="482" cy="407" r="1.2"/><circle cx="336" cy="347" r="1.7"/><circle cx="502" cy="425" r="1.2"/><circle cx="377" cy="294" r="1.7"/><circle cx="454" cy="330" r="2.0"/><circle cx="470" cy="382" r="1.5"/><circle cx="522" cy="277" r="1.7"/><circle cx="323" cy="317" r="1.3"/><circle cx="549" cy="367" r="1.7"/><circle cx="484" cy="397" r="1.4"/><circle cx="438" cy="285" r="1.7"/><circle cx="548" cy="362" r="1.7"/><circle cx="497" cy="419" r="1.5"/><circle cx="507" cy="373" r="1.4"/><circle cx="430" cy="245" r="1.8"/><circle cx="473" cy="412" r="1.2"/><circle cx="335" cy="243" r="1.8"/><circle cx="397" cy="326" r="2.0"/><circle cx="432" cy="354" r="1.9"/><circle cx="276" cy="277" r="1.9"/><circle cx="510" cy="286" r="1.4"/><circle cx="320" cy="404" r="1.8"/><circle cx="355" cy="342" r="1.6"/><circle cx="465" cy="222" r="1.6"/><circle cx="356" cy="224" r="1.6"/><circle cx="276" cy="414" r="1.9"/><circle cx="285" cy="340" r="1.7"/></g></g></g>
<path d="M346.0,261.0 C349.7,260.8 355.0,262.2 358.0,264.0 C361.0,265.8 363.0,269.3 364.0,272.0 C365.0,274.7 364.7,277.3 364.0,280.0 C363.3,282.7 362.3,284.7 360.0,288.0 C357.7,291.3 353.7,296.0 350.0,300.0 C346.3,304.0 341.7,308.0 338.0,312.0 C334.3,316.0 331.0,320.3 328.0,324.0 C325.0,327.7 322.5,330.8 320.0,334.0 C317.5,337.2 314.8,339.7 313.0,343.0 C311.2,346.3 310.2,350.2 309.5,354.0 C308.8,357.8 308.5,362.0 308.5,366.0 C308.5,370.0 309.9,374.3 309.5,378.0 C309.1,381.7 307.8,385.7 306.0,388.0 C304.2,390.3 300.5,393.3 299.0,392.0 C297.5,390.7 297.4,385.3 297.0,380.0 C296.6,374.7 296.6,365.8 296.5,360.0 C296.4,354.2 296.4,350.0 296.5,345.0 C296.6,340.0 296.8,334.5 297.0,330.0 C297.2,325.5 297.2,321.8 297.5,318.0 C297.8,314.2 298.1,310.3 299.0,307.0 C299.9,303.7 301.5,300.8 303.0,298.0 C304.5,295.2 306.0,292.8 308.0,290.0 C310.0,287.2 312.2,284.0 315.0,281.0 C317.8,278.0 321.5,274.7 325.0,272.0 C328.5,269.3 332.5,266.8 336.0,265.0 C339.5,263.2 342.3,261.2 346.0,261.0 Z" fill="#f2d48b" stroke="#d9a552" stroke-width="1"/>
<path d="M297.8,374 L308.6,374 L309.6,380 L306,389 L300,394 L296,394 Z" fill="#f2d48b"/>
<clipPath id="holeclip"><path d="M354.0,274.0 C354.0,274.0 346.0,274.3 342.0,275.5 C338.0,276.7 333.7,278.6 330.0,281.0 C326.3,283.4 323.0,286.8 320.0,290.0 C317.0,293.2 314.2,296.7 312.0,300.0 C309.8,303.3 308.0,306.7 307.0,310.0 C306.0,313.3 306.0,317.0 306.0,320.0 C306.0,323.0 305.8,326.5 307.0,328.0 C308.2,329.5 310.3,330.3 313.0,329.0 C315.7,327.7 319.7,323.8 323.0,320.0 C326.3,316.2 329.7,310.5 333.0,306.0 C336.3,301.5 339.8,296.8 343.0,293.0 C346.2,289.2 349.9,285.7 352.0,283.0 C354.1,280.3 355.2,278.5 355.5,277.0 C355.8,275.5 354.0,274.0 354.0,274.0 Z"/></clipPath>
<path d="M354.0,274.0 C354.0,274.0 346.0,274.3 342.0,275.5 C338.0,276.7 333.7,278.6 330.0,281.0 C326.3,283.4 323.0,286.8 320.0,290.0 C317.0,293.2 314.2,296.7 312.0,300.0 C309.8,303.3 308.0,306.7 307.0,310.0 C306.0,313.3 306.0,317.0 306.0,320.0 C306.0,323.0 305.8,326.5 307.0,328.0 C308.2,329.5 310.3,330.3 313.0,329.0 C315.7,327.7 319.7,323.8 323.0,320.0 C326.3,316.2 329.7,310.5 333.0,306.0 C336.3,301.5 339.8,296.8 343.0,293.0 C346.2,289.2 349.9,285.7 352.0,283.0 C354.1,280.3 355.2,278.5 355.5,277.0 C355.8,275.5 354.0,274.0 354.0,274.0 Z" fill="#8e5218"/>
<g clip-path="url(#holeclip)"><path d="M354.0,274.0 C354.0,274.0 346.0,274.3 342.0,275.5 C338.0,276.7 333.7,278.6 330.0,281.0 C326.3,283.4 323.0,286.8 320.0,290.0 C317.0,293.2 314.2,296.7 312.0,300.0 C309.8,303.3 308.0,306.7 307.0,310.0 C306.0,313.3 306.0,317.0 306.0,320.0 C306.0,323.0 305.8,326.5 307.0,328.0 C308.2,329.5 310.3,330.3 313.0,329.0 C315.7,327.7 319.7,323.8 323.0,320.0 C326.3,316.2 329.7,310.5 333.0,306.0 C336.3,301.5 339.8,296.8 343.0,293.0 C346.2,289.2 349.9,285.7 352.0,283.0 C354.1,280.3 355.2,278.5 355.5,277.0 C355.8,275.5 354.0,274.0 354.0,274.0 Z" fill="#fff" transform="translate(3,2.5)"/></g>
<path d="M384.6,286.0 C384.4,283.3 385.4,279.9 387.0,278.0 C388.6,276.1 391.7,274.8 394.0,274.5 C396.3,274.2 398.9,275.1 401.0,276.0 C403.1,276.9 406.5,280.0 406.5,280.0 C406.5,280.0 409.8,276.9 412.0,276.0 C414.2,275.1 417.3,274.0 420.0,274.5 C422.7,275.0 426.2,276.8 428.0,279.0 C429.8,281.2 431.3,284.8 431.0,288.0 C430.7,291.2 429.2,294.5 426.0,298.0 C422.8,301.5 412.0,309.0 412.0,309.0 C412.0,309.0 401.0,303.5 397.0,301.0 C393.0,298.5 390.1,296.5 388.0,294.0 C385.9,291.5 384.8,288.7 384.6,286.0 Z" fill="#f8e8bc" stroke="#d9a552" stroke-width="0.8"/>
<path d="M393.0,287.0 C392.8,285.3 394.1,283.9 395.0,283.0 C395.9,282.1 397.2,281.5 398.5,281.5 C399.8,281.5 401.5,282.2 403.0,283.0 C404.5,283.8 407.5,286.5 407.5,286.5 C407.5,286.5 410.2,283.8 412.0,283.0 C413.8,282.2 416.9,281.3 418.5,281.5 C420.1,281.7 420.9,282.6 421.5,284.0 C422.1,285.4 422.6,288.0 422.0,290.0 C421.4,292.0 419.8,293.9 418.0,296.0 C416.2,298.1 411.0,302.5 411.0,302.5 C411.0,302.5 405.5,299.6 403.0,298.0 C400.5,296.4 397.7,294.8 396.0,293.0 C394.3,291.2 393.2,288.7 393.0,287.0 Z" fill="#ee9850" stroke="#c87a38" stroke-width="1"/>
<path d="M382.0,333.5 C381.8,330.7 382.4,327.1 384.0,325.0 C385.6,322.9 389.0,321.6 391.3,321.2 C393.6,320.8 395.8,321.6 398.0,322.5 C400.2,323.4 404.3,326.5 404.3,326.5 C404.3,326.5 407.7,323.3 410.0,322.5 C412.3,321.7 415.2,321.2 418.0,321.8 C420.8,322.4 424.8,323.6 427.0,326.0 C429.2,328.4 431.2,332.7 431.0,336.0 C430.8,339.3 430.4,342.0 426.0,346.0 C421.6,350.0 404.5,360.0 404.5,360.0 C404.5,360.0 395.2,353.0 392.0,350.0 C388.8,347.0 386.7,344.8 385.0,342.0 C383.3,339.2 382.2,336.3 382.0,333.5 Z" fill="#f8e8bc" stroke="#d9a552" stroke-width="0.8"/>
<path d="M389.2,335.0 C389.1,333.4 389.7,331.6 390.5,330.5 C391.3,329.4 392.6,328.7 394.0,328.5 C395.4,328.3 397.4,328.8 399.0,329.5 C400.6,330.2 403.5,332.5 403.5,332.5 C403.5,332.5 406.9,329.8 409.0,329.0 C411.1,328.2 414.1,327.8 416.0,328.0 C417.9,328.2 419.5,329.0 420.5,330.5 C421.5,332.0 422.4,334.8 422.0,337.0 C421.6,339.2 420.8,341.4 418.0,344.0 C415.2,346.6 405.0,352.5 405.0,352.5 C405.0,352.5 398.3,348.1 396.0,346.0 C393.7,343.9 392.1,341.8 391.0,340.0 C389.9,338.2 389.3,336.6 389.2,335.0 Z" fill="#ee9850" stroke="#c87a38" stroke-width="1"/>
<path d="M373.8,395.0 C376.2,391.3 380.3,389.7 384.0,388.0 C387.7,386.3 389.8,385.6 396.0,385.0 C402.2,384.4 414.3,384.0 421.0,384.4 C427.7,384.8 431.8,385.9 436.0,387.5 C440.2,389.1 443.0,391.3 446.0,393.8 C449.0,396.2 452.5,399.3 454.0,402.0 C455.5,404.7 456.0,406.8 455.0,410.0 C454.0,413.2 450.9,417.2 448.0,421.0 C445.1,424.8 441.3,429.0 437.5,432.5 C433.7,436.0 428.8,439.5 425.0,442.0 C421.2,444.5 418.3,446.8 415.0,447.5 C411.7,448.2 408.2,447.2 405.0,446.0 C401.8,444.8 398.5,442.2 396.0,440.0 C393.5,437.8 393.0,435.7 390.0,432.5 C387.0,429.3 381.5,424.8 378.0,421.0 C374.5,417.2 369.7,414.3 369.0,410.0 C368.3,405.7 371.2,398.7 373.8,395.0 Z" fill="#f2d48b" stroke="#d9a552" stroke-width="1"/>
<path d="M378.8,402.5 C380.2,400.3 383.1,397.6 386.0,396.0 C388.9,394.4 390.2,393.5 396.0,393.0 C401.8,392.5 414.8,392.7 421.0,393.0 C427.2,393.3 429.8,394.0 433.0,395.0 C436.2,396.0 437.8,396.9 440.0,398.8 C442.2,400.6 445.3,403.5 446.0,406.0 C446.7,408.5 446.5,410.4 444.0,414.0 C441.5,417.6 435.0,423.8 431.0,427.5 C427.0,431.2 422.9,433.9 420.0,436.0 C417.1,438.1 416.1,439.6 413.8,440.0 C411.4,440.4 408.3,439.5 406.0,438.5 C403.7,437.5 402.7,436.2 400.0,434.0 C397.3,431.8 393.3,428.1 390.0,425.0 C386.7,421.9 382.2,418.2 380.0,415.5 C377.8,412.8 377.2,411.2 377.0,409.0 C376.8,406.8 377.2,404.7 378.8,402.5 Z" fill="#fff"/>
<path d="M352.0,583.0 C349.3,584.8 350.8,588.0 349.0,591.0 C347.2,594.0 341.7,597.7 341.0,601.0 C340.3,604.3 344.5,608.3 345.0,611.0 C345.5,613.7 343.8,614.7 344.0,617.0 C344.2,619.3 344.7,620.8 346.0,625.0 C347.3,629.2 343.0,637.5 352.0,642.0 C361.0,646.5 387.8,650.3 400.0,652.0 C412.2,653.7 412.5,653.7 425.0,652.0 C437.5,650.3 465.8,646.5 475.0,642.0 C484.2,637.5 479.0,629.2 480.0,625.0 C481.0,620.8 481.0,619.3 481.0,617.0 C481.0,614.7 479.5,613.3 480.0,611.0 C480.5,608.7 484.7,606.2 484.0,603.0 C483.3,599.8 478.3,595.3 476.0,592.0 C473.7,588.7 472.7,585.0 470.0,583.0 C467.3,581.0 465.0,578.5 460.0,580.0 C455.0,581.5 447.8,587.3 440.0,592.0 C432.2,596.7 422.2,607.3 413.0,608.0 C403.8,608.7 393.0,600.7 385.0,596.0 C377.0,591.3 370.5,582.2 365.0,580.0 C359.5,577.8 354.7,581.2 352.0,583.0 Z" fill="#c0101c"/>
<g clip-path="url(#redclip)"><g filter="url(#blur2)"><g fill="#dc1c2a" opacity="0.50"><circle cx="483" cy="650" r="2.2"/><circle cx="404" cy="582" r="2.1"/><circle cx="414" cy="655" r="4.0"/><circle cx="390" cy="653" r="4.9"/><circle cx="397" cy="629" r="4.0"/><circle cx="476" cy="574" r="4.2"/><circle cx="343" cy="614" r="4.0"/><circle cx="356" cy="582" r="4.5"/><circle cx="339" cy="567" r="2.2"/><circle cx="338" cy="581" r="4.4"/><circle cx="433" cy="606" r="5.0"/><circle cx="418" cy="593" r="4.1"/><circle cx="402" cy="606" r="3.7"/><circle cx="351" cy="575" r="4.3"/><circle cx="347" cy="640" r="3.9"/><circle cx="420" cy="625" r="4.1"/><circle cx="435" cy="568" r="2.9"/><circle cx="419" cy="650" r="4.3"/><circle cx="374" cy="606" r="2.5"/><circle cx="374" cy="612" r="3.4"/><circle cx="406" cy="643" r="3.4"/><circle cx="394" cy="601" r="2.9"/><circle cx="367" cy="623" r="3.5"/><circle cx="482" cy="611" r="3.6"/><circle cx="368" cy="582" r="2.5"/><circle cx="452" cy="640" r="2.6"/><circle cx="483" cy="590" r="3.4"/><circle cx="394" cy="652" r="2.3"/><circle cx="387" cy="592" r="4.3"/><circle cx="470" cy="609" r="3.9"/><circle cx="399" cy="607" r="2.1"/><circle cx="347" cy="586" r="4.4"/><circle cx="349" cy="652" r="3.9"/><circle cx="413" cy="561" r="2.6"/><circle cx="416" cy="623" r="4.6"/></g><g fill="#e82a38" opacity="0.50"><circle cx="361" cy="636" r="4.6"/><circle cx="429" cy="613" r="2.5"/><circle cx="460" cy="641" r="3.5"/><circle cx="404" cy="596" r="3.6"/><circle cx="478" cy="605" r="4.5"/><circle cx="447" cy="604" r="2.7"/><circle cx="464" cy="643" r="3.8"/><circle cx="430" cy="596" r="4.2"/><circle cx="480" cy="617" r="2.2"/><circle cx="408" cy="578" r="4.0"/><circle cx="396" cy="606" r="2.4"/><circle cx="371" cy="577" r="3.6"/><circle cx="452" cy="574" r="3.7"/><circle cx="380" cy="651" r="2.4"/><circle cx="417" cy="603" r="4.9"/><circle cx="465" cy="585" r="2.7"/><circle cx="407" cy="627" r="4.4"/><circle cx="363" cy="606" r="3.4"/><circle cx="448" cy="596" r="3.9"/><circle cx="384" cy="607" r="4.7"/><circle cx="395" cy="577" r="4.9"/><circle cx="389" cy="631" r="4.8"/><circle cx="407" cy="555" r="2.1"/><circle cx="418" cy="646" r="2.2"/><circle cx="435" cy="635" r="4.0"/><circle cx="390" cy="588" r="3.1"/><circle cx="380" cy="644" r="4.8"/><circle cx="371" cy="636" r="3.9"/><circle cx="480" cy="630" r="4.9"/><circle cx="357" cy="575" r="2.8"/><circle cx="396" cy="655" r="3.2"/><circle cx="439" cy="577" r="2.1"/></g><g fill="#8c0612" opacity="0.25"><circle cx="479" cy="646" r="3.3"/><circle cx="371" cy="599" r="2.8"/><circle cx="336" cy="557" r="2.9"/><circle cx="462" cy="565" r="3.1"/><circle cx="386" cy="630" r="4.0"/><circle cx="396" cy="648" r="3.6"/></g><g fill="#dc1c2a" opacity="0.25"><circle cx="363" cy="578" r="2.5"/><circle cx="446" cy="558" r="3.1"/><circle cx="416" cy="555" r="3.8"/><circle cx="439" cy="580" r="2.4"/><circle cx="414" cy="564" r="2.3"/><circle cx="432" cy="638" r="4.2"/><circle cx="409" cy="561" r="2.4"/></g><g fill="#8c0612" opacity="0.50"><circle cx="405" cy="645" r="3.1"/><circle cx="483" cy="626" r="3.5"/><circle cx="341" cy="589" r="3.8"/><circle cx="379" cy="604" r="2.9"/><circle cx="450" cy="645" r="4.3"/><circle cx="339" cy="634" r="4.8"/><circle cx="429" cy="597" r="2.1"/><circle cx="458" cy="617" r="3.1"/><circle cx="479" cy="613" r="4.8"/><circle cx="392" cy="607" r="4.8"/><circle cx="442" cy="648" r="2.9"/><circle cx="344" cy="619" r="3.4"/><circle cx="339" cy="621" r="4.3"/><circle cx="400" cy="562" r="2.3"/><circle cx="444" cy="595" r="5.0"/><circle cx="431" cy="595" r="4.0"/><circle cx="461" cy="557" r="4.8"/><circle cx="454" cy="575" r="4.2"/><circle cx="411" cy="616" r="2.0"/><circle cx="453" cy="590" r="4.7"/><circle cx="437" cy="630" r="3.5"/><circle cx="478" cy="606" r="2.6"/><circle cx="451" cy="583" r="4.2"/><circle cx="442" cy="650" r="4.2"/><circle cx="385" cy="638" r="3.8"/><circle cx="349" cy="574" r="4.1"/><circle cx="416" cy="640" r="3.0"/><circle cx="418" cy="653" r="5.0"/><circle cx="427" cy="567" r="4.8"/><circle cx="343" cy="577" r="3.1"/></g><g fill="#e82a38" opacity="0.25"><circle cx="417" cy="555" r="2.1"/><circle cx="357" cy="589" r="4.7"/><circle cx="472" cy="588" r="2.5"/><circle cx="467" cy="635" r="3.9"/><circle cx="352" cy="637" r="3.1"/><circle cx="434" cy="562" r="2.9"/><circle cx="477" cy="643" r="4.3"/><circle cx="434" cy="570" r="2.9"/><circle cx="363" cy="561" r="3.3"/><circle cx="335" cy="609" r="2.7"/></g></g><g filter="url(#blur05)"><g fill="#f04450" opacity="0.50"><circle cx="484" cy="569" r="0.8"/><circle cx="427" cy="609" r="1.1"/><circle cx="489" cy="591" r="1.1"/><circle cx="474" cy="572" r="1.2"/><circle cx="399" cy="638" r="1.5"/><circle cx="423" cy="573" r="1.6"/><circle cx="371" cy="608" r="0.9"/><circle cx="459" cy="644" r="1.2"/><circle cx="353" cy="586" r="1.5"/><circle cx="399" cy="590" r="1.5"/><circle cx="353" cy="603" r="1.4"/><circle cx="485" cy="581" r="1.3"/><circle cx="383" cy="621" r="1.4"/><circle cx="337" cy="645" r="1.4"/><circle cx="430" cy="624" r="0.9"/><circle cx="370" cy="618" r="0.9"/><circle cx="376" cy="587" r="0.9"/><circle cx="390" cy="607" r="1.2"/><circle cx="486" cy="600" r="1.4"/><circle cx="488" cy="637" r="1.3"/><circle cx="411" cy="627" r="1.0"/><circle cx="442" cy="588" r="1.1"/></g><g fill="#e8303c" opacity="0.50"><circle cx="354" cy="620" r="1.1"/><circle cx="477" cy="586" r="1.1"/><circle cx="465" cy="575" r="1.0"/><circle cx="458" cy="620" r="1.0"/><circle cx="352" cy="636" r="1.0"/><circle cx="397" cy="567" r="1.5"/><circle cx="486" cy="624" r="1.4"/><circle cx="387" cy="560" r="1.2"/><circle cx="338" cy="650" r="1.3"/><circle cx="436" cy="587" r="1.0"/><circle cx="463" cy="581" r="1.5"/><circle cx="370" cy="597" r="0.9"/><circle cx="399" cy="623" r="1.4"/><circle cx="421" cy="605" r="1.0"/><circle cx="450" cy="604" r="1.6"/><circle cx="343" cy="581" r="1.1"/><circle cx="354" cy="651" r="1.2"/><circle cx="360" cy="643" r="0.8"/><circle cx="443" cy="645" r="1.1"/><circle cx="374" cy="614" r="1.2"/><circle cx="409" cy="646" r="1.4"/><circle cx="435" cy="622" r="1.5"/></g><g fill="#f04450" opacity="0.75"><circle cx="484" cy="587" r="1.3"/><circle cx="343" cy="643" r="1.3"/><circle cx="430" cy="581" r="1.6"/><circle cx="470" cy="651" r="1.2"/><circle cx="374" cy="583" r="1.5"/><circle cx="390" cy="567" r="1.0"/><circle cx="346" cy="557" r="1.4"/><circle cx="433" cy="560" r="1.4"/><circle cx="412" cy="615" r="0.8"/><circle cx="378" cy="632" r="1.0"/><circle cx="391" cy="650" r="0.8"/><circle cx="345" cy="573" r="1.2"/><circle cx="399" cy="617" r="1.4"/><circle cx="388" cy="593" r="1.5"/><circle cx="418" cy="594" r="1.2"/><circle cx="452" cy="563" r="1.3"/><circle cx="338" cy="647" r="1.3"/><circle cx="426" cy="575" r="1.4"/><circle cx="446" cy="633" r="1.3"/><circle cx="439" cy="624" r="1.2"/><circle cx="391" cy="556" r="1.2"/><circle cx="395" cy="562" r="1.3"/><circle cx="365" cy="597" r="1.3"/><circle cx="421" cy="652" r="0.9"/><circle cx="347" cy="645" r="1.0"/><circle cx="356" cy="632" r="1.6"/><circle cx="489" cy="617" r="1.3"/><circle cx="335" cy="627" r="1.3"/><circle cx="339" cy="586" r="1.4"/><circle cx="356" cy="654" r="0.8"/><circle cx="376" cy="591" r="0.9"/><circle cx="472" cy="592" r="1.5"/><circle cx="402" cy="564" r="1.1"/><circle cx="381" cy="583" r="0.9"/><circle cx="488" cy="615" r="1.3"/><circle cx="390" cy="578" r="1.1"/><circle cx="374" cy="647" r="0.8"/><circle cx="452" cy="594" r="1.6"/><circle cx="424" cy="561" r="1.4"/><circle cx="394" cy="595" r="0.9"/><circle cx="349" cy="636" r="1.4"/><circle cx="474" cy="604" r="1.1"/><circle cx="361" cy="603" r="0.9"/><circle cx="349" cy="581" r="1.5"/><circle cx="362" cy="605" r="1.4"/></g><g fill="#e8303c" opacity="0.75"><circle cx="363" cy="566" r="1.2"/><circle cx="438" cy="574" r="0.8"/><circle cx="476" cy="618" r="1.2"/><circle cx="413" cy="618" r="1.1"/><circle cx="394" cy="640" r="0.8"/><circle cx="374" cy="578" r="1.0"/><circle cx="466" cy="581" r="1.0"/><circle cx="365" cy="596" r="1.5"/><circle cx="437" cy="574" r="0.9"/><circle cx="440" cy="634" r="0.8"/><circle cx="476" cy="637" r="1.5"/><circle cx="370" cy="617" r="1.5"/><circle cx="378" cy="609" r="0.9"/><circle cx="421" cy="599" r="1.0"/><circle cx="379" cy="556" r="0.9"/><circle cx="417" cy="623" r="1.3"/><circle cx="372" cy="601" r="1.4"/><circle cx="429" cy="586" r="1.4"/><circle cx="414" cy="647" r="1.1"/><circle cx="387" cy="603" r="0.9"/><circle cx="376" cy="567" r="0.9"/><circle cx="425" cy="578" r="0.9"/><circle cx="387" cy="598" r="1.4"/><circle cx="475" cy="648" r="1.2"/><circle cx="418" cy="571" r="1.6"/><circle cx="380" cy="616" r="1.4"/><circle cx="490" cy="566" r="1.2"/><circle cx="368" cy="628" r="0.8"/><circle cx="485" cy="572" r="1.0"/><circle cx="484" cy="648" r="1.0"/><circle cx="464" cy="584" r="0.9"/><circle cx="385" cy="652" r="0.8"/><circle cx="412" cy="642" r="1.1"/><circle cx="485" cy="634" r="1.1"/><circle cx="373" cy="603" r="1.2"/><circle cx="448" cy="590" r="1.4"/><circle cx="482" cy="633" r="0.8"/><circle cx="407" cy="560" r="0.9"/><circle cx="449" cy="652" r="1.4"/><circle cx="460" cy="606" r="1.3"/><circle cx="383" cy="641" r="1.1"/><circle cx="469" cy="653" r="1.5"/><circle cx="362" cy="605" r="1.4"/><circle cx="379" cy="573" r="1.2"/><circle cx="389" cy="619" r="1.0"/><circle cx="363" cy="621" r="1.3"/><circle cx="467" cy="603" r="1.4"/><circle cx="467" cy="598" r="1.2"/><circle cx="404" cy="584" r="1.2"/><circle cx="447" cy="571" r="1.0"/><circle cx="392" cy="594" r="0.8"/></g><g fill="#f04450" opacity="1.00"><circle cx="354" cy="626" r="0.9"/><circle cx="450" cy="602" r="1.4"/><circle cx="436" cy="581" r="0.8"/><circle cx="483" cy="626" r="1.3"/></g><g fill="#e8303c" opacity="1.00"><circle cx="428" cy="625" r="0.9"/><circle cx="458" cy="605" r="1.2"/><circle cx="464" cy="600" r="0.9"/><circle cx="353" cy="590" r="0.9"/><circle cx="432" cy="618" r="1.5"/><circle cx="382" cy="608" r="1.4"/></g></g></g>
<path d="M352.0,583.0 C349.3,584.8 350.8,588.0 349.0,591.0 C347.2,594.0 341.7,597.7 341.0,601.0 C340.3,604.3 344.5,608.3 345.0,611.0 C345.5,613.7 343.8,614.7 344.0,617.0 C344.2,619.3 344.7,620.8 346.0,625.0 C347.3,629.2 343.0,637.5 352.0,642.0 C361.0,646.5 387.8,650.3 400.0,652.0 C412.2,653.7 412.5,653.7 425.0,652.0 C437.5,650.3 465.8,646.5 475.0,642.0 C484.2,637.5 479.0,629.2 480.0,625.0 C481.0,620.8 481.0,619.3 481.0,617.0 C481.0,614.7 479.5,613.3 480.0,611.0 C480.5,608.7 484.7,606.2 484.0,603.0 C483.3,599.8 478.3,595.3 476.0,592.0 C473.7,588.7 472.7,585.0 470.0,583.0 C467.3,581.0 465.0,578.5 460.0,580.0 C455.0,581.5 447.8,587.3 440.0,592.0 C432.2,596.7 422.2,607.3 413.0,608.0 C403.8,608.7 393.0,600.7 385.0,596.0 C377.0,591.3 370.5,582.2 365.0,580.0 C359.5,577.8 354.7,581.2 352.0,583.0 Z" fill="none" stroke="#f2d690" stroke-width="8" stroke-linejoin="round"/>
<rect x="395" y="651" width="36" height="15" fill="#eec671"/>
<ellipse cx="361.2" cy="653.8" rx="38.8" ry="28.8" fill="#eec671"/>
<ellipse cx="463.0" cy="653.8" rx="38.0" ry="28.8" fill="#eec671"/>
<ellipse cx="360.6" cy="653.0" rx="33.1" ry="23.0" fill="#de2c52" stroke="#a82030" stroke-width="1.2"/>
<clipPath id="fc0"><ellipse cx="360.6" cy="653.0" rx="33.1" ry="23.0"/></clipPath>
<g clip-path="url(#fc0)"><g filter="url(#blur2)"><g fill="#f07ab0" opacity="0.25"><circle cx="365" cy="650" r="3.9"/><circle cx="360" cy="643" r="4.5"/><circle cx="349" cy="641" r="4.9"/><circle cx="384" cy="658" r="3.5"/><circle cx="345" cy="638" r="3.3"/><circle cx="378" cy="675" r="4.9"/><circle cx="328" cy="636" r="4.9"/><circle cx="379" cy="641" r="4.2"/><circle cx="332" cy="657" r="4.6"/><circle cx="392" cy="641" r="2.6"/><circle cx="371" cy="655" r="4.6"/><circle cx="390" cy="672" r="2.9"/></g></g><g filter="url(#blur05)"><g fill="#ee6aa8" opacity="0.50"><circle cx="389" cy="648" r="1.5"/><circle cx="377" cy="635" r="1.2"/><circle cx="369" cy="654" r="1.1"/><circle cx="362" cy="669" r="1.2"/><circle cx="335" cy="645" r="1.5"/><circle cx="358" cy="666" r="0.8"/><circle cx="337" cy="633" r="0.9"/><circle cx="385" cy="659" r="1.3"/><circle cx="349" cy="633" r="1.2"/><circle cx="353" cy="632" r="1.1"/></g><g fill="#f28cc8" opacity="0.50"><circle cx="375" cy="659" r="1.4"/><circle cx="352" cy="653" r="1.6"/><circle cx="387" cy="661" r="0.9"/><circle cx="343" cy="651" r="1.5"/><circle cx="328" cy="642" r="0.9"/><circle cx="342" cy="653" r="1.1"/><circle cx="390" cy="650" r="1.5"/><circle cx="376" cy="663" r="1.3"/><circle cx="332" cy="645" r="1.2"/><circle cx="376" cy="643" r="1.0"/><circle cx="344" cy="649" r="1.4"/><circle cx="384" cy="668" r="1.5"/><circle cx="382" cy="637" r="1.3"/><circle cx="334" cy="669" r="1.1"/></g><g fill="#f28cc8" opacity="0.75"><circle cx="344" cy="644" r="1.0"/><circle cx="371" cy="635" r="1.3"/><circle cx="384" cy="643" r="1.2"/><circle cx="339" cy="641" r="1.3"/><circle cx="337" cy="664" r="0.8"/><circle cx="333" cy="635" r="1.3"/><circle cx="342" cy="653" r="1.0"/><circle cx="391" cy="636" r="0.9"/><circle cx="349" cy="654" r="1.5"/><circle cx="385" cy="635" r="0.8"/></g><g fill="#ee6aa8" opacity="0.75"><circle cx="333" cy="634" r="1.2"/><circle cx="335" cy="674" r="0.9"/><circle cx="339" cy="652" r="1.3"/><circle cx="350" cy="672" r="1.5"/><circle cx="351" cy="652" r="1.3"/><circle cx="342" cy="652" r="1.3"/></g></g><g fill="#f07ec0" opacity="0.75"><circle cx="364" cy="639" r="0.6"/><circle cx="389" cy="644" r="0.6"/><circle cx="358" cy="633" r="0.5"/><circle cx="338" cy="642" r="0.7"/><circle cx="387" cy="638" r="0.8"/><circle cx="372" cy="641" r="0.6"/><circle cx="342" cy="662" r="0.6"/></g><g fill="#f07ec0" opacity="0.50"><circle cx="387" cy="673" r="0.8"/><circle cx="390" cy="673" r="0.8"/><circle cx="368" cy="647" r="0.5"/><circle cx="333" cy="659" r="0.7"/><circle cx="364" cy="667" r="0.8"/><circle cx="368" cy="649" r="0.6"/><circle cx="387" cy="641" r="0.7"/><circle cx="350" cy="664" r="0.8"/><circle cx="389" cy="649" r="0.6"/><circle cx="366" cy="633" r="0.5"/><circle cx="367" cy="631" r="0.6"/><circle cx="369" cy="662" r="0.8"/><circle cx="392" cy="656" r="0.8"/><circle cx="358" cy="676" r="0.8"/><circle cx="375" cy="631" r="0.5"/></g><g fill="#ee6aa8" opacity="0.50"><circle cx="355" cy="664" r="0.8"/><circle cx="338" cy="637" r="0.7"/><circle cx="371" cy="668" r="0.8"/><circle cx="376" cy="649" r="0.5"/><circle cx="349" cy="651" r="0.7"/><circle cx="352" cy="632" r="0.8"/><circle cx="346" cy="657" r="0.6"/><circle cx="328" cy="665" r="0.7"/><circle cx="336" cy="646" r="0.8"/><circle cx="363" cy="641" r="0.6"/><circle cx="389" cy="641" r="0.5"/><circle cx="341" cy="669" r="0.6"/><circle cx="360" cy="674" r="0.7"/><circle cx="354" cy="638" r="0.8"/><circle cx="359" cy="636" r="0.7"/><circle cx="377" cy="660" r="0.6"/><circle cx="341" cy="655" r="0.8"/><circle cx="350" cy="668" r="0.6"/><circle cx="391" cy="653" r="0.6"/><circle cx="380" cy="668" r="0.6"/><circle cx="343" cy="673" r="0.8"/><circle cx="355" cy="644" r="0.5"/><circle cx="328" cy="664" r="0.7"/><circle cx="335" cy="641" r="0.8"/><circle cx="350" cy="655" r="0.8"/><circle cx="332" cy="672" r="0.7"/><circle cx="366" cy="644" r="0.6"/><circle cx="366" cy="673" r="0.7"/></g><g fill="#ea5a96" opacity="0.50"><circle cx="383" cy="645" r="0.5"/><circle cx="374" cy="668" r="0.8"/><circle cx="389" cy="652" r="0.8"/><circle cx="337" cy="649" r="0.7"/><circle cx="360" cy="651" r="0.7"/><circle cx="384" cy="651" r="0.8"/><circle cx="385" cy="633" r="0.8"/><circle cx="374" cy="641" r="0.7"/><circle cx="356" cy="640" r="0.8"/><circle cx="352" cy="669" r="0.8"/><circle cx="335" cy="676" r="0.7"/><circle cx="372" cy="637" r="0.8"/><circle cx="392" cy="657" r="0.7"/><circle cx="387" cy="664" r="0.7"/><circle cx="369" cy="633" r="0.6"/><circle cx="330" cy="636" r="0.8"/><circle cx="356" cy="651" r="0.5"/><circle cx="388" cy="655" r="0.5"/><circle cx="369" cy="636" r="0.7"/><circle cx="388" cy="634" r="0.6"/><circle cx="373" cy="639" r="0.8"/><circle cx="351" cy="668" r="0.6"/><circle cx="379" cy="638" r="0.6"/><circle cx="356" cy="666" r="0.8"/><circle cx="342" cy="631" r="0.6"/><circle cx="344" cy="636" r="0.6"/><circle cx="382" cy="630" r="0.8"/><circle cx="385" cy="636" r="0.8"/></g><g fill="#ee6aa8" opacity="0.75"><circle cx="360" cy="675" r="0.7"/><circle cx="340" cy="633" r="0.6"/><circle cx="374" cy="651" r="0.7"/></g><g fill="#ea5a96" opacity="0.75"><circle cx="341" cy="657" r="0.7"/><circle cx="332" cy="661" r="0.8"/><circle cx="393" cy="658" r="0.8"/><circle cx="339" cy="646" r="0.8"/><circle cx="380" cy="630" r="0.7"/><circle cx="382" cy="652" r="0.5"/></g><g fill="#f07ec0" opacity="0.25"><circle cx="387" cy="645" r="0.8"/><circle cx="329" cy="650" r="0.6"/><circle cx="344" cy="644" r="0.6"/></g><g fill="#ee6aa8" opacity="0.25"><circle cx="386" cy="671" r="0.7"/></g><g filter="url(#blur05)"><g fill="#fde8f2" opacity="1.00"><circle cx="353" cy="661" r="1.8"/><circle cx="393" cy="663" r="2.0"/></g><g fill="#f494c8" opacity="0.75"><circle cx="373" cy="660" r="1.4"/></g><g fill="#f8b0d8" opacity="0.75"><circle cx="372" cy="664" r="1.9"/><circle cx="346" cy="674" r="1.5"/></g><g fill="#f8b0d8" opacity="1.00"><circle cx="371" cy="673" r="1.5"/><circle cx="363" cy="674" r="1.9"/><circle cx="359" cy="672" r="1.8"/></g><g fill="#fcd0e8" opacity="1.00"><circle cx="348" cy="630" r="1.7"/><circle cx="363" cy="648" r="1.7"/></g><g fill="#fcd0e8" opacity="0.75"><circle cx="328" cy="631" r="1.8"/><circle cx="367" cy="656" r="1.3"/></g><g fill="#fde8f2" opacity="0.75"><circle cx="364" cy="646" r="1.6"/><circle cx="364" cy="672" r="1.7"/><circle cx="365" cy="633" r="1.2"/></g><g fill="#f494c8" opacity="1.00"><circle cx="378" cy="637" r="1.2"/></g></g></g>
<ellipse cx="463.8" cy="653.8" rx="33.8" ry="23.8" fill="#de2c52" stroke="#a82030" stroke-width="1.2"/>
<clipPath id="fc1"><ellipse cx="463.8" cy="653.8" rx="33.8" ry="23.8"/></clipPath>
<g clip-path="url(#fc1)"><g filter="url(#blur2)"><g fill="#f07ab0" opacity="0.25"><circle cx="461" cy="657" r="4.8"/><circle cx="488" cy="639" r="4.5"/><circle cx="484" cy="634" r="3.3"/><circle cx="490" cy="660" r="4.0"/><circle cx="474" cy="659" r="2.9"/><circle cx="434" cy="632" r="4.7"/><circle cx="452" cy="658" r="3.0"/><circle cx="464" cy="662" r="3.6"/><circle cx="467" cy="674" r="2.7"/><circle cx="446" cy="644" r="2.7"/><circle cx="487" cy="648" r="4.9"/><circle cx="493" cy="632" r="3.4"/></g></g><g filter="url(#blur05)"><g fill="#f28cc8" opacity="0.50"><circle cx="486" cy="640" r="1.6"/><circle cx="458" cy="669" r="1.3"/><circle cx="442" cy="652" r="1.5"/><circle cx="451" cy="666" r="1.0"/><circle cx="482" cy="670" r="1.2"/><circle cx="481" cy="653" r="1.6"/><circle cx="439" cy="670" r="1.4"/><circle cx="466" cy="643" r="1.5"/><circle cx="458" cy="643" r="1.2"/><circle cx="468" cy="661" r="1.5"/><circle cx="486" cy="655" r="1.3"/><circle cx="438" cy="673" r="1.3"/><circle cx="481" cy="657" r="1.2"/><circle cx="447" cy="651" r="1.2"/><circle cx="476" cy="674" r="1.4"/><circle cx="443" cy="665" r="1.2"/><circle cx="480" cy="664" r="1.0"/><circle cx="458" cy="660" r="1.1"/></g><g fill="#f28cc8" opacity="0.75"><circle cx="485" cy="664" r="1.4"/><circle cx="458" cy="654" r="1.3"/><circle cx="474" cy="644" r="1.6"/><circle cx="489" cy="631" r="1.0"/><circle cx="471" cy="641" r="0.9"/><circle cx="486" cy="645" r="1.3"/><circle cx="465" cy="631" r="1.3"/><circle cx="464" cy="648" r="1.2"/><circle cx="447" cy="662" r="1.3"/></g><g fill="#ee6aa8" opacity="0.50"><circle cx="489" cy="666" r="0.9"/><circle cx="482" cy="659" r="1.6"/><circle cx="495" cy="666" r="1.2"/><circle cx="431" cy="672" r="1.0"/><circle cx="469" cy="639" r="0.9"/></g><g fill="#ee6aa8" opacity="0.75"><circle cx="490" cy="646" r="1.5"/><circle cx="463" cy="653" r="1.5"/><circle cx="444" cy="663" r="1.5"/><circle cx="466" cy="658" r="1.3"/><circle cx="469" cy="676" r="1.6"/><circle cx="461" cy="671" r="1.4"/><circle cx="438" cy="650" r="1.0"/><circle cx="448" cy="644" r="0.9"/><circle cx="472" cy="643" r="0.8"/><circle cx="491" cy="631" r="1.2"/></g></g><g fill="#f07ec0" opacity="0.50"><circle cx="485" cy="642" r="0.5"/><circle cx="490" cy="643" r="0.5"/><circle cx="471" cy="642" r="0.6"/><circle cx="439" cy="677" r="0.7"/><circle cx="453" cy="631" r="0.6"/><circle cx="481" cy="641" r="0.5"/><circle cx="473" cy="631" r="0.6"/><circle cx="482" cy="632" r="0.5"/><circle cx="472" cy="655" r="0.6"/><circle cx="460" cy="660" r="0.6"/><circle cx="489" cy="666" r="0.7"/><circle cx="431" cy="659" r="0.8"/><circle cx="434" cy="673" r="0.8"/><circle cx="451" cy="673" r="0.7"/><circle cx="457" cy="643" r="0.5"/><circle cx="448" cy="669" r="0.6"/><circle cx="478" cy="657" r="0.8"/><circle cx="437" cy="635" r="0.8"/><circle cx="451" cy="653" r="0.5"/><circle cx="493" cy="656" r="0.7"/><circle cx="484" cy="644" r="0.5"/><circle cx="479" cy="656" r="0.5"/><circle cx="451" cy="677" r="0.5"/><circle cx="481" cy="671" r="0.7"/><circle cx="493" cy="653" r="0.8"/><circle cx="442" cy="677" r="0.6"/></g><g fill="#ea5a96" opacity="0.50"><circle cx="452" cy="645" r="0.7"/><circle cx="471" cy="631" r="0.5"/><circle cx="451" cy="674" r="0.8"/><circle cx="450" cy="668" r="0.8"/><circle cx="444" cy="669" r="0.6"/><circle cx="447" cy="654" r="0.5"/><circle cx="454" cy="667" r="0.8"/><circle cx="458" cy="663" r="0.5"/><circle cx="442" cy="665" r="0.6"/><circle cx="439" cy="643" r="0.6"/><circle cx="467" cy="675" r="0.5"/><circle cx="480" cy="651" r="0.7"/><circle cx="446" cy="632" r="0.8"/><circle cx="476" cy="659" r="0.6"/><circle cx="444" cy="662" r="0.6"/><circle cx="492" cy="654" r="0.6"/><circle cx="494" cy="659" r="0.8"/><circle cx="436" cy="651" r="0.5"/><circle cx="473" cy="650" r="0.6"/><circle cx="495" cy="638" r="0.5"/><circle cx="472" cy="675" r="0.5"/><circle cx="454" cy="640" r="0.6"/><circle cx="468" cy="668" r="0.5"/></g><g fill="#ee6aa8" opacity="0.50"><circle cx="492" cy="670" r="0.8"/><circle cx="483" cy="655" r="0.7"/><circle cx="477" cy="654" r="0.7"/><circle cx="456" cy="643" r="0.6"/><circle cx="452" cy="662" r="0.7"/><circle cx="459" cy="666" r="0.7"/><circle cx="443" cy="642" r="0.6"/><circle cx="437" cy="665" r="0.7"/><circle cx="474" cy="635" r="0.8"/><circle cx="448" cy="632" r="0.6"/><circle cx="431" cy="677" r="0.8"/><circle cx="488" cy="668" r="0.8"/><circle cx="433" cy="631" r="0.6"/><circle cx="487" cy="654" r="0.7"/><circle cx="436" cy="644" r="0.5"/><circle cx="460" cy="674" r="0.6"/><circle cx="461" cy="658" r="0.6"/><circle cx="457" cy="632" r="0.6"/><circle cx="486" cy="634" r="0.6"/><circle cx="469" cy="657" r="0.6"/><circle cx="456" cy="632" r="0.6"/><circle cx="468" cy="637" r="0.8"/><circle cx="470" cy="668" r="0.8"/></g><g fill="#ea5a96" opacity="0.75"><circle cx="492" cy="642" r="0.5"/><circle cx="478" cy="645" r="0.7"/><circle cx="474" cy="631" r="0.7"/><circle cx="490" cy="649" r="0.8"/><circle cx="443" cy="650" r="0.6"/><circle cx="461" cy="638" r="0.6"/><circle cx="458" cy="637" r="0.6"/><circle cx="464" cy="654" r="0.7"/></g><g fill="#ea5a96" opacity="0.25"><circle cx="436" cy="659" r="0.8"/><circle cx="438" cy="637" r="0.7"/><circle cx="478" cy="655" r="0.5"/><circle cx="487" cy="665" r="0.5"/></g><g fill="#f07ec0" opacity="0.75"><circle cx="485" cy="659" r="0.7"/><circle cx="434" cy="670" r="0.5"/><circle cx="461" cy="649" r="0.7"/><circle cx="473" cy="673" r="0.8"/></g><g fill="#ee6aa8" opacity="0.75"><circle cx="476" cy="660" r="0.7"/><circle cx="493" cy="677" r="0.6"/><circle cx="460" cy="677" r="0.8"/><circle cx="452" cy="666" r="0.7"/><circle cx="446" cy="643" r="0.7"/><circle cx="492" cy="664" r="0.6"/><circle cx="442" cy="672" r="0.8"/></g><g fill="#ee6aa8" opacity="0.25"><circle cx="464" cy="634" r="0.8"/></g><g filter="url(#blur05)"><g fill="#fcd0e8" opacity="1.00"><circle cx="468" cy="665" r="1.2"/><circle cx="477" cy="655" r="1.4"/></g><g fill="#fde8f2" opacity="1.00"><circle cx="469" cy="661" r="1.5"/><circle cx="463" cy="676" r="1.5"/></g><g fill="#f494c8" opacity="0.75"><circle cx="485" cy="670" r="1.7"/><circle cx="476" cy="659" r="1.8"/><circle cx="430" cy="666" r="1.9"/></g><g fill="#f494c8" opacity="1.00"><circle cx="491" cy="636" r="1.4"/><circle cx="430" cy="654" r="1.4"/><circle cx="473" cy="647" r="1.6"/></g><g fill="#fde8f2" opacity="0.75"><circle cx="473" cy="655" r="1.3"/><circle cx="481" cy="646" r="1.4"/></g><g fill="#fcd0e8" opacity="0.75"><circle cx="435" cy="648" r="1.5"/><circle cx="466" cy="646" r="1.4"/></g><g fill="#f8b0d8" opacity="0.75"><circle cx="458" cy="644" r="1.6"/><circle cx="480" cy="651" r="1.7"/><circle cx="463" cy="640" r="1.9"/></g></g></g>
<path d="M281.5,630.0 C281.5,630.0 278.9,639.5 277.0,643.0 C275.1,646.5 272.4,648.0 270.0,651.0 C267.6,654.0 264.8,658.0 262.5,661.0 C260.2,664.0 257.7,666.5 256.3,668.8 C255.0,671.1 254.2,673.1 254.4,675.0 C254.6,676.9 255.6,678.5 257.5,680.0 C259.4,681.5 262.2,683.0 265.6,683.8 C269.0,684.6 273.8,684.9 278.0,685.0 C282.2,685.1 286.9,684.7 290.6,684.4 C294.3,684.1 295.5,684.0 300.0,683.0 C304.5,682.0 313.8,679.9 317.5,678.4 C321.2,676.9 320.1,674.4 322.0,674.0 C323.9,673.6 325.7,674.9 328.7,676.0 C331.7,677.1 340.0,680.6 340.0,680.6 C340.0,680.6 326.5,659.0 326.5,659.0 C326.5,659.0 323.4,662.2 321.0,663.7 C318.6,665.2 315.5,666.6 312.0,668.0 C308.5,669.4 304.6,670.8 300.0,672.0 C295.4,673.2 289.1,674.5 284.4,675.0 C279.7,675.5 275.2,675.5 271.9,675.0 C268.6,674.5 265.8,673.2 264.4,672.0 C263.0,670.8 263.1,669.4 263.8,667.5 C264.5,665.6 266.2,663.5 268.8,660.6 C271.4,657.7 276.9,652.6 279.4,650.0 C281.9,647.4 282.6,648.3 283.7,645.0 C284.8,641.7 286.0,630.0 286.0,630.0 C286.0,630.0 281.5,630.0 281.5,630.0 Z" fill="#eec671"/>
<path d="M536.3,615.0 C536.3,615.0 538.8,621.3 540.0,624.4 C541.2,627.5 542.3,629.6 543.8,633.8 C545.3,638.0 546.9,645.4 548.8,649.4 C550.7,653.4 552.6,655.1 555.0,657.5 C557.4,659.9 560.8,661.9 563.1,663.8 C565.4,665.7 567.6,667.3 568.8,668.8 C569.9,670.3 570.2,671.5 570.0,673.0 C569.8,674.5 569.0,676.1 567.5,677.5 C566.0,678.9 564.4,680.2 561.3,681.3 C558.2,682.3 553.0,683.4 548.8,683.8 C544.6,684.2 541.1,684.0 536.3,683.8 C531.5,683.6 524.8,683.1 520.0,682.5 C515.2,681.9 511.7,680.2 507.5,680.0 C503.3,679.8 495.0,681.0 495.0,681.0 C495.0,681.0 497.0,660.0 497.0,660.0 C497.0,660.0 502.2,662.2 505.0,664.0 C507.8,665.8 509.8,669.1 514.0,671.0 C518.2,672.9 525.2,674.6 530.0,675.6 C534.8,676.6 538.9,676.8 542.5,676.9 C546.1,677.0 549.8,677.0 551.9,676.3 C554.0,675.6 554.7,673.9 555.0,672.5 C555.3,671.1 554.8,669.9 553.8,668.1 C552.8,666.3 550.7,664.5 548.8,661.9 C546.9,659.3 544.3,656.1 542.5,652.5 C540.7,648.9 539.3,644.1 538.0,640.0 C536.7,635.9 535.6,632.2 534.5,628.0 C533.4,623.8 531.5,615.0 531.5,615.0 C531.5,615.0 536.3,615.0 536.3,615.0 Z" fill="#eec671"/>
<path d="M333.0,487.0 C335.7,480.0 337.5,480.4 341.0,478.0 C344.5,475.6 349.8,473.9 353.8,472.5 C357.8,471.1 361.2,470.3 365.0,469.8 C368.8,469.3 371.4,468.3 376.3,469.6 C381.2,470.9 389.9,475.1 394.3,477.5 C398.8,479.9 400.4,482.2 403.0,484.0 C405.6,485.8 407.7,488.5 410.0,488.5 C412.3,488.5 414.4,485.8 417.0,484.0 C419.6,482.2 422.7,479.4 425.9,477.5 C429.1,475.6 432.6,473.6 436.0,472.5 C439.4,471.4 442.3,471.1 446.0,470.8 C449.7,470.5 454.2,470.6 458.0,470.8 C461.8,471.0 465.1,471.0 468.6,471.9 C472.1,472.8 475.8,473.8 479.0,476.0 C482.2,478.2 485.2,477.7 488.0,485.0 C490.8,492.3 499.0,505.0 496.0,520.0 C493.0,535.0 475.5,564.7 470.0,575.0 C464.5,585.3 468.2,577.5 463.0,582.0 C457.8,586.5 447.3,596.7 439.0,602.0 C430.7,607.3 413.0,614.0 413.0,614.0 C413.0,614.0 394.0,606.3 385.0,600.0 C376.0,593.7 369.0,589.3 359.0,576.0 C349.0,562.7 329.3,534.8 325.0,520.0 C320.7,505.2 330.3,494.0 333.0,487.0 Z" fill="#f0cd7e"/>
<path d="M337.0,493.0 C337.7,487.2 341.2,487.2 344.0,485.0 C346.8,482.8 350.3,480.9 353.8,479.5 C357.3,478.1 361.2,477.0 365.0,476.5 C368.8,476.0 371.4,475.3 376.3,476.4 C381.2,477.5 389.9,481.0 394.3,483.2 C398.8,485.4 400.4,487.7 403.0,489.5 C405.6,491.3 407.7,494.0 410.0,494.0 C412.3,494.0 414.4,491.3 417.0,489.5 C419.6,487.7 422.7,484.9 425.9,483.2 C429.1,481.4 432.6,479.9 436.0,479.0 C439.4,478.1 442.3,477.8 446.0,477.5 C449.7,477.2 454.2,477.3 458.0,477.5 C461.8,477.7 465.1,477.7 468.6,478.6 C472.1,479.5 475.8,480.4 479.0,483.0 C482.2,485.6 487.8,484.5 488.0,494.0 C488.2,503.5 484.5,526.7 480.0,540.0 C475.5,553.3 466.2,566.3 461.0,574.0 C455.8,581.7 454.0,582.0 449.0,586.0 C444.0,590.0 437.0,594.6 431.0,598.0 C425.0,601.4 413.0,606.5 413.0,606.5 C413.0,606.5 401.3,601.8 395.0,598.0 C388.7,594.2 379.7,588.7 375.0,584.0 C370.3,579.3 372.8,580.7 367.0,570.0 C361.2,559.3 345.0,532.8 340.0,520.0 C335.0,507.2 336.3,498.8 337.0,493.0 Z" fill="#dc2a50" stroke="#a82030" stroke-width="1.4"/>
<g clip-path="url(#heartclip)"><g filter="url(#blur2)"><g fill="#f07ab0" opacity="0.25"><circle cx="369" cy="544" r="3.4"/><circle cx="341" cy="467" r="4.6"/><circle cx="362" cy="569" r="3.9"/><circle cx="472" cy="499" r="2.9"/><circle cx="441" cy="474" r="4.4"/><circle cx="335" cy="591" r="3.7"/><circle cx="482" cy="522" r="4.5"/><circle cx="352" cy="518" r="2.6"/><circle cx="489" cy="528" r="4.1"/><circle cx="468" cy="548" r="3.8"/><circle cx="479" cy="564" r="4.8"/><circle cx="441" cy="489" r="4.7"/><circle cx="365" cy="586" r="3.9"/><circle cx="410" cy="558" r="3.7"/><circle cx="398" cy="487" r="3.2"/><circle cx="337" cy="554" r="2.6"/><circle cx="482" cy="505" r="3.1"/><circle cx="343" cy="552" r="2.6"/><circle cx="378" cy="503" r="4.2"/><circle cx="488" cy="595" r="3.4"/><circle cx="394" cy="591" r="4.2"/><circle cx="485" cy="539" r="3.6"/><circle cx="402" cy="502" r="3.3"/><circle cx="399" cy="549" r="2.6"/><circle cx="434" cy="533" r="4.2"/><circle cx="376" cy="536" r="4.0"/><circle cx="371" cy="531" r="4.0"/><circle cx="361" cy="575" r="4.6"/><circle cx="392" cy="577" r="2.6"/><circle cx="367" cy="582" r="3.1"/><circle cx="437" cy="479" r="4.0"/><circle cx="367" cy="582" r="4.9"/><circle cx="437" cy="593" r="3.6"/><circle cx="336" cy="604" r="3.3"/><circle cx="386" cy="585" r="2.7"/><circle cx="400" cy="540" r="4.6"/><circle cx="399" cy="526" r="3.5"/><circle cx="331" cy="602" r="4.7"/><circle cx="493" cy="569" r="2.6"/><circle cx="439" cy="540" r="3.2"/><circle cx="472" cy="589" r="4.9"/><circle cx="337" cy="596" r="4.2"/><circle cx="478" cy="549" r="2.5"/><circle cx="379" cy="561" r="3.8"/><circle cx="481" cy="481" r="2.8"/><circle cx="340" cy="497" r="2.8"/><circle cx="461" cy="599" r="4.5"/><circle cx="424" cy="523" r="4.4"/><circle cx="417" cy="526" r="3.7"/><circle cx="458" cy="472" r="2.6"/><circle cx="471" cy="477" r="3.8"/><circle cx="342" cy="521" r="3.5"/><circle cx="362" cy="513" r="2.8"/><circle cx="393" cy="477" r="2.9"/><circle cx="437" cy="543" r="4.1"/><circle cx="401" cy="519" r="3.7"/><circle cx="445" cy="532" r="3.1"/><circle cx="342" cy="527" r="3.6"/><circle cx="392" cy="595" r="4.5"/><circle cx="444" cy="601" r="4.3"/><circle cx="451" cy="547" r="2.8"/><circle cx="369" cy="521" r="3.8"/><circle cx="392" cy="584" r="3.4"/><circle cx="349" cy="535" r="4.2"/><circle cx="462" cy="470" r="4.4"/><circle cx="454" cy="601" r="2.7"/><circle cx="360" cy="476" r="5.0"/><circle cx="446" cy="602" r="3.1"/><circle cx="422" cy="605" r="3.4"/><circle cx="398" cy="573" r="2.9"/><circle cx="396" cy="594" r="2.9"/><circle cx="481" cy="540" r="3.6"/><circle cx="454" cy="486" r="3.8"/><circle cx="419" cy="578" r="4.2"/><circle cx="426" cy="608" r="4.7"/><circle cx="409" cy="520" r="2.9"/><circle cx="410" cy="590" r="3.5"/><circle cx="364" cy="549" r="4.8"/><circle cx="449" cy="589" r="3.5"/><circle cx="368" cy="499" r="4.3"/><circle cx="471" cy="500" r="3.0"/><circle cx="433" cy="563" r="2.6"/><circle cx="337" cy="492" r="2.7"/><circle cx="374" cy="597" r="2.6"/><circle cx="441" cy="466" r="3.3"/><circle cx="343" cy="558" r="4.4"/><circle cx="420" cy="482" r="3.2"/><circle cx="476" cy="597" r="2.7"/><circle cx="391" cy="530" r="4.2"/><circle cx="486" cy="514" r="3.9"/><circle cx="414" cy="474" r="3.2"/><circle cx="450" cy="487" r="3.4"/><circle cx="484" cy="486" r="3.3"/><circle cx="437" cy="531" r="3.3"/><circle cx="348" cy="491" r="3.9"/></g></g><g filter="url(#blur05)"><g fill="#ee6aa8" opacity="0.75"><circle cx="492" cy="531" r="1.4"/><circle cx="474" cy="482" r="0.9"/><circle cx="491" cy="471" r="1.6"/><circle cx="350" cy="597" r="1.4"/><circle cx="337" cy="559" r="1.5"/><circle cx="433" cy="498" r="1.1"/><circle cx="393" cy="534" r="1.1"/><circle cx="384" cy="564" r="1.5"/><circle cx="385" cy="557" r="0.9"/><circle cx="392" cy="482" r="1.3"/><circle cx="353" cy="486" r="1.1"/><circle cx="362" cy="506" r="1.1"/><circle cx="374" cy="573" r="1.6"/><circle cx="429" cy="555" r="1.5"/><circle cx="450" cy="466" r="0.9"/><circle cx="427" cy="535" r="1.3"/><circle cx="407" cy="558" r="1.4"/><circle cx="342" cy="588" r="1.2"/><circle cx="413" cy="490" r="1.4"/><circle cx="339" cy="554" r="1.3"/><circle cx="365" cy="594" r="0.8"/><circle cx="331" cy="499" r="0.9"/><circle cx="481" cy="493" r="1.4"/><circle cx="400" cy="467" r="0.9"/><circle cx="349" cy="465" r="1.5"/><circle cx="487" cy="482" r="1.3"/><circle cx="367" cy="515" r="1.3"/><circle cx="469" cy="481" r="1.5"/><circle cx="392" cy="598" r="1.5"/><circle cx="335" cy="486" r="1.3"/><circle cx="467" cy="567" r="1.5"/><circle cx="440" cy="488" r="1.2"/><circle cx="357" cy="550" r="1.2"/><circle cx="428" cy="534" r="1.1"/><circle cx="428" cy="560" r="1.3"/><circle cx="406" cy="534" r="1.0"/><circle cx="362" cy="532" r="1.1"/><circle cx="415" cy="563" r="1.0"/><circle cx="422" cy="491" r="1.2"/><circle cx="397" cy="556" r="1.5"/><circle cx="451" cy="542" r="0.8"/><circle cx="388" cy="593" r="1.4"/><circle cx="446" cy="562" r="1.1"/><circle cx="447" cy="528" r="1.1"/><circle cx="391" cy="486" r="1.5"/><circle cx="396" cy="596" r="0.9"/><circle cx="334" cy="516" r="1.2"/><circle cx="438" cy="543" r="1.2"/><circle cx="427" cy="517" r="1.2"/><circle cx="441" cy="539" r="0.9"/><circle cx="347" cy="496" r="1.1"/><circle cx="411" cy="523" r="1.5"/><circle cx="424" cy="575" r="1.5"/><circle cx="404" cy="466" r="0.9"/><circle cx="386" cy="485" r="1.1"/><circle cx="346" cy="594" r="0.8"/><circle cx="441" cy="522" r="1.2"/><circle cx="464" cy="552" r="1.2"/><circle cx="333" cy="508" r="1.0"/><circle cx="348" cy="553" r="1.6"/><circle cx="448" cy="577" r="0.9"/><circle cx="414" cy="488" r="1.2"/><circle cx="439" cy="552" r="1.5"/><circle cx="480" cy="575" r="1.6"/><circle cx="428" cy="475" r="0.9"/><circle cx="464" cy="485" r="1.2"/><circle cx="388" cy="578" r="1.0"/><circle cx="414" cy="479" r="1.6"/><circle cx="340" cy="590" r="1.3"/><circle cx="423" cy="600" r="1.0"/><circle cx="397" cy="514" r="1.2"/><circle cx="372" cy="468" r="1.6"/><circle cx="464" cy="516" r="1.4"/></g><g fill="#f28cc8" opacity="0.75"><circle cx="481" cy="572" r="1.3"/><circle cx="426" cy="602" r="1.3"/><circle cx="464" cy="566" r="0.9"/><circle cx="393" cy="571" r="1.1"/><circle cx="461" cy="526" r="0.9"/><circle cx="482" cy="585" r="0.9"/><circle cx="463" cy="502" r="1.0"/><circle cx="398" cy="600" r="1.3"/><circle cx="492" cy="602" r="0.9"/><circle cx="451" cy="514" r="1.4"/><circle cx="357" cy="467" r="1.0"/><circle cx="400" cy="504" r="0.9"/><circle cx="421" cy="607" r="1.3"/><circle cx="380" cy="604" r="1.0"/><circle cx="404" cy="580" r="1.3"/><circle cx="369" cy="482" r="1.2"/><circle cx="370" cy="486" r="1.1"/><circle cx="370" cy="479" r="1.2"/><circle cx="438" cy="548" r="0.9"/><circle cx="385" cy="540" r="1.0"/><circle cx="454" cy="524" r="0.9"/><circle cx="336" cy="566" r="1.3"/><circle cx="451" cy="587" r="1.2"/><circle cx="486" cy="598" r="1.5"/><circle cx="484" cy="502" r="0.9"/><circle cx="412" cy="528" r="1.5"/><circle cx="341" cy="587" r="1.6"/><circle cx="457" cy="572" r="1.1"/><circle cx="486" cy="596" r="0.8"/><circle cx="352" cy="548" r="1.0"/><circle cx="400" cy="592" r="1.4"/><circle cx="424" cy="570" r="1.3"/><circle cx="465" cy="571" r="1.3"/><circle cx="340" cy="469" r="1.4"/><circle cx="333" cy="564" r="1.4"/><circle cx="416" cy="586" r="1.2"/><circle cx="364" cy="523" r="1.5"/><circle cx="457" cy="525" r="1.2"/><circle cx="420" cy="524" r="1.2"/><circle cx="341" cy="582" r="1.2"/><circle cx="480" cy="551" r="1.1"/><circle cx="489" cy="557" r="1.1"/><circle cx="453" cy="544" r="1.2"/><circle cx="350" cy="543" r="1.4"/><circle cx="479" cy="557" r="0.9"/><circle cx="454" cy="550" r="1.1"/><circle cx="482" cy="596" r="0.9"/><circle cx="410" cy="543" r="1.5"/><circle cx="390" cy="591" r="1.3"/><circle cx="395" cy="493" r="1.1"/><circle cx="384" cy="469" r="1.1"/><circle cx="414" cy="584" r="1.5"/><circle cx="421" cy="555" r="1.3"/><circle cx="410" cy="504" r="1.2"/><circle cx="381" cy="566" r="1.1"/><circle cx="425" cy="471" r="0.9"/><circle cx="466" cy="497" r="1.4"/><circle cx="377" cy="504" r="1.5"/><circle cx="434" cy="498" r="1.6"/><circle cx="458" cy="584" r="0.9"/><circle cx="372" cy="598" r="0.9"/><circle cx="484" cy="520" r="0.9"/><circle cx="490" cy="582" r="0.9"/><circle cx="481" cy="514" r="1.1"/><circle cx="365" cy="609" r="1.1"/><circle cx="434" cy="475" r="1.1"/><circle cx="486" cy="592" r="1.1"/><circle cx="388" cy="517" r="1.3"/><circle cx="337" cy="606" r="1.5"/><circle cx="404" cy="571" r="0.8"/></g><g fill="#f28cc8" opacity="0.50"><circle cx="378" cy="573" r="1.5"/><circle cx="447" cy="596" r="1.4"/><circle cx="415" cy="598" r="1.2"/><circle cx="378" cy="545" r="1.3"/><circle cx="381" cy="598" r="0.9"/><circle cx="428" cy="566" r="1.3"/><circle cx="464" cy="552" r="1.5"/><circle cx="374" cy="470" r="1.4"/><circle cx="345" cy="508" r="1.1"/><circle cx="494" cy="540" r="0.9"/><circle cx="490" cy="576" r="1.5"/><circle cx="475" cy="593" r="1.4"/><circle cx="396" cy="481" r="1.3"/><circle cx="455" cy="610" r="1.4"/><circle cx="344" cy="490" r="1.1"/><circle cx="472" cy="599" r="1.5"/><circle cx="369" cy="610" r="1.4"/><circle cx="351" cy="536" r="0.9"/><circle cx="493" cy="547" r="1.0"/><circle cx="451" cy="551" r="1.4"/><circle cx="458" cy="565" r="1.3"/><circle cx="480" cy="596" r="1.6"/><circle cx="347" cy="565" r="1.5"/><circle cx="485" cy="491" r="0.8"/><circle cx="400" cy="479" r="0.8"/><circle cx="355" cy="519" r="1.4"/><circle cx="475" cy="496" r="1.2"/><circle cx="383" cy="549" r="1.2"/><circle cx="471" cy="519" r="1.0"/><circle cx="397" cy="507" r="1.2"/><circle cx="427" cy="542" r="1.5"/><circle cx="478" cy="501" r="0.9"/><circle cx="356" cy="472" r="1.3"/><circle cx="374" cy="469" r="1.3"/><circle cx="436" cy="514" r="1.1"/><circle cx="487" cy="482" r="1.1"/><circle cx="444" cy="547" r="1.5"/><circle cx="482" cy="588" r="0.9"/><circle cx="452" cy="570" r="1.5"/><circle cx="347" cy="528" r="1.4"/><circle cx="344" cy="520" r="1.1"/><circle cx="457" cy="487" r="0.8"/><circle cx="478" cy="601" r="1.2"/><circle cx="341" cy="582" r="1.0"/><circle cx="344" cy="558" r="0.8"/><circle cx="474" cy="585" r="0.9"/><circle cx="356" cy="479" r="1.5"/><circle cx="460" cy="518" r="1.3"/><circle cx="375" cy="513" r="1.0"/><circle cx="398" cy="559" r="1.2"/><circle cx="387" cy="530" r="1.5"/><circle cx="420" cy="495" r="1.3"/><circle cx="465" cy="469" r="1.0"/><circle cx="388" cy="504" r="1.4"/><circle cx="417" cy="544" r="1.5"/><circle cx="369" cy="484" r="1.2"/><circle cx="400" cy="481" r="1.4"/><circle cx="492" cy="518" r="1.4"/><circle cx="457" cy="584" r="1.6"/><circle cx="342" cy="581" r="0.8"/><circle cx="444" cy="531" r="0.9"/><circle cx="427" cy="544" r="1.3"/><circle cx="435" cy="539" r="1.3"/><circle cx="409" cy="552" r="1.5"/><circle cx="412" cy="560" r="1.4"/><circle cx="438" cy="474" r="1.0"/><circle cx="455" cy="606" r="1.0"/><circle cx="406" cy="586" r="1.1"/><circle cx="351" cy="572" r="1.2"/><circle cx="392" cy="556" r="1.0"/><circle cx="455" cy="583" r="1.2"/><circle cx="337" cy="550" r="1.3"/><circle cx="447" cy="599" r="1.2"/><circle cx="353" cy="603" r="1.5"/><circle cx="364" cy="533" r="1.3"/><circle cx="447" cy="537" r="1.6"/><circle cx="475" cy="539" r="1.1"/><circle cx="344" cy="579" r="1.0"/><circle cx="350" cy="570" r="0.8"/><circle cx="391" cy="510" r="1.6"/><circle cx="366" cy="495" r="1.3"/><circle cx="361" cy="589" r="1.0"/><circle cx="369" cy="506" r="0.9"/><circle cx="492" cy="486" r="1.3"/><circle cx="467" cy="595" r="0.9"/><circle cx="478" cy="501" r="1.2"/><circle cx="375" cy="494" r="0.8"/><circle cx="411" cy="510" r="1.1"/><circle cx="467" cy="582" r="1.1"/><circle cx="470" cy="533" r="1.6"/><circle cx="426" cy="470" r="1.2"/><circle cx="429" cy="588" r="0.8"/><circle cx="364" cy="503" r="0.9"/><circle cx="416" cy="478" r="1.1"/><circle cx="384" cy="469" r="1.1"/><circle cx="452" cy="518" r="1.3"/><circle cx="454" cy="479" r="1.4"/></g><g fill="#ee6aa8" opacity="0.50"><circle cx="438" cy="577" r="1.3"/><circle cx="447" cy="508" r="1.2"/><circle cx="450" cy="503" r="1.5"/><circle cx="442" cy="544" r="1.5"/><circle cx="456" cy="473" r="1.0"/><circle cx="359" cy="577" r="0.9"/><circle cx="389" cy="519" r="1.0"/><circle cx="446" cy="558" r="0.8"/><circle cx="450" cy="584" r="1.0"/><circle cx="383" cy="497" r="1.4"/><circle cx="380" cy="494" r="1.6"/><circle cx="360" cy="597" r="1.2"/><circle cx="429" cy="516" r="1.2"/><circle cx="457" cy="564" r="1.5"/><circle cx="360" cy="606" r="0.9"/><circle cx="429" cy="604" r="0.9"/><circle cx="489" cy="602" r="1.2"/><circle cx="450" cy="545" r="1.5"/><circle cx="436" cy="523" r="1.5"/><circle cx="412" cy="557" r="1.0"/><circle cx="353" cy="561" r="1.2"/><circle cx="437" cy="570" r="0.9"/><circle cx="378" cy="527" r="1.4"/><circle cx="380" cy="561" r="1.1"/><circle cx="405" cy="488" r="1.1"/><circle cx="351" cy="530" r="0.9"/><circle cx="451" cy="568" r="1.5"/><circle cx="380" cy="497" r="1.4"/><circle cx="461" cy="504" r="1.0"/><circle cx="342" cy="602" r="1.0"/><circle cx="337" cy="512" r="1.5"/><circle cx="340" cy="575" r="0.8"/><circle cx="355" cy="572" r="1.5"/><circle cx="456" cy="503" r="1.0"/><circle cx="460" cy="601" r="1.0"/><circle cx="494" cy="485" r="1.2"/><circle cx="360" cy="511" r="1.4"/><circle cx="423" cy="609" r="1.3"/><circle cx="383" cy="490" r="0.9"/><circle cx="415" cy="573" r="0.9"/><circle cx="416" cy="509" r="1.4"/><circle cx="460" cy="504" r="1.4"/><circle cx="344" cy="480" r="1.2"/><circle cx="355" cy="549" r="1.4"/><circle cx="459" cy="571" r="1.0"/><circle cx="385" cy="481" r="1.6"/><circle cx="374" cy="571" r="1.0"/><circle cx="447" cy="592" r="1.5"/><circle cx="414" cy="584" r="1.4"/><circle cx="395" cy="502" r="1.5"/><circle cx="464" cy="553" r="1.5"/><circle cx="350" cy="496" r="1.6"/><circle cx="449" cy="586" r="1.6"/><circle cx="452" cy="563" r="1.4"/><circle cx="430" cy="607" r="1.2"/><circle cx="494" cy="560" r="1.0"/><circle cx="379" cy="485" r="1.4"/><circle cx="341" cy="501" r="1.3"/><circle cx="482" cy="510" r="1.0"/><circle cx="361" cy="514" r="1.5"/><circle cx="351" cy="474" r="0.9"/><circle cx="419" cy="524" r="1.0"/><circle cx="408" cy="472" r="1.6"/><circle cx="465" cy="541" r="1.3"/><circle cx="453" cy="543" r="1.2"/><circle cx="340" cy="512" r="1.6"/><circle cx="487" cy="588" r="1.0"/><circle cx="342" cy="471" r="1.4"/><circle cx="476" cy="482" r="0.9"/><circle cx="421" cy="512" r="1.5"/><circle cx="437" cy="582" r="1.0"/><circle cx="372" cy="467" r="1.0"/><circle cx="423" cy="524" r="1.4"/><circle cx="489" cy="532" r="1.2"/><circle cx="460" cy="592" r="1.1"/><circle cx="374" cy="548" r="1.0"/><circle cx="424" cy="547" r="0.9"/><circle cx="383" cy="501" r="0.8"/></g></g><g fill="#ea5a96" opacity="0.75"><circle cx="335" cy="605" r="0.5"/><circle cx="491" cy="485" r="0.5"/><circle cx="473" cy="543" r="0.5"/><circle cx="352" cy="574" r="0.6"/><circle cx="484" cy="571" r="0.5"/><circle cx="359" cy="601" r="0.8"/><circle cx="405" cy="547" r="0.7"/><circle cx="446" cy="595" r="0.5"/><circle cx="434" cy="582" r="0.5"/><circle cx="413" cy="477" r="0.7"/><circle cx="395" cy="597" r="0.7"/><circle cx="438" cy="581" r="0.6"/><circle cx="425" cy="541" r="0.7"/><circle cx="396" cy="557" r="0.5"/><circle cx="407" cy="487" r="0.8"/><circle cx="455" cy="477" r="0.7"/><circle cx="398" cy="519" r="0.8"/><circle cx="373" cy="545" r="0.8"/><circle cx="386" cy="486" r="0.8"/><circle cx="384" cy="580" r="0.6"/><circle cx="387" cy="468" r="0.8"/><circle cx="337" cy="606" r="0.6"/><circle cx="471" cy="598" r="0.6"/><circle cx="419" cy="545" r="0.6"/><circle cx="376" cy="540" r="0.6"/><circle cx="428" cy="608" r="0.6"/><circle cx="472" cy="577" r="0.7"/><circle cx="332" cy="547" r="0.6"/><circle cx="334" cy="565" r="0.7"/><circle cx="405" cy="530" r="0.5"/><circle cx="441" cy="544" r="0.7"/><circle cx="395" cy="515" r="0.8"/><circle cx="358" cy="544" r="0.6"/><circle cx="356" cy="543" r="0.6"/><circle cx="491" cy="561" r="0.8"/><circle cx="493" cy="476" r="0.7"/><circle cx="356" cy="495" r="0.6"/><circle cx="345" cy="540" r="0.6"/><circle cx="355" cy="515" r="0.8"/><circle cx="470" cy="549" r="0.7"/><circle cx="456" cy="508" r="0.8"/><circle cx="337" cy="514" r="0.6"/><circle cx="472" cy="554" r="0.8"/><circle cx="363" cy="497" r="0.6"/><circle cx="412" cy="601" r="0.7"/><circle cx="441" cy="552" r="0.7"/><circle cx="473" cy="475" r="0.5"/></g><g fill="#f07ec0" opacity="0.50"><circle cx="373" cy="540" r="0.6"/><circle cx="466" cy="567" r="0.7"/><circle cx="460" cy="570" r="0.5"/><circle cx="342" cy="525" r="0.5"/><circle cx="334" cy="579" r="0.8"/><circle cx="406" cy="538" r="0.5"/><circle cx="355" cy="598" r="0.6"/><circle cx="407" cy="581" r="0.5"/><circle cx="357" cy="504" r="0.7"/><circle cx="356" cy="572" r="0.7"/><circle cx="390" cy="490" r="0.8"/><circle cx="366" cy="577" r="0.5"/><circle cx="446" cy="591" r="0.8"/><circle cx="484" cy="531" r="0.7"/><circle cx="387" cy="504" r="0.7"/><circle cx="482" cy="498" r="0.6"/><circle cx="340" cy="511" r="0.6"/><circle cx="401" cy="530" r="0.8"/><circle cx="428" cy="579" r="0.6"/><circle cx="459" cy="513" r="0.8"/><circle cx="332" cy="567" r="0.6"/><circle cx="340" cy="465" r="0.7"/><circle cx="374" cy="477" r="0.6"/><circle cx="435" cy="567" r="0.7"/><circle cx="365" cy="489" r="0.7"/><circle cx="425" cy="582" r="0.7"/><circle cx="459" cy="520" r="0.8"/><circle cx="492" cy="609" r="0.8"/><circle cx="457" cy="492" r="0.8"/><circle cx="485" cy="534" r="0.5"/><circle cx="423" cy="538" r="0.8"/><circle cx="458" cy="551" r="0.8"/><circle cx="428" cy="580" r="0.8"/><circle cx="384" cy="498" r="0.8"/><circle cx="364" cy="600" r="0.8"/><circle cx="471" cy="513" r="0.8"/><circle cx="416" cy="580" r="0.7"/><circle cx="362" cy="466" r="0.5"/><circle cx="441" cy="524" r="0.8"/><circle cx="494" cy="540" r="0.5"/><circle cx="471" cy="533" r="0.5"/><circle cx="345" cy="565" r="0.7"/><circle cx="443" cy="584" r="0.7"/><circle cx="337" cy="475" r="0.5"/><circle cx="358" cy="501" r="0.6"/><circle cx="409" cy="518" r="0.6"/><circle cx="378" cy="562" r="0.6"/><circle cx="470" cy="494" r="0.5"/><circle cx="483" cy="604" r="0.5"/><circle cx="412" cy="521" r="0.8"/><circle cx="432" cy="563" r="0.8"/><circle cx="409" cy="527" r="0.5"/><circle cx="479" cy="495" r="0.6"/><circle cx="386" cy="559" r="0.7"/><circle cx="385" cy="470" r="0.8"/><circle cx="428" cy="534" r="0.6"/><circle cx="402" cy="542" r="0.5"/><circle cx="467" cy="540" r="0.7"/><circle cx="437" cy="466" r="0.6"/><circle cx="335" cy="523" r="0.5"/><circle cx="444" cy="542" r="0.7"/><circle cx="475" cy="590" r="0.7"/><circle cx="438" cy="578" r="0.7"/><circle cx="458" cy="522" r="0.8"/><circle cx="483" cy="532" r="0.6"/><circle cx="349" cy="480" r="0.7"/><circle cx="389" cy="574" r="0.7"/><circle cx="424" cy="582" r="0.6"/><circle cx="351" cy="549" r="0.6"/><circle cx="419" cy="609" r="0.5"/><circle cx="344" cy="519" r="0.7"/><circle cx="471" cy="541" r="0.7"/><circle cx="429" cy="478" r="0.6"/><circle cx="369" cy="563" r="0.8"/><circle cx="389" cy="504" r="0.6"/><circle cx="343" cy="508" r="0.7"/><circle cx="487" cy="532" r="0.5"/><circle cx="477" cy="582" r="0.8"/><circle cx="338" cy="477" r="0.5"/><circle cx="333" cy="554" r="0.6"/><circle cx="450" cy="607" r="0.5"/><circle cx="437" cy="492" r="0.7"/><circle cx="429" cy="528" r="0.7"/><circle cx="434" cy="608" r="0.8"/><circle cx="403" cy="487" r="0.8"/><circle cx="494" cy="586" r="0.8"/><circle cx="401" cy="492" r="0.6"/><circle cx="375" cy="594" r="0.5"/><circle cx="380" cy="548" r="0.8"/><circle cx="422" cy="531" r="0.7"/><circle cx="331" cy="557" r="0.8"/><circle cx="376" cy="556" r="0.7"/><circle cx="473" cy="566" r="0.8"/><circle cx="330" cy="597" r="0.7"/><circle cx="344" cy="496" r="0.6"/><circle cx="492" cy="494" r="0.5"/><circle cx="405" cy="564" r="0.6"/><circle cx="472" cy="547" r="0.8"/><circle cx="485" cy="534" r="0.6"/><circle cx="448" cy="598" r="0.5"/><circle cx="382" cy="509" r="0.8"/><circle cx="453" cy="561" r="0.8"/><circle cx="416" cy="482" r="0.6"/><circle cx="407" cy="538" r="0.5"/><circle cx="483" cy="512" r="0.8"/><circle cx="435" cy="520" r="0.6"/><circle cx="332" cy="602" r="0.8"/><circle cx="491" cy="558" r="0.6"/><circle cx="488" cy="529" r="0.7"/><circle cx="349" cy="548" r="0.8"/><circle cx="386" cy="563" r="0.6"/><circle cx="404" cy="587" r="0.6"/><circle cx="354" cy="554" r="0.7"/><circle cx="417" cy="480" r="0.6"/><circle cx="382" cy="551" r="0.7"/><circle cx="440" cy="467" r="0.7"/><circle cx="335" cy="574" r="0.6"/><circle cx="374" cy="523" r="0.5"/><circle cx="472" cy="597" r="0.5"/><circle cx="352" cy="471" r="0.8"/><circle cx="417" cy="580" r="0.5"/><circle cx="416" cy="587" r="0.8"/><circle cx="412" cy="586" r="0.6"/><circle cx="348" cy="499" r="0.5"/><circle cx="385" cy="517" r="0.6"/><circle cx="483" cy="575" r="0.6"/><circle cx="390" cy="522" r="0.8"/><circle cx="387" cy="496" r="0.8"/><circle cx="409" cy="584" r="0.7"/><circle cx="390" cy="510" r="0.6"/><circle cx="337" cy="475" r="0.5"/><circle cx="356" cy="546" r="0.8"/><circle cx="456" cy="517" r="0.6"/><circle cx="441" cy="472" r="0.7"/><circle cx="409" cy="546" r="0.5"/><circle cx="482" cy="587" r="0.8"/><circle cx="388" cy="563" r="0.5"/><circle cx="456" cy="534" r="0.6"/><circle cx="486" cy="547" r="0.5"/><circle cx="351" cy="478" r="0.8"/><circle cx="351" cy="574" r="0.8"/><circle cx="442" cy="561" r="0.8"/><circle cx="386" cy="523" r="0.6"/><circle cx="491" cy="534" r="0.8"/><circle cx="405" cy="531" r="0.7"/><circle cx="365" cy="601" r="0.8"/><circle cx="373" cy="532" r="0.7"/><circle cx="468" cy="479" r="0.7"/><circle cx="378" cy="607" r="0.5"/><circle cx="448" cy="586" r="0.6"/><circle cx="461" cy="479" r="0.8"/><circle cx="415" cy="549" r="0.6"/><circle cx="388" cy="523" r="0.5"/><circle cx="448" cy="553" r="0.6"/><circle cx="476" cy="492" r="0.6"/><circle cx="355" cy="557" r="0.5"/><circle cx="394" cy="588" r="0.7"/><circle cx="406" cy="505" r="0.5"/><circle cx="446" cy="487" r="0.5"/><circle cx="403" cy="534" r="0.5"/><circle cx="383" cy="543" r="0.7"/><circle cx="369" cy="553" r="0.6"/><circle cx="455" cy="567" r="0.8"/></g><g fill="#ea5a96" opacity="0.25"><circle cx="426" cy="478" r="0.7"/><circle cx="457" cy="585" r="0.7"/><circle cx="406" cy="495" r="0.6"/><circle cx="459" cy="495" r="0.5"/><circle cx="385" cy="562" r="0.6"/><circle cx="358" cy="566" r="0.5"/><circle cx="389" cy="540" r="0.7"/><circle cx="455" cy="483" r="0.6"/><circle cx="495" cy="519" r="0.7"/><circle cx="455" cy="552" r="0.8"/><circle cx="391" cy="485" r="0.7"/><circle cx="341" cy="476" r="0.5"/><circle cx="384" cy="527" r="0.8"/><circle cx="362" cy="508" r="0.7"/><circle cx="445" cy="543" r="0.5"/><circle cx="388" cy="530" r="0.8"/><circle cx="384" cy="491" r="0.7"/><circle cx="365" cy="597" r="0.6"/></g><g fill="#f07ec0" opacity="0.75"><circle cx="466" cy="566" r="0.5"/><circle cx="435" cy="560" r="0.5"/><circle cx="358" cy="535" r="0.7"/><circle cx="407" cy="498" r="0.5"/><circle cx="401" cy="534" r="0.8"/><circle cx="429" cy="562" r="0.6"/><circle cx="337" cy="546" r="0.5"/><circle cx="347" cy="584" r="0.7"/><circle cx="360" cy="527" r="0.5"/><circle cx="444" cy="466" r="0.5"/><circle cx="374" cy="556" r="0.8"/><circle cx="410" cy="532" r="0.7"/><circle cx="382" cy="600" r="0.6"/><circle cx="435" cy="600" r="0.5"/><circle cx="438" cy="600" r="0.7"/><circle cx="444" cy="580" r="0.8"/><circle cx="400" cy="605" r="0.6"/><circle cx="482" cy="516" r="0.8"/><circle cx="455" cy="517" r="0.7"/><circle cx="385" cy="528" r="0.6"/><circle cx="435" cy="551" r="0.7"/><circle cx="494" cy="482" r="0.6"/><circle cx="400" cy="581" r="0.5"/><circle cx="362" cy="524" r="0.7"/><circle cx="361" cy="483" r="0.6"/><circle cx="354" cy="470" r="0.7"/><circle cx="430" cy="500" r="0.8"/><circle cx="473" cy="500" r="0.7"/><circle cx="370" cy="599" r="0.5"/><circle cx="457" cy="544" r="0.5"/><circle cx="434" cy="489" r="0.8"/><circle cx="378" cy="572" r="0.7"/><circle cx="421" cy="480" r="0.5"/><circle cx="335" cy="543" r="0.5"/><circle cx="350" cy="498" r="0.8"/><circle cx="355" cy="595" r="0.6"/><circle cx="439" cy="594" r="0.8"/><circle cx="462" cy="588" r="0.8"/><circle cx="350" cy="544" r="0.7"/><circle cx="469" cy="546" r="0.8"/><circle cx="384" cy="505" r="0.8"/><circle cx="374" cy="520" r="0.5"/><circle cx="352" cy="475" r="0.8"/><circle cx="394" cy="571" r="0.8"/><circle cx="392" cy="600" r="0.6"/><circle cx="429" cy="575" r="0.5"/><circle cx="467" cy="518" r="0.6"/><circle cx="377" cy="548" r="0.8"/><circle cx="449" cy="525" r="0.5"/><circle cx="345" cy="469" r="0.7"/><circle cx="359" cy="517" r="0.8"/><circle cx="345" cy="543" r="0.5"/><circle cx="349" cy="490" r="0.7"/><circle cx="443" cy="603" r="0.7"/></g><g fill="#ee6aa8" opacity="0.50"><circle cx="466" cy="563" r="0.6"/><circle cx="386" cy="488" r="0.7"/><circle cx="489" cy="556" r="0.7"/><circle cx="352" cy="501" r="0.7"/><circle cx="395" cy="598" r="0.5"/><circle cx="394" cy="606" r="0.8"/><circle cx="485" cy="482" r="0.6"/><circle cx="354" cy="556" r="0.7"/><circle cx="410" cy="576" r="0.7"/><circle cx="379" cy="487" r="0.5"/><circle cx="451" cy="589" r="0.6"/><circle cx="479" cy="573" r="0.7"/><circle cx="392" cy="502" r="0.7"/><circle cx="331" cy="582" r="0.7"/><circle cx="423" cy="481" r="0.8"/><circle cx="347" cy="492" r="0.8"/><circle cx="407" cy="586" r="0.7"/><circle cx="439" cy="571" r="0.8"/><circle cx="458" cy="539" r="0.6"/><circle cx="382" cy="532" r="0.7"/><circle cx="488" cy="539" r="0.6"/><circle cx="400" cy="562" r="0.7"/><circle cx="344" cy="565" r="0.8"/><circle cx="473" cy="492" r="0.5"/><circle cx="441" cy="545" r="0.7"/><circle cx="338" cy="586" r="0.6"/><circle cx="462" cy="592" r="0.5"/><circle cx="368" cy="535" r="0.8"/><circle cx="453" cy="474" r="0.8"/><circle cx="366" cy="566" r="0.8"/><circle cx="445" cy="513" r="0.5"/><circle cx="463" cy="530" r="0.6"/><circle cx="449" cy="469" r="0.8"/><circle cx="475" cy="591" r="0.6"/><circle cx="469" cy="573" r="0.7"/><circle cx="398" cy="516" r="0.7"/><circle cx="476" cy="542" r="0.5"/><circle cx="450" cy="480" r="0.5"/><circle cx="419" cy="516" r="0.5"/><circle cx="346" cy="478" r="0.7"/><circle cx="354" cy="556" r="0.5"/><circle cx="475" cy="560" r="0.7"/><circle cx="377" cy="534" r="0.5"/><circle cx="489" cy="492" r="0.6"/><circle cx="383" cy="564" r="0.5"/><circle cx="391" cy="539" r="0.5"/><circle cx="355" cy="551" r="0.5"/><circle cx="444" cy="518" r="0.7"/><circle cx="337" cy="491" r="0.7"/><circle cx="468" cy="571" r="0.6"/><circle cx="334" cy="608" r="0.7"/><circle cx="414" cy="542" r="0.6"/><circle cx="431" cy="559" r="0.5"/><circle cx="351" cy="515" r="0.6"/><circle cx="458" cy="570" r="0.7"/><circle cx="336" cy="605" r="0.8"/><circle cx="463" cy="493" r="0.7"/><circle cx="398" cy="489" r="0.5"/><circle cx="361" cy="508" r="0.7"/><circle cx="392" cy="473" r="0.6"/><circle cx="341" cy="527" r="0.7"/><circle cx="402" cy="555" r="0.6"/><circle cx="474" cy="487" r="0.7"/><circle cx="367" cy="468" r="0.6"/><circle cx="345" cy="504" r="0.8"/><circle cx="478" cy="583" r="0.7"/><circle cx="404" cy="540" r="0.8"/><circle cx="416" cy="466" r="0.8"/><circle cx="484" cy="575" r="0.8"/><circle cx="478" cy="481" r="0.7"/><circle cx="358" cy="562" r="0.6"/><circle cx="347" cy="510" r="0.7"/><circle cx="468" cy="475" r="0.7"/><circle cx="417" cy="557" r="0.7"/><circle cx="350" cy="602" r="0.7"/><circle cx="409" cy="579" r="0.7"/><circle cx="396" cy="467" r="0.6"/><circle cx="440" cy="522" r="0.6"/><circle cx="429" cy="482" r="0.8"/><circle cx="482" cy="523" r="0.8"/><circle cx="430" cy="536" r="0.6"/><circle cx="354" cy="581" r="0.6"/><circle cx="461" cy="471" r="0.6"/><circle cx="433" cy="477" r="0.7"/><circle cx="445" cy="470" r="0.6"/><circle cx="494" cy="475" r="0.6"/><circle cx="387" cy="495" r="0.6"/><circle cx="472" cy="551" r="0.6"/><circle cx="406" cy="549" r="0.6"/><circle cx="456" cy="560" r="0.8"/><circle cx="438" cy="468" r="0.5"/><circle cx="418" cy="566" r="0.5"/><circle cx="459" cy="605" r="0.8"/><circle cx="453" cy="541" r="0.6"/><circle cx="410" cy="595" r="0.8"/><circle cx="459" cy="546" r="0.8"/><circle cx="406" cy="495" r="0.5"/><circle cx="433" cy="548" r="0.8"/><circle cx="416" cy="485" r="0.7"/><circle cx="401" cy="553" r="0.7"/><circle cx="491" cy="492" r="0.5"/><circle cx="402" cy="597" r="0.8"/><circle cx="439" cy="503" r="0.8"/><circle cx="388" cy="486" r="0.5"/><circle cx="486" cy="593" r="0.5"/><circle cx="339" cy="595" r="0.7"/><circle cx="342" cy="542" r="0.8"/><circle cx="399" cy="481" r="0.5"/><circle cx="471" cy="536" r="0.7"/><circle cx="482" cy="564" r="0.6"/><circle cx="488" cy="468" r="0.7"/><circle cx="364" cy="596" r="0.6"/><circle cx="411" cy="562" r="0.5"/><circle cx="385" cy="601" r="0.8"/><circle cx="375" cy="582" r="0.6"/><circle cx="479" cy="485" r="0.7"/><circle cx="370" cy="499" r="0.5"/><circle cx="377" cy="557" r="0.5"/><circle cx="360" cy="551" r="0.7"/><circle cx="477" cy="607" r="0.6"/><circle cx="342" cy="473" r="0.8"/><circle cx="433" cy="486" r="0.5"/><circle cx="353" cy="558" r="0.8"/><circle cx="413" cy="569" r="0.7"/><circle cx="493" cy="579" r="0.8"/><circle cx="474" cy="495" r="0.7"/><circle cx="334" cy="596" r="0.6"/><circle cx="384" cy="520" r="0.8"/><circle cx="429" cy="564" r="0.7"/><circle cx="347" cy="482" r="0.5"/><circle cx="369" cy="483" r="0.5"/><circle cx="354" cy="552" r="0.8"/><circle cx="364" cy="570" r="0.8"/><circle cx="442" cy="567" r="0.7"/><circle cx="348" cy="500" r="0.5"/><circle cx="358" cy="481" r="0.5"/><circle cx="456" cy="504" r="0.5"/><circle cx="394" cy="567" r="0.5"/><circle cx="409" cy="473" r="0.7"/><circle cx="413" cy="498" r="0.5"/><circle cx="371" cy="556" r="0.7"/><circle cx="431" cy="503" r="0.5"/><circle cx="368" cy="549" r="0.6"/><circle cx="359" cy="565" r="0.8"/><circle cx="393" cy="482" r="0.7"/><circle cx="411" cy="493" r="0.5"/><circle cx="331" cy="548" r="0.8"/><circle cx="456" cy="585" r="0.6"/><circle cx="448" cy="610" r="0.6"/><circle cx="407" cy="476" r="0.8"/><circle cx="429" cy="547" r="0.7"/><circle cx="414" cy="602" r="0.7"/><circle cx="457" cy="572" r="0.6"/><circle cx="457" cy="499" r="0.8"/><circle cx="470" cy="473" r="0.7"/><circle cx="415" cy="525" r="0.5"/><circle cx="399" cy="578" r="0.5"/><circle cx="361" cy="574" r="0.5"/><circle cx="361" cy="589" r="0.8"/><circle cx="454" cy="588" r="0.7"/><circle cx="421" cy="536" r="0.8"/><circle cx="476" cy="594" r="0.5"/><circle cx="427" cy="550" r="0.5"/><circle cx="437" cy="550" r="0.7"/><circle cx="436" cy="545" r="0.8"/><circle cx="489" cy="545" r="0.6"/><circle cx="337" cy="542" r="0.8"/><circle cx="335" cy="500" r="0.7"/><circle cx="379" cy="600" r="0.6"/><circle cx="427" cy="563" r="0.8"/></g><g fill="#ee6aa8" opacity="0.75"><circle cx="371" cy="581" r="0.8"/><circle cx="480" cy="582" r="0.6"/><circle cx="392" cy="512" r="0.7"/><circle cx="438" cy="593" r="0.8"/><circle cx="459" cy="598" r="0.5"/><circle cx="341" cy="583" r="0.6"/><circle cx="400" cy="526" r="0.8"/><circle cx="428" cy="608" r="0.5"/><circle cx="366" cy="514" r="0.8"/><circle cx="393" cy="575" r="0.8"/><circle cx="449" cy="553" r="0.8"/><circle cx="337" cy="591" r="0.7"/><circle cx="439" cy="506" r="0.5"/><circle cx="451" cy="580" r="0.7"/><circle cx="456" cy="606" r="0.5"/><circle cx="358" cy="532" r="0.7"/><circle cx="395" cy="473" r="0.6"/><circle cx="370" cy="565" r="0.5"/><circle cx="439" cy="570" r="0.5"/><circle cx="340" cy="467" r="0.7"/><circle cx="449" cy="586" r="0.8"/><circle cx="372" cy="608" r="0.8"/><circle cx="422" cy="482" r="0.8"/><circle cx="479" cy="470" r="0.5"/><circle cx="417" cy="515" r="0.5"/><circle cx="477" cy="492" r="0.7"/><circle cx="413" cy="563" r="0.7"/><circle cx="407" cy="562" r="0.7"/><circle cx="460" cy="595" r="0.7"/><circle cx="367" cy="470" r="0.7"/><circle cx="418" cy="557" r="0.7"/><circle cx="387" cy="505" r="0.8"/><circle cx="352" cy="467" r="0.5"/><circle cx="459" cy="504" r="0.6"/><circle cx="339" cy="509" r="0.6"/><circle cx="352" cy="565" r="0.5"/><circle cx="459" cy="558" r="0.8"/><circle cx="385" cy="533" r="0.5"/><circle cx="344" cy="548" r="0.5"/><circle cx="493" cy="519" r="0.6"/><circle cx="374" cy="544" r="0.5"/><circle cx="421" cy="575" r="0.5"/><circle cx="440" cy="510" r="0.7"/><circle cx="372" cy="575" r="0.5"/><circle cx="429" cy="569" r="0.7"/><circle cx="348" cy="591" r="0.7"/><circle cx="402" cy="574" r="0.6"/><circle cx="446" cy="604" r="0.7"/><circle cx="448" cy="591" r="0.8"/><circle cx="338" cy="484" r="0.6"/><circle cx="446" cy="488" r="0.7"/><circle cx="472" cy="523" r="0.5"/></g><g fill="#ea5a96" opacity="0.50"><circle cx="475" cy="575" r="0.8"/><circle cx="372" cy="538" r="0.8"/><circle cx="412" cy="538" r="0.7"/><circle cx="413" cy="591" r="0.5"/><circle cx="494" cy="506" r="0.5"/><circle cx="410" cy="579" r="0.7"/><circle cx="479" cy="561" r="0.7"/><circle cx="395" cy="576" r="0.5"/><circle cx="405" cy="536" r="0.7"/><circle cx="483" cy="504" r="0.7"/><circle cx="390" cy="517" r="0.8"/><circle cx="406" cy="592" r="0.8"/><circle cx="487" cy="567" r="0.6"/><circle cx="388" cy="555" r="0.6"/><circle cx="444" cy="486" r="0.8"/><circle cx="424" cy="543" r="0.8"/><circle cx="388" cy="515" r="0.7"/><circle cx="353" cy="603" r="0.7"/><circle cx="445" cy="519" r="0.5"/><circle cx="380" cy="516" r="0.7"/><circle cx="369" cy="501" r="0.8"/><circle cx="391" cy="570" r="0.7"/><circle cx="410" cy="498" r="0.5"/><circle cx="392" cy="508" r="0.7"/><circle cx="461" cy="504" r="0.8"/><circle cx="490" cy="502" r="0.6"/><circle cx="356" cy="603" r="0.5"/><circle cx="452" cy="558" r="0.8"/><circle cx="366" cy="479" r="0.8"/><circle cx="430" cy="518" r="0.8"/><circle cx="471" cy="589" r="0.7"/><circle cx="342" cy="512" r="0.6"/><circle cx="361" cy="473" r="0.6"/><circle cx="369" cy="574" r="0.7"/><circle cx="492" cy="496" r="0.5"/><circle cx="393" cy="606" r="0.7"/><circle cx="432" cy="517" r="0.8"/><circle cx="340" cy="516" r="0.7"/><circle cx="474" cy="549" r="0.7"/><circle cx="339" cy="550" r="0.8"/><circle cx="437" cy="536" r="0.8"/><circle cx="354" cy="529" r="0.5"/><circle cx="365" cy="502" r="0.5"/><circle cx="374" cy="554" r="0.5"/><circle cx="420" cy="559" r="0.7"/><circle cx="479" cy="499" r="0.8"/><circle cx="474" cy="581" r="0.6"/><circle cx="467" cy="477" r="0.6"/><circle cx="415" cy="561" r="0.5"/><circle cx="415" cy="472" r="0.7"/><circle cx="362" cy="525" r="0.7"/><circle cx="458" cy="556" r="0.5"/><circle cx="332" cy="511" r="0.5"/><circle cx="353" cy="609" r="0.6"/><circle cx="476" cy="555" r="0.8"/><circle cx="356" cy="531" r="0.7"/><circle cx="373" cy="465" r="0.7"/><circle cx="351" cy="491" r="0.5"/><circle cx="341" cy="559" r="0.7"/><circle cx="343" cy="527" r="0.7"/><circle cx="372" cy="519" r="0.8"/><circle cx="369" cy="574" r="0.6"/><circle cx="411" cy="600" r="0.5"/><circle cx="399" cy="516" r="0.6"/><circle cx="337" cy="589" r="0.7"/><circle cx="494" cy="486" r="0.6"/><circle cx="423" cy="520" r="0.6"/><circle cx="433" cy="605" r="0.6"/><circle cx="332" cy="580" r="0.7"/><circle cx="410" cy="521" r="0.5"/><circle cx="428" cy="511" r="0.8"/><circle cx="416" cy="469" r="0.6"/><circle cx="408" cy="528" r="0.6"/><circle cx="344" cy="478" r="0.6"/><circle cx="338" cy="556" r="0.5"/><circle cx="490" cy="549" r="0.6"/><circle cx="427" cy="561" r="0.6"/><circle cx="466" cy="502" r="0.6"/><circle cx="398" cy="509" r="0.6"/><circle cx="428" cy="515" r="0.6"/><circle cx="452" cy="603" r="0.6"/><circle cx="342" cy="469" r="0.8"/><circle cx="382" cy="571" r="0.5"/><circle cx="398" cy="499" r="0.8"/><circle cx="410" cy="544" r="0.7"/><circle cx="467" cy="483" r="0.8"/><circle cx="346" cy="542" r="0.7"/><circle cx="494" cy="519" r="0.7"/><circle cx="460" cy="545" r="0.6"/><circle cx="459" cy="600" r="0.5"/><circle cx="369" cy="485" r="0.6"/><circle cx="388" cy="486" r="0.5"/><circle cx="348" cy="478" r="0.6"/><circle cx="410" cy="601" r="0.6"/><circle cx="446" cy="469" r="0.6"/><circle cx="333" cy="500" r="0.6"/><circle cx="407" cy="508" r="0.8"/><circle cx="495" cy="502" r="0.5"/><circle cx="379" cy="492" r="0.6"/><circle cx="494" cy="542" r="0.5"/><circle cx="465" cy="547" r="0.6"/><circle cx="440" cy="572" r="0.8"/><circle cx="408" cy="495" r="0.8"/><circle cx="485" cy="479" r="0.5"/><circle cx="390" cy="559" r="0.5"/><circle cx="333" cy="544" r="0.8"/><circle cx="453" cy="599" r="0.5"/><circle cx="379" cy="558" r="0.6"/><circle cx="441" cy="567" r="0.5"/><circle cx="374" cy="480" r="0.7"/><circle cx="336" cy="473" r="0.5"/><circle cx="421" cy="503" r="0.8"/><circle cx="460" cy="561" r="0.6"/><circle cx="489" cy="520" r="0.8"/><circle cx="434" cy="608" r="0.8"/><circle cx="372" cy="486" r="0.5"/><circle cx="390" cy="473" r="0.6"/><circle cx="416" cy="466" r="0.8"/><circle cx="488" cy="484" r="0.6"/><circle cx="404" cy="474" r="0.8"/><circle cx="366" cy="573" r="0.8"/><circle cx="396" cy="570" r="0.7"/><circle cx="440" cy="489" r="0.6"/><circle cx="396" cy="579" r="0.7"/><circle cx="482" cy="489" r="0.8"/><circle cx="407" cy="511" r="0.7"/><circle cx="370" cy="481" r="0.6"/><circle cx="491" cy="595" r="0.8"/><circle cx="461" cy="598" r="0.5"/><circle cx="420" cy="553" r="0.8"/><circle cx="361" cy="514" r="0.6"/><circle cx="427" cy="546" r="0.6"/><circle cx="462" cy="494" r="0.8"/><circle cx="381" cy="599" r="0.5"/><circle cx="372" cy="609" r="0.6"/><circle cx="424" cy="567" r="0.6"/><circle cx="416" cy="564" r="0.7"/><circle cx="468" cy="469" r="0.7"/><circle cx="467" cy="500" r="0.5"/><circle cx="352" cy="587" r="0.7"/><circle cx="474" cy="525" r="0.7"/><circle cx="440" cy="474" r="0.6"/><circle cx="354" cy="569" r="0.5"/><circle cx="422" cy="497" r="0.5"/><circle cx="410" cy="502" r="0.8"/><circle cx="339" cy="510" r="0.7"/><circle cx="471" cy="595" r="0.5"/><circle cx="430" cy="540" r="0.6"/><circle cx="419" cy="473" r="0.8"/><circle cx="495" cy="537" r="0.5"/><circle cx="380" cy="532" r="0.7"/><circle cx="493" cy="524" r="0.7"/><circle cx="489" cy="574" r="0.8"/><circle cx="359" cy="511" r="0.7"/><circle cx="352" cy="557" r="0.5"/><circle cx="483" cy="472" r="0.6"/><circle cx="415" cy="525" r="0.5"/><circle cx="331" cy="604" r="0.8"/><circle cx="355" cy="603" r="0.6"/><circle cx="348" cy="506" r="0.5"/><circle cx="376" cy="584" r="0.6"/><circle cx="492" cy="465" r="0.5"/><circle cx="477" cy="477" r="0.8"/><circle cx="338" cy="594" r="0.5"/><circle cx="475" cy="537" r="0.7"/><circle cx="394" cy="597" r="0.5"/><circle cx="339" cy="583" r="0.8"/><circle cx="348" cy="598" r="0.5"/><circle cx="399" cy="493" r="0.6"/><circle cx="384" cy="530" r="0.5"/><circle cx="408" cy="596" r="0.8"/></g><g fill="#ee6aa8" opacity="0.25"><circle cx="415" cy="466" r="0.7"/><circle cx="403" cy="586" r="0.7"/><circle cx="440" cy="536" r="0.6"/><circle cx="471" cy="582" r="0.6"/><circle cx="465" cy="570" r="0.7"/><circle cx="351" cy="473" r="0.7"/><circle cx="359" cy="525" r="0.5"/><circle cx="374" cy="566" r="0.7"/><circle cx="427" cy="472" r="0.8"/><circle cx="380" cy="567" r="0.8"/><circle cx="387" cy="491" r="0.6"/><circle cx="362" cy="523" r="0.5"/><circle cx="470" cy="517" r="0.8"/><circle cx="433" cy="563" r="0.7"/><circle cx="471" cy="564" r="0.5"/><circle cx="490" cy="528" r="0.8"/><circle cx="397" cy="576" r="0.8"/></g><g fill="#f07ec0" opacity="0.25"><circle cx="388" cy="584" r="0.6"/><circle cx="365" cy="539" r="0.8"/><circle cx="488" cy="580" r="0.5"/><circle cx="358" cy="480" r="0.6"/><circle cx="430" cy="573" r="0.7"/><circle cx="394" cy="573" r="0.7"/><circle cx="338" cy="476" r="0.5"/><circle cx="348" cy="583" r="0.7"/><circle cx="431" cy="607" r="0.5"/><circle cx="462" cy="475" r="0.6"/><circle cx="486" cy="511" r="0.7"/><circle cx="335" cy="505" r="0.6"/><circle cx="347" cy="511" r="0.8"/><circle cx="408" cy="506" r="0.5"/><circle cx="342" cy="527" r="0.8"/><circle cx="495" cy="488" r="0.8"/><circle cx="418" cy="556" r="0.5"/><circle cx="455" cy="473" r="0.7"/><circle cx="381" cy="492" r="0.7"/><circle cx="374" cy="507" r="0.7"/><circle cx="386" cy="578" r="0.6"/><circle cx="422" cy="518" r="0.8"/><circle cx="335" cy="490" r="0.8"/><circle cx="453" cy="508" r="0.8"/><circle cx="477" cy="535" r="0.6"/></g><g filter="url(#blur05)"><g fill="#f494c8" opacity="0.75"><circle cx="345" cy="587" r="1.7"/><circle cx="458" cy="515" r="1.3"/><circle cx="402" cy="514" r="1.5"/><circle cx="485" cy="540" r="1.3"/><circle cx="359" cy="509" r="1.3"/><circle cx="386" cy="547" r="1.8"/><circle cx="384" cy="489" r="1.6"/><circle cx="345" cy="553" r="1.3"/><circle cx="349" cy="511" r="1.7"/><circle cx="415" cy="513" r="1.9"/><circle cx="465" cy="589" r="1.5"/><circle cx="348" cy="578" r="1.8"/><circle cx="353" cy="473" r="1.8"/><circle cx="385" cy="501" r="1.9"/></g><g fill="#f494c8" opacity="1.00"><circle cx="494" cy="607" r="1.4"/><circle cx="463" cy="602" r="2.0"/><circle cx="352" cy="562" r="1.8"/><circle cx="491" cy="476" r="1.9"/><circle cx="404" cy="605" r="1.9"/><circle cx="355" cy="535" r="1.7"/><circle cx="473" cy="537" r="2.0"/><circle cx="434" cy="535" r="1.9"/><circle cx="447" cy="553" r="1.5"/><circle cx="411" cy="576" r="1.5"/><circle cx="494" cy="527" r="2.0"/><circle cx="477" cy="603" r="1.6"/><circle cx="448" cy="542" r="1.9"/><circle cx="351" cy="536" r="1.6"/><circle cx="420" cy="471" r="1.5"/><circle cx="374" cy="596" r="1.9"/><circle cx="364" cy="475" r="1.6"/><circle cx="481" cy="479" r="1.3"/><circle cx="406" cy="500" r="1.6"/><circle cx="398" cy="572" r="2.0"/><circle cx="460" cy="513" r="1.6"/><circle cx="448" cy="480" r="1.9"/><circle cx="450" cy="536" r="1.7"/><circle cx="345" cy="483" r="1.3"/></g><g fill="#fcd0e8" opacity="1.00"><circle cx="422" cy="609" r="1.5"/><circle cx="476" cy="533" r="1.9"/><circle cx="405" cy="466" r="1.3"/><circle cx="480" cy="484" r="1.4"/><circle cx="460" cy="523" r="1.3"/><circle cx="355" cy="471" r="1.3"/></g><g fill="#f8b0d8" opacity="0.75"><circle cx="403" cy="536" r="1.3"/><circle cx="474" cy="558" r="1.3"/><circle cx="366" cy="503" r="1.4"/><circle cx="360" cy="526" r="1.8"/><circle cx="493" cy="569" r="1.8"/><circle cx="448" cy="570" r="1.6"/><circle cx="386" cy="518" r="1.9"/><circle cx="367" cy="472" r="1.8"/><circle cx="477" cy="550" r="1.7"/><circle cx="484" cy="493" r="1.9"/><circle cx="475" cy="496" r="1.4"/><circle cx="388" cy="477" r="1.6"/><circle cx="388" cy="481" r="1.7"/><circle cx="390" cy="583" r="1.3"/><circle cx="382" cy="603" r="1.7"/><circle cx="382" cy="539" r="1.5"/><circle cx="426" cy="580" r="1.2"/><circle cx="423" cy="507" r="1.4"/><circle cx="419" cy="488" r="1.4"/><circle cx="472" cy="573" r="1.4"/><circle cx="407" cy="526" r="1.8"/><circle cx="409" cy="560" r="1.4"/><circle cx="368" cy="593" r="1.7"/><circle cx="466" cy="562" r="1.4"/><circle cx="375" cy="541" r="2.0"/><circle cx="412" cy="466" r="1.4"/><circle cx="446" cy="504" r="1.6"/></g><g fill="#fde8f2" opacity="1.00"><circle cx="405" cy="553" r="1.3"/><circle cx="472" cy="473" r="1.4"/><circle cx="478" cy="558" r="1.7"/><circle cx="485" cy="600" r="1.9"/><circle cx="386" cy="482" r="1.5"/><circle cx="377" cy="595" r="1.5"/><circle cx="410" cy="543" r="1.7"/><circle cx="465" cy="560" r="1.6"/><circle cx="382" cy="567" r="1.3"/></g><g fill="#fde8f2" opacity="0.75"><circle cx="353" cy="539" r="1.5"/><circle cx="468" cy="520" r="1.9"/><circle cx="409" cy="596" r="1.2"/><circle cx="376" cy="521" r="1.2"/><circle cx="485" cy="597" r="2.0"/><circle cx="338" cy="579" r="1.5"/><circle cx="462" cy="569" r="1.4"/><circle cx="402" cy="601" r="1.4"/><circle cx="372" cy="602" r="1.7"/><circle cx="494" cy="596" r="1.8"/><circle cx="363" cy="500" r="1.9"/><circle cx="437" cy="509" r="2.0"/><circle cx="373" cy="532" r="1.7"/></g><g fill="#f8b0d8" opacity="1.00"><circle cx="407" cy="489" r="1.4"/><circle cx="422" cy="500" r="1.3"/><circle cx="457" cy="524" r="1.6"/><circle cx="412" cy="481" r="1.5"/><circle cx="374" cy="530" r="1.6"/><circle cx="332" cy="580" r="1.8"/><circle cx="347" cy="477" r="1.5"/><circle cx="357" cy="474" r="1.3"/><circle cx="410" cy="591" r="1.9"/><circle cx="367" cy="560" r="1.5"/><circle cx="402" cy="579" r="1.9"/><circle cx="469" cy="487" r="1.2"/><circle cx="460" cy="546" r="1.2"/><circle cx="341" cy="560" r="1.8"/><circle cx="354" cy="473" r="1.9"/></g><g fill="#fcd0e8" opacity="0.75"><circle cx="360" cy="591" r="1.5"/><circle cx="450" cy="571" r="1.9"/><circle cx="435" cy="573" r="1.7"/><circle cx="447" cy="526" r="1.7"/><circle cx="430" cy="479" r="2.0"/><circle cx="385" cy="596" r="1.6"/><circle cx="405" cy="602" r="1.9"/><circle cx="407" cy="589" r="1.5"/><circle cx="387" cy="514" r="1.9"/><circle cx="359" cy="466" r="1.2"/><circle cx="466" cy="606" r="1.6"/><circle cx="490" cy="484" r="1.8"/><circle cx="371" cy="516" r="1.2"/><circle cx="430" cy="480" r="1.7"/><circle cx="392" cy="603" r="1.4"/><circle cx="358" cy="524" r="2.0"/><circle cx="394" cy="562" r="1.3"/><circle cx="435" cy="576" r="2.0"/><circle cx="334" cy="470" r="1.8"/><circle cx="470" cy="525" r="1.3"/><circle cx="449" cy="599" r="1.4"/><circle cx="447" cy="518" r="1.5"/></g></g></g>
<path d="M333.0,496.5 C336.3,494.8 339.2,496.5 342.0,498.0 C344.8,499.5 348.5,502.2 349.5,505.5 C350.5,508.8 347.0,514.0 348.0,517.5 C349.0,521.0 354.5,522.8 355.5,526.5 C356.5,530.2 352.8,536.5 354.0,540.0 C355.2,543.5 362.5,544.5 363.0,547.5 C363.5,550.5 357.0,555.8 357.0,558.0 C357.0,560.2 362.5,558.5 363.0,561.0 C363.5,563.5 363.0,571.0 360.0,573.0 C357.0,575.0 350.2,574.5 345.0,573.0 C339.8,571.5 333.0,568.2 328.5,564.0 C324.0,559.8 320.0,554.0 318.0,547.5 C316.0,541.0 315.8,531.6 316.5,525.0 C317.2,518.4 319.2,512.8 322.0,508.0 C324.8,503.2 329.7,498.2 333.0,496.5 Z" fill="url(#peachg)" stroke="#f0cd7e" stroke-width="9" stroke-linejoin="round" paint-order="stroke"/>
<path d="M487.3,498.5 C490.5,499.6 496.6,502.6 500.0,506.0 C503.4,509.4 506.3,514.5 508.0,518.8 C509.7,523.1 509.8,527.6 510.0,532.0 C510.2,536.4 510.6,539.6 509.0,545.0 C507.4,550.4 503.5,560.0 500.3,564.3 C497.1,568.6 493.8,569.4 490.0,571.0 C486.2,572.6 481.5,574.0 477.5,574.0 C473.5,574.0 468.2,573.2 466.0,571.0 C463.8,568.8 465.6,564.3 464.5,561.0 C463.4,557.7 459.9,554.5 459.6,551.3 C459.3,548.0 461.3,544.8 462.9,541.5 C464.5,538.2 468.6,534.8 469.4,531.8 C470.2,528.8 467.3,526.7 467.8,523.7 C468.3,520.7 471.5,517.0 472.6,514.0 C473.7,511.0 472.9,508.2 474.3,505.8 C475.7,503.4 478.6,500.5 480.8,499.3 C483.0,498.1 484.1,497.4 487.3,498.5 Z" fill="url(#peachg)" stroke="#f0cd7e" stroke-width="9" stroke-linejoin="round" paint-order="stroke"/>
<path d="M474,508 Q481,514 478.5,522" fill="none" stroke="#f0cd7e" stroke-width="2.2" stroke-linecap="round" opacity="0.9"/>
<path d="M467,527 Q473.5,533 470.5,541" fill="none" stroke="#f0cd7e" stroke-width="2.2" stroke-linecap="round" opacity="0.9"/>
<path d="M462,546 Q469,552 466.5,561" fill="none" stroke="#f0cd7e" stroke-width="2.2" stroke-linecap="round" opacity="0.9"/>
<path d="M349.5,508 Q343,514 346,522" fill="none" stroke="#f0cd7e" stroke-width="2.2" stroke-linecap="round" opacity="0.9"/>
<path d="M356,528 Q349.5,534 352.5,542" fill="none" stroke="#f0cd7e" stroke-width="2.2" stroke-linecap="round" opacity="0.9"/>
<path d="M361,548 Q354.5,554 357.5,562" fill="none" stroke="#f0cd7e" stroke-width="2.2" stroke-linecap="round" opacity="0.9"/>
</svg>
<svg width="800" height="800" style="position:absolute;left:0;top:0">
<line x1="385.5" y1="92.8" x2="340" y2="111" stroke="#000" stroke-width="2.4" stroke-linecap="round"/>
<polygon points="326.8,116.5 341.5,105 346,113.8" fill="#000"/>
<line x1="270" y1="510" x2="224" y2="534" stroke="#000" stroke-width="2.4" stroke-linecap="round"/>
<polygon points="209.5,542.2 224,529.5 229.5,538.5" fill="#000"/>
<line x1="633" y1="179" x2="633" y2="667" stroke="#000" stroke-width="2.1"/>
<polygon points="628,665 638,665 633,684" fill="#000"/>
<line x1="271" y1="711" x2="538" y2="711" stroke="#000" stroke-width="2.1"/>
<polygon points="537,706 537,715.8 556.5,711" fill="#000"/>
</svg>

<div class="t" style="left:460.8px;top:8px;font-size:31px;letter-spacing:0.44px;">Material : Brass/Copper</div>
<div class="t" style="left:220.8px;top:127px;font-size:20.5px;letter-spacing:0.23px;">Diameter</div>
<div class="t" style="left:198.8px;top:154px;font-size:20.5px;letter-spacing:0.37px;">5mm/0.20inch</div>
<div class="t" style="left:87px;top:532px;font-size:20px;">Thickness</div>
<div class="t" style="left:61px;top:558px;font-size:20px;">1.9mm/0.07inch</div>
<div class="t" style="left:652.8px;top:377.8px;font-size:21px;letter-spacing:0.32px;">22mm</div>
<div class="t" style="left:652.9px;top:403px;font-size:21px;letter-spacing:0.19px;">0.87inch</div>
<div class="t" style="left:326.5px;top:728.2px;font-size:24px;letter-spacing:0.55px;">12.5mm/0.50inch</div>
<div class="t" style="left:298.5px;top:755px;font-size:20px;letter-spacing:0.43px;">Weight :2.3g/0.08ounce</div>

</body></html>
